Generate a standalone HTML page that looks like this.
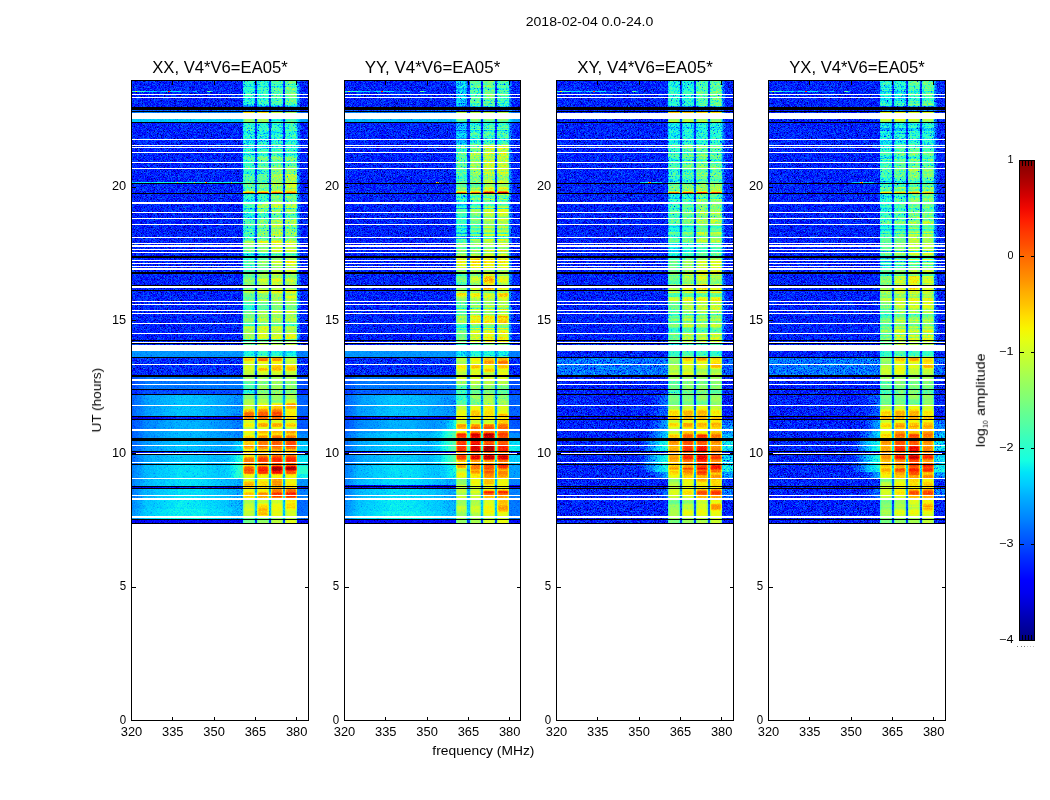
<!DOCTYPE html>
<html><head><meta charset="utf-8"><title>2018-02-04 0.0-24.0</title>
<style>html,body{margin:0;padding:0;background:#fff;}body{width:1050px;height:800px;overflow:hidden;font-family:"Liberation Sans",sans-serif;}svg{display:block;}text{font-family:"Liberation Sans",sans-serif;fill:#000;}.s{mix-blend-mode:screen}.m{mix-blend-mode:multiply}</style>
</head><body>
<svg width="1050" height="800" viewBox="0 0 1050 800">
<defs>
<filter id="jet0" x="0" y="0" width="100%" height="100%" filterUnits="objectBoundingBox" color-interpolation-filters="sRGB">
<feTurbulence type="fractalNoise" baseFrequency="1.7 1.63" numOctaves="1" seed="3" result="n"/>
<feColorMatrix in="n" type="matrix" values="1 0 0 0 0  1 0 0 0 0  1 0 0 0 0  0 0 0 0 1" result="n1"/>
<feComponentTransfer in="n1" result="ng"><feFuncR type="table" tableValues="0 0 0 0 0 0 0 0 0 0 0 0 0 .004 .064 .12 .165 .21 .249 .285 .313 .338 .359 .377 .393 .408 .423 .436 .449 .463 .477 .489 .499 .511 .521 .532 .541 .549 .557 .564 .57 .578 .585 .592 .6 .608 .616 .626 .634 .641 .649 .655 .663 .663 .663 .663 .663 .663 .663 .663 .663 .663 .663 .663 .663"/><feFuncG type="table" tableValues="0 0 0 0 0 0 0 0 0 0 0 0 0 .004 .064 .12 .165 .21 .249 .285 .313 .338 .359 .377 .393 .408 .423 .436 .449 .463 .477 .489 .499 .511 .521 .532 .541 .549 .557 .564 .57 .578 .585 .592 .6 .608 .616 .626 .634 .641 .649 .655 .663 .663 .663 .663 .663 .663 .663 .663 .663 .663 .663 .663 .663"/><feFuncB type="table" tableValues="0 0 0 0 0 0 0 0 0 0 0 0 0 .004 .064 .12 .165 .21 .249 .285 .313 .338 .359 .377 .393 .408 .423 .436 .449 .463 .477 .489 .499 .511 .521 .532 .541 .549 .557 .564 .57 .578 .585 .592 .6 .608 .616 .626 .634 .641 .649 .655 .663 .663 .663 .663 .663 .663 .663 .663 .663 .663 .663 .663 .663"/></feComponentTransfer>
<feColorMatrix in="SourceGraphic" type="matrix" values="1 0 0 0 0  1 0 0 0 0  1 0 0 0 0  0 0 0 0 1" result="val"/>
<feColorMatrix in="SourceGraphic" type="matrix" values="0 1 0 0 0  0 1 0 0 0  0 1 0 0 0  0 0 0 0 1" result="amp"/>
<feComposite in="amp" in2="ng" operator="arithmetic" k1="1" k2="0" k3="0" k4="0" result="prod"/>
<feComposite in="val" in2="prod" operator="arithmetic" k1="0" k2="1.25" k3="1" k4="-0.25" result="v"/>
<feComponentTransfer in="v">
<feFuncR type="table" tableValues="0 0 0 0 0 0 0 0 0 0 0 0 0 0 0 0 0 0 0 0 0 0 0 .035 .085 .136 .187 .237 .288 .338 .389 .44 .49 .541 .591 .642 .693 .743 .794 .844 .895 .946 .996 1 1 1 1 1 1 1 1 1 1 1 1 1 1 .981 .91 .839 .767 .696 .625 .553 .5"/>
<feFuncG type="table" tableValues="0 0 0 0 0 0 0 0 .002 .065 .127 .19 .253 .316 .378 .441 .504 .567 .629 .692 .755 .818 .88 .943 1 1 1 1 1 1 1 1 1 1 1 1 1 1 1 1 1 .988 .93 .872 .814 .756 .698 .64 .582 .524 .466 .407 .349 .291 .233 .175 .117 .059 .001 0 0 0 0 0 0"/>
<feFuncB type="table" tableValues=".5 .571 .643 .714 .785 .857 .928 .999 1 1 1 1 1 1 1 1 1 1 1 1 1 1 .984 .933 .882 .832 .781 .731 .68 .629 .579 .528 .478 .427 .376 .326 .275 .225 .174 .123 .073 .022 0 0 0 0 0 0 0 0 0 0 0 0 0 0 0 0 0 0 0 0 0 0 0"/>
<feFuncA type="linear" slope="0" intercept="1"/>
</feComponentTransfer>
</filter>
<filter id="jet1" x="0" y="0" width="100%" height="100%" filterUnits="objectBoundingBox" color-interpolation-filters="sRGB">
<feTurbulence type="fractalNoise" baseFrequency="1.7 1.63" numOctaves="1" seed="10" result="n"/>
<feColorMatrix in="n" type="matrix" values="1 0 0 0 0  1 0 0 0 0  1 0 0 0 0  0 0 0 0 1" result="n1"/>
<feComponentTransfer in="n1" result="ng"><feFuncR type="table" tableValues="0 0 0 0 0 0 0 0 0 0 0 0 0 .004 .064 .12 .165 .21 .249 .285 .313 .338 .359 .377 .393 .408 .423 .436 .449 .463 .477 .489 .499 .511 .521 .532 .541 .549 .557 .564 .57 .578 .585 .592 .6 .608 .616 .626 .634 .641 .649 .655 .663 .663 .663 .663 .663 .663 .663 .663 .663 .663 .663 .663 .663"/><feFuncG type="table" tableValues="0 0 0 0 0 0 0 0 0 0 0 0 0 .004 .064 .12 .165 .21 .249 .285 .313 .338 .359 .377 .393 .408 .423 .436 .449 .463 .477 .489 .499 .511 .521 .532 .541 .549 .557 .564 .57 .578 .585 .592 .6 .608 .616 .626 .634 .641 .649 .655 .663 .663 .663 .663 .663 .663 .663 .663 .663 .663 .663 .663 .663"/><feFuncB type="table" tableValues="0 0 0 0 0 0 0 0 0 0 0 0 0 .004 .064 .12 .165 .21 .249 .285 .313 .338 .359 .377 .393 .408 .423 .436 .449 .463 .477 .489 .499 .511 .521 .532 .541 .549 .557 .564 .57 .578 .585 .592 .6 .608 .616 .626 .634 .641 .649 .655 .663 .663 .663 .663 .663 .663 .663 .663 .663 .663 .663 .663 .663"/></feComponentTransfer>
<feColorMatrix in="SourceGraphic" type="matrix" values="1 0 0 0 0  1 0 0 0 0  1 0 0 0 0  0 0 0 0 1" result="val"/>
<feColorMatrix in="SourceGraphic" type="matrix" values="0 1 0 0 0  0 1 0 0 0  0 1 0 0 0  0 0 0 0 1" result="amp"/>
<feComposite in="amp" in2="ng" operator="arithmetic" k1="1" k2="0" k3="0" k4="0" result="prod"/>
<feComposite in="val" in2="prod" operator="arithmetic" k1="0" k2="1.25" k3="1" k4="-0.25" result="v"/>
<feComponentTransfer in="v">
<feFuncR type="table" tableValues="0 0 0 0 0 0 0 0 0 0 0 0 0 0 0 0 0 0 0 0 0 0 0 .035 .085 .136 .187 .237 .288 .338 .389 .44 .49 .541 .591 .642 .693 .743 .794 .844 .895 .946 .996 1 1 1 1 1 1 1 1 1 1 1 1 1 1 .981 .91 .839 .767 .696 .625 .553 .5"/>
<feFuncG type="table" tableValues="0 0 0 0 0 0 0 0 .002 .065 .127 .19 .253 .316 .378 .441 .504 .567 .629 .692 .755 .818 .88 .943 1 1 1 1 1 1 1 1 1 1 1 1 1 1 1 1 1 .988 .93 .872 .814 .756 .698 .64 .582 .524 .466 .407 .349 .291 .233 .175 .117 .059 .001 0 0 0 0 0 0"/>
<feFuncB type="table" tableValues=".5 .571 .643 .714 .785 .857 .928 .999 1 1 1 1 1 1 1 1 1 1 1 1 1 1 .984 .933 .882 .832 .781 .731 .68 .629 .579 .528 .478 .427 .376 .326 .275 .225 .174 .123 .073 .022 0 0 0 0 0 0 0 0 0 0 0 0 0 0 0 0 0 0 0 0 0 0 0"/>
<feFuncA type="linear" slope="0" intercept="1"/>
</feComponentTransfer>
</filter>
<filter id="jet2" x="0" y="0" width="100%" height="100%" filterUnits="objectBoundingBox" color-interpolation-filters="sRGB">
<feTurbulence type="fractalNoise" baseFrequency="1.7 1.63" numOctaves="1" seed="17" result="n"/>
<feColorMatrix in="n" type="matrix" values="1 0 0 0 0  1 0 0 0 0  1 0 0 0 0  0 0 0 0 1" result="n1"/>
<feComponentTransfer in="n1" result="ng"><feFuncR type="table" tableValues="0 0 0 0 0 0 0 0 0 0 0 0 0 .004 .064 .12 .165 .21 .249 .285 .313 .338 .359 .377 .393 .408 .423 .436 .449 .463 .477 .489 .499 .511 .521 .532 .541 .549 .557 .564 .57 .578 .585 .592 .6 .608 .616 .626 .634 .641 .649 .655 .663 .663 .663 .663 .663 .663 .663 .663 .663 .663 .663 .663 .663"/><feFuncG type="table" tableValues="0 0 0 0 0 0 0 0 0 0 0 0 0 .004 .064 .12 .165 .21 .249 .285 .313 .338 .359 .377 .393 .408 .423 .436 .449 .463 .477 .489 .499 .511 .521 .532 .541 .549 .557 .564 .57 .578 .585 .592 .6 .608 .616 .626 .634 .641 .649 .655 .663 .663 .663 .663 .663 .663 .663 .663 .663 .663 .663 .663 .663"/><feFuncB type="table" tableValues="0 0 0 0 0 0 0 0 0 0 0 0 0 .004 .064 .12 .165 .21 .249 .285 .313 .338 .359 .377 .393 .408 .423 .436 .449 .463 .477 .489 .499 .511 .521 .532 .541 .549 .557 .564 .57 .578 .585 .592 .6 .608 .616 .626 .634 .641 .649 .655 .663 .663 .663 .663 .663 .663 .663 .663 .663 .663 .663 .663 .663"/></feComponentTransfer>
<feColorMatrix in="SourceGraphic" type="matrix" values="1 0 0 0 0  1 0 0 0 0  1 0 0 0 0  0 0 0 0 1" result="val"/>
<feColorMatrix in="SourceGraphic" type="matrix" values="0 1 0 0 0  0 1 0 0 0  0 1 0 0 0  0 0 0 0 1" result="amp"/>
<feComposite in="amp" in2="ng" operator="arithmetic" k1="1" k2="0" k3="0" k4="0" result="prod"/>
<feComposite in="val" in2="prod" operator="arithmetic" k1="0" k2="1.25" k3="1" k4="-0.25" result="v"/>
<feComponentTransfer in="v">
<feFuncR type="table" tableValues="0 0 0 0 0 0 0 0 0 0 0 0 0 0 0 0 0 0 0 0 0 0 0 .035 .085 .136 .187 .237 .288 .338 .389 .44 .49 .541 .591 .642 .693 .743 .794 .844 .895 .946 .996 1 1 1 1 1 1 1 1 1 1 1 1 1 1 .981 .91 .839 .767 .696 .625 .553 .5"/>
<feFuncG type="table" tableValues="0 0 0 0 0 0 0 0 .002 .065 .127 .19 .253 .316 .378 .441 .504 .567 .629 .692 .755 .818 .88 .943 1 1 1 1 1 1 1 1 1 1 1 1 1 1 1 1 1 .988 .93 .872 .814 .756 .698 .64 .582 .524 .466 .407 .349 .291 .233 .175 .117 .059 .001 0 0 0 0 0 0"/>
<feFuncB type="table" tableValues=".5 .571 .643 .714 .785 .857 .928 .999 1 1 1 1 1 1 1 1 1 1 1 1 1 1 .984 .933 .882 .832 .781 .731 .68 .629 .579 .528 .478 .427 .376 .326 .275 .225 .174 .123 .073 .022 0 0 0 0 0 0 0 0 0 0 0 0 0 0 0 0 0 0 0 0 0 0 0"/>
<feFuncA type="linear" slope="0" intercept="1"/>
</feComponentTransfer>
</filter>
<filter id="jet3" x="0" y="0" width="100%" height="100%" filterUnits="objectBoundingBox" color-interpolation-filters="sRGB">
<feTurbulence type="fractalNoise" baseFrequency="1.7 1.63" numOctaves="1" seed="24" result="n"/>
<feColorMatrix in="n" type="matrix" values="1 0 0 0 0  1 0 0 0 0  1 0 0 0 0  0 0 0 0 1" result="n1"/>
<feComponentTransfer in="n1" result="ng"><feFuncR type="table" tableValues="0 0 0 0 0 0 0 0 0 0 0 0 0 .004 .064 .12 .165 .21 .249 .285 .313 .338 .359 .377 .393 .408 .423 .436 .449 .463 .477 .489 .499 .511 .521 .532 .541 .549 .557 .564 .57 .578 .585 .592 .6 .608 .616 .626 .634 .641 .649 .655 .663 .663 .663 .663 .663 .663 .663 .663 .663 .663 .663 .663 .663"/><feFuncG type="table" tableValues="0 0 0 0 0 0 0 0 0 0 0 0 0 .004 .064 .12 .165 .21 .249 .285 .313 .338 .359 .377 .393 .408 .423 .436 .449 .463 .477 .489 .499 .511 .521 .532 .541 .549 .557 .564 .57 .578 .585 .592 .6 .608 .616 .626 .634 .641 .649 .655 .663 .663 .663 .663 .663 .663 .663 .663 .663 .663 .663 .663 .663"/><feFuncB type="table" tableValues="0 0 0 0 0 0 0 0 0 0 0 0 0 .004 .064 .12 .165 .21 .249 .285 .313 .338 .359 .377 .393 .408 .423 .436 .449 .463 .477 .489 .499 .511 .521 .532 .541 .549 .557 .564 .57 .578 .585 .592 .6 .608 .616 .626 .634 .641 .649 .655 .663 .663 .663 .663 .663 .663 .663 .663 .663 .663 .663 .663 .663"/></feComponentTransfer>
<feColorMatrix in="SourceGraphic" type="matrix" values="1 0 0 0 0  1 0 0 0 0  1 0 0 0 0  0 0 0 0 1" result="val"/>
<feColorMatrix in="SourceGraphic" type="matrix" values="0 1 0 0 0  0 1 0 0 0  0 1 0 0 0  0 0 0 0 1" result="amp"/>
<feComposite in="amp" in2="ng" operator="arithmetic" k1="1" k2="0" k3="0" k4="0" result="prod"/>
<feComposite in="val" in2="prod" operator="arithmetic" k1="0" k2="1.25" k3="1" k4="-0.25" result="v"/>
<feComponentTransfer in="v">
<feFuncR type="table" tableValues="0 0 0 0 0 0 0 0 0 0 0 0 0 0 0 0 0 0 0 0 0 0 0 .035 .085 .136 .187 .237 .288 .338 .389 .44 .49 .541 .591 .642 .693 .743 .794 .844 .895 .946 .996 1 1 1 1 1 1 1 1 1 1 1 1 1 1 .981 .91 .839 .767 .696 .625 .553 .5"/>
<feFuncG type="table" tableValues="0 0 0 0 0 0 0 0 .002 .065 .127 .19 .253 .316 .378 .441 .504 .567 .629 .692 .755 .818 .88 .943 1 1 1 1 1 1 1 1 1 1 1 1 1 1 1 1 1 .988 .93 .872 .814 .756 .698 .64 .582 .524 .466 .407 .349 .291 .233 .175 .117 .059 .001 0 0 0 0 0 0"/>
<feFuncB type="table" tableValues=".5 .571 .643 .714 .785 .857 .928 .999 1 1 1 1 1 1 1 1 1 1 1 1 1 1 .984 .933 .882 .832 .781 .731 .68 .629 .579 .528 .478 .427 .376 .326 .275 .225 .174 .123 .073 .022 0 0 0 0 0 0 0 0 0 0 0 0 0 0 0 0 0 0 0 0 0 0 0"/>
<feFuncA type="linear" slope="0" intercept="1"/>
</feComponentTransfer>
</filter>
<linearGradient id="cb" x1="0" y1="1" x2="0" y2="0">
<stop offset="0.000" stop-color="#000080"/>
<stop offset="0.025" stop-color="#00009b"/>
<stop offset="0.050" stop-color="#0000b6"/>
<stop offset="0.075" stop-color="#0000d6"/>
<stop offset="0.100" stop-color="#0000f1"/>
<stop offset="0.125" stop-color="#0000ff"/>
<stop offset="0.150" stop-color="#0018ff"/>
<stop offset="0.175" stop-color="#0030ff"/>
<stop offset="0.200" stop-color="#004cff"/>
<stop offset="0.225" stop-color="#0064ff"/>
<stop offset="0.250" stop-color="#0080ff"/>
<stop offset="0.275" stop-color="#0098ff"/>
<stop offset="0.300" stop-color="#00b0ff"/>
<stop offset="0.325" stop-color="#00ccff"/>
<stop offset="0.350" stop-color="#00e4f8"/>
<stop offset="0.375" stop-color="#16ffe1"/>
<stop offset="0.400" stop-color="#29ffce"/>
<stop offset="0.425" stop-color="#3cffba"/>
<stop offset="0.450" stop-color="#53ffa4"/>
<stop offset="0.475" stop-color="#66ff90"/>
<stop offset="0.500" stop-color="#7dff7a"/>
<stop offset="0.525" stop-color="#90ff66"/>
<stop offset="0.550" stop-color="#a4ff53"/>
<stop offset="0.575" stop-color="#baff3c"/>
<stop offset="0.600" stop-color="#ceff29"/>
<stop offset="0.625" stop-color="#e4ff13"/>
<stop offset="0.650" stop-color="#f8f500"/>
<stop offset="0.675" stop-color="#ffde00"/>
<stop offset="0.700" stop-color="#ffc400"/>
<stop offset="0.725" stop-color="#ffae00"/>
<stop offset="0.750" stop-color="#ff9400"/>
<stop offset="0.775" stop-color="#ff7e00"/>
<stop offset="0.800" stop-color="#ff6800"/>
<stop offset="0.825" stop-color="#ff4e00"/>
<stop offset="0.850" stop-color="#ff3800"/>
<stop offset="0.875" stop-color="#ff1e00"/>
<stop offset="0.900" stop-color="#f10800"/>
<stop offset="0.925" stop-color="#d60000"/>
<stop offset="0.950" stop-color="#b60000"/>
<stop offset="0.975" stop-color="#9b0000"/>
<stop offset="1.000" stop-color="#800000"/>
</linearGradient>
<linearGradient id="b00" gradientUnits="userSpaceOnUse" x1="0" y1="80" x2="0" y2="524">
<stop offset="0.0027" stop-color="#4b9e00"/><stop offset="0.0581" stop-color="#4b9e00"/><stop offset="0.0626" stop-color="#252400"/><stop offset="0.0658" stop-color="#252400"/><stop offset="0.0698" stop-color="#3f9e00"/><stop offset="0.0732" stop-color="#be2400"/><stop offset="0.0770" stop-color="#a93800"/><stop offset="0.0919" stop-color="#a93800"/><stop offset="0.0973" stop-color="#4b9e00"/><stop offset="0.1302" stop-color="#4b9e00"/><stop offset="0.1356" stop-color="#4b9e00"/><stop offset="0.1595" stop-color="#4b9e00"/><stop offset="0.1649" stop-color="#509e00"/><stop offset="0.1955" stop-color="#509e00"/><stop offset="0.2009" stop-color="#509e00"/><stop offset="0.2293" stop-color="#509e00"/><stop offset="0.2347" stop-color="#589e00"/><stop offset="0.2495" stop-color="#589e00"/><stop offset="0.2534" stop-color="#c62400"/><stop offset="0.2572" stop-color="#499e00"/><stop offset="0.2743" stop-color="#499e00"/><stop offset="0.2797" stop-color="#509e00"/><stop offset="0.2946" stop-color="#509e00"/><stop offset="0.3000" stop-color="#549e00"/><stop offset="0.3216" stop-color="#549e00"/><stop offset="0.3270" stop-color="#549e00"/><stop offset="0.3509" stop-color="#549e00"/><stop offset="0.3563" stop-color="#589e00"/><stop offset="0.3622" stop-color="#589e00"/><stop offset="0.3660" stop-color="#995700"/><stop offset="0.3698" stop-color="#7a5700"/><stop offset="0.3959" stop-color="#7a5700"/><stop offset="0.4014" stop-color="#745700"/><stop offset="0.4320" stop-color="#745700"/><stop offset="0.4374" stop-color="#855700"/><stop offset="0.4703" stop-color="#855700"/><stop offset="0.4757" stop-color="#895700"/><stop offset="0.4838" stop-color="#895700"/><stop offset="0.4883" stop-color="#895700"/><stop offset="0.4914" stop-color="#895700"/><stop offset="0.4950" stop-color="#895700"/><stop offset="0.4982" stop-color="#895700"/><stop offset="0.5027" stop-color="#7a5700"/><stop offset="0.5221" stop-color="#7a5700"/><stop offset="0.5275" stop-color="#855700"/><stop offset="0.5446" stop-color="#855700"/><stop offset="0.5500" stop-color="#895700"/><stop offset="0.5671" stop-color="#895700"/><stop offset="0.5725" stop-color="#855700"/><stop offset="0.5941" stop-color="#855700"/><stop offset="0.5995" stop-color="#5e5700"/><stop offset="0.6212" stop-color="#5e5700"/><stop offset="0.6257" stop-color="#b62400"/><stop offset="0.6311" stop-color="#b62400"/><stop offset="0.6347" stop-color="#a92400"/><stop offset="0.6378" stop-color="#a92400"/><stop offset="0.6414" stop-color="#a32400"/><stop offset="0.6468" stop-color="#a32400"/><stop offset="0.6505" stop-color="#a32400"/><stop offset="0.6536" stop-color="#a32400"/><stop offset="0.6572" stop-color="#9d2400"/><stop offset="0.6626" stop-color="#9d2400"/><stop offset="0.6671" stop-color="#913800"/><stop offset="0.6752" stop-color="#913800"/><stop offset="0.6797" stop-color="#705700"/><stop offset="0.6851" stop-color="#705700"/><stop offset="0.6887" stop-color="#7c3800"/><stop offset="0.6941" stop-color="#7c3800"/><stop offset="0.6986" stop-color="#685700"/><stop offset="0.7045" stop-color="#685700"/><stop offset="0.7099" stop-color="#952400"/><stop offset="0.7180" stop-color="#952400"/><stop offset="0.7225" stop-color="#992400"/><stop offset="0.7257" stop-color="#992400"/><stop offset="0.7293" stop-color="#9d2400"/><stop offset="0.7324" stop-color="#9d2400"/><stop offset="0.7360" stop-color="#a12400"/><stop offset="0.7392" stop-color="#a12400"/><stop offset="0.7428" stop-color="#ba2400"/><stop offset="0.7459" stop-color="#ba2400"/><stop offset="0.7505" stop-color="#ca2400"/><stop offset="0.7563" stop-color="#ca2400"/><stop offset="0.7608" stop-color="#c62400"/><stop offset="0.7640" stop-color="#c62400"/><stop offset="0.7676" stop-color="#a52400"/><stop offset="0.7707" stop-color="#a52400"/><stop offset="0.7743" stop-color="#ad2400"/><stop offset="0.7797" stop-color="#ad2400"/><stop offset="0.7833" stop-color="#9f2400"/><stop offset="0.7887" stop-color="#9f2400"/><stop offset="0.7923" stop-color="#ad2400"/><stop offset="0.7955" stop-color="#ad2400"/><stop offset="0.8000" stop-color="#b62400"/><stop offset="0.8104" stop-color="#b62400"/><stop offset="0.8149" stop-color="#b62400"/><stop offset="0.8203" stop-color="#b62400"/><stop offset="0.8239" stop-color="#c22400"/><stop offset="0.8293" stop-color="#c22400"/><stop offset="0.8329" stop-color="#ad2400"/><stop offset="0.8360" stop-color="#ad2400"/><stop offset="0.8396" stop-color="#b62400"/><stop offset="0.8428" stop-color="#b62400"/><stop offset="0.8468" stop-color="#b12400"/><stop offset="0.8518" stop-color="#ca2400"/><stop offset="0.8577" stop-color="#ca2400"/><stop offset="0.8626" stop-color="#c62400"/><stop offset="0.8671" stop-color="#ad2400"/><stop offset="0.8712" stop-color="#ce2400"/><stop offset="0.8766" stop-color="#ce2400"/><stop offset="0.8802" stop-color="#ce2400"/><stop offset="0.8856" stop-color="#ce2400"/><stop offset="0.8892" stop-color="#a92400"/><stop offset="0.8946" stop-color="#a92400"/><stop offset="0.8982" stop-color="#a12400"/><stop offset="0.9014" stop-color="#a12400"/><stop offset="0.9059" stop-color="#be2400"/><stop offset="0.9117" stop-color="#be2400"/><stop offset="0.9162" stop-color="#b12400"/><stop offset="0.9194" stop-color="#b12400"/><stop offset="0.9230" stop-color="#ad2400"/><stop offset="0.9261" stop-color="#ad2400"/><stop offset="0.9306" stop-color="#b62400"/><stop offset="0.9387" stop-color="#b62400"/><stop offset="0.9441" stop-color="#992400"/><stop offset="0.9523" stop-color="#992400"/><stop offset="0.9577" stop-color="#9f2400"/><stop offset="0.9635" stop-color="#9f2400"/><stop offset="0.9689" stop-color="#a52400"/><stop offset="0.9793" stop-color="#a52400"/><stop offset="0.9838" stop-color="#8b2400"/><stop offset="0.9869" stop-color="#8b2400"/><stop offset="0.9914" stop-color="#8b2400"/><stop offset="0.9973" stop-color="#8b2400"/>
</linearGradient>
<linearGradient id="b01" gradientUnits="userSpaceOnUse" x1="0" y1="80" x2="0" y2="524">
<stop offset="0.0027" stop-color="#509e00"/><stop offset="0.0581" stop-color="#509e00"/><stop offset="0.0626" stop-color="#252400"/><stop offset="0.0658" stop-color="#252400"/><stop offset="0.0698" stop-color="#3f9e00"/><stop offset="0.0732" stop-color="#be2400"/><stop offset="0.0770" stop-color="#b13800"/><stop offset="0.0919" stop-color="#b13800"/><stop offset="0.0973" stop-color="#4b9e00"/><stop offset="0.1302" stop-color="#4b9e00"/><stop offset="0.1356" stop-color="#509e00"/><stop offset="0.1595" stop-color="#509e00"/><stop offset="0.1649" stop-color="#589e00"/><stop offset="0.1955" stop-color="#589e00"/><stop offset="0.2009" stop-color="#549e00"/><stop offset="0.2293" stop-color="#549e00"/><stop offset="0.2347" stop-color="#5e9e00"/><stop offset="0.2495" stop-color="#5e9e00"/><stop offset="0.2534" stop-color="#ce2400"/><stop offset="0.2572" stop-color="#509e00"/><stop offset="0.2743" stop-color="#509e00"/><stop offset="0.2797" stop-color="#689e00"/><stop offset="0.2946" stop-color="#689e00"/><stop offset="0.3000" stop-color="#5e9e00"/><stop offset="0.3216" stop-color="#5e9e00"/><stop offset="0.3270" stop-color="#649e00"/><stop offset="0.3509" stop-color="#649e00"/><stop offset="0.3563" stop-color="#689e00"/><stop offset="0.3622" stop-color="#689e00"/><stop offset="0.3660" stop-color="#a95700"/><stop offset="0.3698" stop-color="#815700"/><stop offset="0.3959" stop-color="#815700"/><stop offset="0.4014" stop-color="#815700"/><stop offset="0.4320" stop-color="#815700"/><stop offset="0.4374" stop-color="#935700"/><stop offset="0.4703" stop-color="#935700"/><stop offset="0.4757" stop-color="#955700"/><stop offset="0.4838" stop-color="#955700"/><stop offset="0.4883" stop-color="#955700"/><stop offset="0.4914" stop-color="#955700"/><stop offset="0.4950" stop-color="#955700"/><stop offset="0.4982" stop-color="#955700"/><stop offset="0.5027" stop-color="#895700"/><stop offset="0.5221" stop-color="#895700"/><stop offset="0.5275" stop-color="#8f5700"/><stop offset="0.5446" stop-color="#8f5700"/><stop offset="0.5500" stop-color="#955700"/><stop offset="0.5671" stop-color="#955700"/><stop offset="0.5725" stop-color="#955700"/><stop offset="0.5941" stop-color="#955700"/><stop offset="0.5995" stop-color="#665700"/><stop offset="0.6212" stop-color="#665700"/><stop offset="0.6257" stop-color="#ca2400"/><stop offset="0.6311" stop-color="#ca2400"/><stop offset="0.6347" stop-color="#ad2400"/><stop offset="0.6378" stop-color="#ad2400"/><stop offset="0.6414" stop-color="#a52400"/><stop offset="0.6468" stop-color="#a52400"/><stop offset="0.6505" stop-color="#ba2400"/><stop offset="0.6536" stop-color="#ba2400"/><stop offset="0.6572" stop-color="#a12400"/><stop offset="0.6626" stop-color="#a12400"/><stop offset="0.6671" stop-color="#913800"/><stop offset="0.6752" stop-color="#913800"/><stop offset="0.6797" stop-color="#785700"/><stop offset="0.6851" stop-color="#785700"/><stop offset="0.6887" stop-color="#913800"/><stop offset="0.6941" stop-color="#913800"/><stop offset="0.6986" stop-color="#815700"/><stop offset="0.7045" stop-color="#815700"/><stop offset="0.7099" stop-color="#992400"/><stop offset="0.7180" stop-color="#992400"/><stop offset="0.7225" stop-color="#992400"/><stop offset="0.7257" stop-color="#992400"/><stop offset="0.7293" stop-color="#a52400"/><stop offset="0.7324" stop-color="#a52400"/><stop offset="0.7360" stop-color="#b12400"/><stop offset="0.7392" stop-color="#b12400"/><stop offset="0.7428" stop-color="#c62400"/><stop offset="0.7459" stop-color="#c62400"/><stop offset="0.7505" stop-color="#ce2400"/><stop offset="0.7563" stop-color="#ce2400"/><stop offset="0.7608" stop-color="#ca2400"/><stop offset="0.7640" stop-color="#ca2400"/><stop offset="0.7676" stop-color="#a92400"/><stop offset="0.7707" stop-color="#a92400"/><stop offset="0.7743" stop-color="#be2400"/><stop offset="0.7797" stop-color="#be2400"/><stop offset="0.7833" stop-color="#a52400"/><stop offset="0.7887" stop-color="#a52400"/><stop offset="0.7923" stop-color="#ba2400"/><stop offset="0.7955" stop-color="#ba2400"/><stop offset="0.8000" stop-color="#c22400"/><stop offset="0.8104" stop-color="#c22400"/><stop offset="0.8149" stop-color="#c62400"/><stop offset="0.8203" stop-color="#c62400"/><stop offset="0.8239" stop-color="#ca2400"/><stop offset="0.8293" stop-color="#ca2400"/><stop offset="0.8329" stop-color="#b62400"/><stop offset="0.8360" stop-color="#b62400"/><stop offset="0.8396" stop-color="#ba2400"/><stop offset="0.8428" stop-color="#ba2400"/><stop offset="0.8468" stop-color="#ca2400"/><stop offset="0.8518" stop-color="#d82400"/><stop offset="0.8577" stop-color="#d82400"/><stop offset="0.8626" stop-color="#ca2400"/><stop offset="0.8671" stop-color="#b62400"/><stop offset="0.8712" stop-color="#da2400"/><stop offset="0.8766" stop-color="#da2400"/><stop offset="0.8802" stop-color="#d82400"/><stop offset="0.8856" stop-color="#d82400"/><stop offset="0.8892" stop-color="#ad2400"/><stop offset="0.8946" stop-color="#ad2400"/><stop offset="0.8982" stop-color="#a92400"/><stop offset="0.9014" stop-color="#a92400"/><stop offset="0.9059" stop-color="#b62400"/><stop offset="0.9117" stop-color="#b62400"/><stop offset="0.9162" stop-color="#b12400"/><stop offset="0.9194" stop-color="#b12400"/><stop offset="0.9230" stop-color="#b12400"/><stop offset="0.9261" stop-color="#b12400"/><stop offset="0.9306" stop-color="#c22400"/><stop offset="0.9387" stop-color="#c22400"/><stop offset="0.9441" stop-color="#9f2400"/><stop offset="0.9523" stop-color="#9f2400"/><stop offset="0.9577" stop-color="#b12400"/><stop offset="0.9635" stop-color="#b12400"/><stop offset="0.9689" stop-color="#be2400"/><stop offset="0.9793" stop-color="#be2400"/><stop offset="0.9838" stop-color="#952400"/><stop offset="0.9869" stop-color="#952400"/><stop offset="0.9914" stop-color="#952400"/><stop offset="0.9973" stop-color="#952400"/>
</linearGradient>
<linearGradient id="b02" gradientUnits="userSpaceOnUse" x1="0" y1="80" x2="0" y2="524">
<stop offset="0.0027" stop-color="#589e00"/><stop offset="0.0581" stop-color="#589e00"/><stop offset="0.0626" stop-color="#252400"/><stop offset="0.0658" stop-color="#252400"/><stop offset="0.0698" stop-color="#3f9e00"/><stop offset="0.0732" stop-color="#a92400"/><stop offset="0.0770" stop-color="#853800"/><stop offset="0.0919" stop-color="#853800"/><stop offset="0.0973" stop-color="#4b9e00"/><stop offset="0.1302" stop-color="#4b9e00"/><stop offset="0.1356" stop-color="#549e00"/><stop offset="0.1595" stop-color="#549e00"/><stop offset="0.1649" stop-color="#5e9e00"/><stop offset="0.1955" stop-color="#5e9e00"/><stop offset="0.2009" stop-color="#689e00"/><stop offset="0.2293" stop-color="#689e00"/><stop offset="0.2347" stop-color="#689e00"/><stop offset="0.2495" stop-color="#689e00"/><stop offset="0.2534" stop-color="#ce2400"/><stop offset="0.2572" stop-color="#629e00"/><stop offset="0.2743" stop-color="#629e00"/><stop offset="0.2797" stop-color="#729e00"/><stop offset="0.2946" stop-color="#729e00"/><stop offset="0.3000" stop-color="#6c9e00"/><stop offset="0.3216" stop-color="#6c9e00"/><stop offset="0.3270" stop-color="#729e00"/><stop offset="0.3509" stop-color="#729e00"/><stop offset="0.3563" stop-color="#729e00"/><stop offset="0.3622" stop-color="#729e00"/><stop offset="0.3660" stop-color="#ad5700"/><stop offset="0.3698" stop-color="#915700"/><stop offset="0.3959" stop-color="#915700"/><stop offset="0.4014" stop-color="#8f5700"/><stop offset="0.4320" stop-color="#8f5700"/><stop offset="0.4374" stop-color="#995700"/><stop offset="0.4703" stop-color="#995700"/><stop offset="0.4757" stop-color="#995700"/><stop offset="0.4838" stop-color="#995700"/><stop offset="0.4883" stop-color="#9d5700"/><stop offset="0.4914" stop-color="#9d5700"/><stop offset="0.4950" stop-color="#995700"/><stop offset="0.4982" stop-color="#995700"/><stop offset="0.5027" stop-color="#955700"/><stop offset="0.5221" stop-color="#955700"/><stop offset="0.5275" stop-color="#8f5700"/><stop offset="0.5446" stop-color="#8f5700"/><stop offset="0.5500" stop-color="#8f5700"/><stop offset="0.5671" stop-color="#8f5700"/><stop offset="0.5725" stop-color="#955700"/><stop offset="0.5941" stop-color="#955700"/><stop offset="0.5995" stop-color="#625700"/><stop offset="0.6212" stop-color="#625700"/><stop offset="0.6257" stop-color="#c22400"/><stop offset="0.6311" stop-color="#c22400"/><stop offset="0.6347" stop-color="#ad2400"/><stop offset="0.6378" stop-color="#ad2400"/><stop offset="0.6414" stop-color="#b62400"/><stop offset="0.6468" stop-color="#b62400"/><stop offset="0.6505" stop-color="#ba2400"/><stop offset="0.6536" stop-color="#ba2400"/><stop offset="0.6572" stop-color="#a12400"/><stop offset="0.6626" stop-color="#a12400"/><stop offset="0.6671" stop-color="#913800"/><stop offset="0.6752" stop-color="#913800"/><stop offset="0.6797" stop-color="#815700"/><stop offset="0.6851" stop-color="#815700"/><stop offset="0.6887" stop-color="#913800"/><stop offset="0.6941" stop-color="#913800"/><stop offset="0.6986" stop-color="#855700"/><stop offset="0.7045" stop-color="#855700"/><stop offset="0.7099" stop-color="#992400"/><stop offset="0.7180" stop-color="#992400"/><stop offset="0.7225" stop-color="#8d2400"/><stop offset="0.7257" stop-color="#8d2400"/><stop offset="0.7293" stop-color="#ad2400"/><stop offset="0.7324" stop-color="#ad2400"/><stop offset="0.7360" stop-color="#ba2400"/><stop offset="0.7392" stop-color="#ba2400"/><stop offset="0.7428" stop-color="#ca2400"/><stop offset="0.7459" stop-color="#ca2400"/><stop offset="0.7505" stop-color="#d22400"/><stop offset="0.7563" stop-color="#d22400"/><stop offset="0.7608" stop-color="#ca2400"/><stop offset="0.7640" stop-color="#ca2400"/><stop offset="0.7676" stop-color="#a52400"/><stop offset="0.7707" stop-color="#a52400"/><stop offset="0.7743" stop-color="#be2400"/><stop offset="0.7797" stop-color="#be2400"/><stop offset="0.7833" stop-color="#a52400"/><stop offset="0.7887" stop-color="#a52400"/><stop offset="0.7923" stop-color="#ba2400"/><stop offset="0.7955" stop-color="#ba2400"/><stop offset="0.8000" stop-color="#ca2400"/><stop offset="0.8104" stop-color="#ca2400"/><stop offset="0.8149" stop-color="#ce2400"/><stop offset="0.8203" stop-color="#ce2400"/><stop offset="0.8239" stop-color="#ce2400"/><stop offset="0.8293" stop-color="#ce2400"/><stop offset="0.8329" stop-color="#be2400"/><stop offset="0.8360" stop-color="#be2400"/><stop offset="0.8396" stop-color="#be2400"/><stop offset="0.8428" stop-color="#be2400"/><stop offset="0.8468" stop-color="#d22400"/><stop offset="0.8518" stop-color="#dc2400"/><stop offset="0.8577" stop-color="#dc2400"/><stop offset="0.8626" stop-color="#ce2400"/><stop offset="0.8671" stop-color="#be2400"/><stop offset="0.8712" stop-color="#ef2400"/><stop offset="0.8766" stop-color="#ef2400"/><stop offset="0.8802" stop-color="#e22400"/><stop offset="0.8856" stop-color="#e22400"/><stop offset="0.8892" stop-color="#ad2400"/><stop offset="0.8946" stop-color="#ad2400"/><stop offset="0.8982" stop-color="#be2400"/><stop offset="0.9014" stop-color="#be2400"/><stop offset="0.9059" stop-color="#c62400"/><stop offset="0.9117" stop-color="#c62400"/><stop offset="0.9162" stop-color="#b62400"/><stop offset="0.9194" stop-color="#b62400"/><stop offset="0.9230" stop-color="#ce2400"/><stop offset="0.9261" stop-color="#ce2400"/><stop offset="0.9306" stop-color="#d62400"/><stop offset="0.9387" stop-color="#d62400"/><stop offset="0.9441" stop-color="#a12400"/><stop offset="0.9523" stop-color="#a12400"/><stop offset="0.9577" stop-color="#a92400"/><stop offset="0.9635" stop-color="#a92400"/><stop offset="0.9689" stop-color="#ad2400"/><stop offset="0.9793" stop-color="#ad2400"/><stop offset="0.9838" stop-color="#992400"/><stop offset="0.9869" stop-color="#992400"/><stop offset="0.9914" stop-color="#9f2400"/><stop offset="0.9973" stop-color="#9f2400"/>
</linearGradient>
<linearGradient id="b03" gradientUnits="userSpaceOnUse" x1="0" y1="80" x2="0" y2="524">
<stop offset="0.0027" stop-color="#5e9e00"/><stop offset="0.0581" stop-color="#5e9e00"/><stop offset="0.0626" stop-color="#252400"/><stop offset="0.0658" stop-color="#252400"/><stop offset="0.0698" stop-color="#3f9e00"/><stop offset="0.0732" stop-color="#a12400"/><stop offset="0.0770" stop-color="#953800"/><stop offset="0.0919" stop-color="#953800"/><stop offset="0.0973" stop-color="#509e00"/><stop offset="0.1302" stop-color="#509e00"/><stop offset="0.1356" stop-color="#549e00"/><stop offset="0.1595" stop-color="#549e00"/><stop offset="0.1649" stop-color="#5a9e00"/><stop offset="0.1955" stop-color="#5a9e00"/><stop offset="0.2009" stop-color="#6c9e00"/><stop offset="0.2293" stop-color="#6c9e00"/><stop offset="0.2347" stop-color="#729e00"/><stop offset="0.2495" stop-color="#729e00"/><stop offset="0.2534" stop-color="#ca2400"/><stop offset="0.2572" stop-color="#629e00"/><stop offset="0.2743" stop-color="#629e00"/><stop offset="0.2797" stop-color="#6c9e00"/><stop offset="0.2946" stop-color="#6c9e00"/><stop offset="0.3000" stop-color="#689e00"/><stop offset="0.3216" stop-color="#689e00"/><stop offset="0.3270" stop-color="#689e00"/><stop offset="0.3509" stop-color="#689e00"/><stop offset="0.3563" stop-color="#6c9e00"/><stop offset="0.3622" stop-color="#6c9e00"/><stop offset="0.3660" stop-color="#a55700"/><stop offset="0.3698" stop-color="#8f5700"/><stop offset="0.3959" stop-color="#8f5700"/><stop offset="0.4014" stop-color="#995700"/><stop offset="0.4320" stop-color="#995700"/><stop offset="0.4374" stop-color="#915700"/><stop offset="0.4703" stop-color="#915700"/><stop offset="0.4757" stop-color="#995700"/><stop offset="0.4838" stop-color="#995700"/><stop offset="0.4883" stop-color="#b15700"/><stop offset="0.4914" stop-color="#b15700"/><stop offset="0.4950" stop-color="#995700"/><stop offset="0.4982" stop-color="#995700"/><stop offset="0.5027" stop-color="#955700"/><stop offset="0.5221" stop-color="#955700"/><stop offset="0.5275" stop-color="#8f5700"/><stop offset="0.5446" stop-color="#8f5700"/><stop offset="0.5500" stop-color="#895700"/><stop offset="0.5671" stop-color="#895700"/><stop offset="0.5725" stop-color="#995700"/><stop offset="0.5941" stop-color="#995700"/><stop offset="0.5995" stop-color="#5e5700"/><stop offset="0.6212" stop-color="#5e5700"/><stop offset="0.6257" stop-color="#a12400"/><stop offset="0.6311" stop-color="#a12400"/><stop offset="0.6347" stop-color="#a12400"/><stop offset="0.6378" stop-color="#a12400"/><stop offset="0.6414" stop-color="#b12400"/><stop offset="0.6468" stop-color="#b12400"/><stop offset="0.6505" stop-color="#b62400"/><stop offset="0.6536" stop-color="#b62400"/><stop offset="0.6572" stop-color="#9d2400"/><stop offset="0.6626" stop-color="#9d2400"/><stop offset="0.6671" stop-color="#913800"/><stop offset="0.6752" stop-color="#913800"/><stop offset="0.6797" stop-color="#7c5700"/><stop offset="0.6851" stop-color="#7c5700"/><stop offset="0.6887" stop-color="#8d3800"/><stop offset="0.6941" stop-color="#8d3800"/><stop offset="0.6986" stop-color="#815700"/><stop offset="0.7045" stop-color="#815700"/><stop offset="0.7099" stop-color="#9d2400"/><stop offset="0.7180" stop-color="#9d2400"/><stop offset="0.7225" stop-color="#a12400"/><stop offset="0.7257" stop-color="#a12400"/><stop offset="0.7293" stop-color="#be2400"/><stop offset="0.7324" stop-color="#be2400"/><stop offset="0.7360" stop-color="#be2400"/><stop offset="0.7392" stop-color="#be2400"/><stop offset="0.7428" stop-color="#ad2400"/><stop offset="0.7459" stop-color="#ad2400"/><stop offset="0.7505" stop-color="#ad2400"/><stop offset="0.7563" stop-color="#ad2400"/><stop offset="0.7608" stop-color="#b62400"/><stop offset="0.7640" stop-color="#b62400"/><stop offset="0.7676" stop-color="#a52400"/><stop offset="0.7707" stop-color="#a52400"/><stop offset="0.7743" stop-color="#b62400"/><stop offset="0.7797" stop-color="#b62400"/><stop offset="0.7833" stop-color="#a12400"/><stop offset="0.7887" stop-color="#a12400"/><stop offset="0.7923" stop-color="#c22400"/><stop offset="0.7955" stop-color="#c22400"/><stop offset="0.8000" stop-color="#ca2400"/><stop offset="0.8104" stop-color="#ca2400"/><stop offset="0.8149" stop-color="#d22400"/><stop offset="0.8203" stop-color="#d22400"/><stop offset="0.8239" stop-color="#d22400"/><stop offset="0.8293" stop-color="#d22400"/><stop offset="0.8329" stop-color="#ba2400"/><stop offset="0.8360" stop-color="#ba2400"/><stop offset="0.8396" stop-color="#be2400"/><stop offset="0.8428" stop-color="#be2400"/><stop offset="0.8468" stop-color="#d22400"/><stop offset="0.8518" stop-color="#dc2400"/><stop offset="0.8577" stop-color="#dc2400"/><stop offset="0.8626" stop-color="#ca2400"/><stop offset="0.8671" stop-color="#c62400"/><stop offset="0.8712" stop-color="#ef2400"/><stop offset="0.8766" stop-color="#ef2400"/><stop offset="0.8802" stop-color="#d22400"/><stop offset="0.8856" stop-color="#d22400"/><stop offset="0.8892" stop-color="#ad2400"/><stop offset="0.8946" stop-color="#ad2400"/><stop offset="0.8982" stop-color="#a92400"/><stop offset="0.9014" stop-color="#a92400"/><stop offset="0.9059" stop-color="#b12400"/><stop offset="0.9117" stop-color="#b12400"/><stop offset="0.9162" stop-color="#b12400"/><stop offset="0.9194" stop-color="#b12400"/><stop offset="0.9230" stop-color="#d22400"/><stop offset="0.9261" stop-color="#d22400"/><stop offset="0.9306" stop-color="#da2400"/><stop offset="0.9387" stop-color="#da2400"/><stop offset="0.9441" stop-color="#ad2400"/><stop offset="0.9523" stop-color="#ad2400"/><stop offset="0.9577" stop-color="#b12400"/><stop offset="0.9635" stop-color="#b12400"/><stop offset="0.9689" stop-color="#a92400"/><stop offset="0.9793" stop-color="#a92400"/><stop offset="0.9838" stop-color="#9f2400"/><stop offset="0.9869" stop-color="#9f2400"/><stop offset="0.9914" stop-color="#a92400"/><stop offset="0.9973" stop-color="#a92400"/>
</linearGradient>
<linearGradient id="b10" gradientUnits="userSpaceOnUse" x1="0" y1="80" x2="0" y2="524">
<stop offset="0.0027" stop-color="#3d9e00"/><stop offset="0.0581" stop-color="#3d9e00"/><stop offset="0.0626" stop-color="#252400"/><stop offset="0.0658" stop-color="#252400"/><stop offset="0.0698" stop-color="#3d9e00"/><stop offset="0.0732" stop-color="#c42400"/><stop offset="0.0770" stop-color="#b42400"/><stop offset="0.0919" stop-color="#b42400"/><stop offset="0.0973" stop-color="#3d9e00"/><stop offset="0.1437" stop-color="#3d9e00"/><stop offset="0.1491" stop-color="#569e00"/><stop offset="0.1595" stop-color="#569e00"/><stop offset="0.1649" stop-color="#5a9e00"/><stop offset="0.1955" stop-color="#5a9e00"/><stop offset="0.2009" stop-color="#5a9e00"/><stop offset="0.2293" stop-color="#5a9e00"/><stop offset="0.2347" stop-color="#875700"/><stop offset="0.2495" stop-color="#875700"/><stop offset="0.2534" stop-color="#c82400"/><stop offset="0.2572" stop-color="#529e00"/><stop offset="0.2743" stop-color="#529e00"/><stop offset="0.2797" stop-color="#725700"/><stop offset="0.2946" stop-color="#725700"/><stop offset="0.3000" stop-color="#725700"/><stop offset="0.3216" stop-color="#725700"/><stop offset="0.3270" stop-color="#6e5700"/><stop offset="0.3509" stop-color="#6e5700"/><stop offset="0.3563" stop-color="#765700"/><stop offset="0.3644" stop-color="#765700"/><stop offset="0.3698" stop-color="#875700"/><stop offset="0.3959" stop-color="#875700"/><stop offset="0.4014" stop-color="#975700"/><stop offset="0.4320" stop-color="#975700"/><stop offset="0.4374" stop-color="#7c5700"/><stop offset="0.4703" stop-color="#7c5700"/><stop offset="0.4757" stop-color="#9f5700"/><stop offset="0.4838" stop-color="#9f5700"/><stop offset="0.4892" stop-color="#875700"/><stop offset="0.4973" stop-color="#875700"/><stop offset="0.5027" stop-color="#875700"/><stop offset="0.5221" stop-color="#875700"/><stop offset="0.5275" stop-color="#875700"/><stop offset="0.5446" stop-color="#875700"/><stop offset="0.5500" stop-color="#835700"/><stop offset="0.5671" stop-color="#835700"/><stop offset="0.5725" stop-color="#835700"/><stop offset="0.5941" stop-color="#835700"/><stop offset="0.5995" stop-color="#5a5700"/><stop offset="0.6212" stop-color="#5a5700"/><stop offset="0.6257" stop-color="#9f2400"/><stop offset="0.6311" stop-color="#9f2400"/><stop offset="0.6347" stop-color="#952400"/><stop offset="0.6378" stop-color="#952400"/><stop offset="0.6423" stop-color="#ad2400"/><stop offset="0.6482" stop-color="#ad2400"/><stop offset="0.6527" stop-color="#a52400"/><stop offset="0.6559" stop-color="#a52400"/><stop offset="0.6595" stop-color="#9f2400"/><stop offset="0.6626" stop-color="#9f2400"/><stop offset="0.6671" stop-color="#9d3800"/><stop offset="0.6752" stop-color="#9d3800"/><stop offset="0.6797" stop-color="#8d3800"/><stop offset="0.6851" stop-color="#8d3800"/><stop offset="0.6887" stop-color="#705700"/><stop offset="0.6941" stop-color="#705700"/><stop offset="0.6986" stop-color="#685700"/><stop offset="0.7045" stop-color="#685700"/><stop offset="0.7099" stop-color="#685700"/><stop offset="0.7158" stop-color="#685700"/><stop offset="0.7212" stop-color="#6c5700"/><stop offset="0.7293" stop-color="#6c5700"/><stop offset="0.7347" stop-color="#9f2400"/><stop offset="0.7405" stop-color="#9f2400"/><stop offset="0.7450" stop-color="#a92400"/><stop offset="0.7505" stop-color="#a92400"/><stop offset="0.7541" stop-color="#a92400"/><stop offset="0.7572" stop-color="#a92400"/><stop offset="0.7608" stop-color="#ad2400"/><stop offset="0.7640" stop-color="#ad2400"/><stop offset="0.7676" stop-color="#9d2400"/><stop offset="0.7730" stop-color="#9d2400"/><stop offset="0.7766" stop-color="#c22400"/><stop offset="0.7797" stop-color="#c22400"/><stop offset="0.7833" stop-color="#be2400"/><stop offset="0.7887" stop-color="#be2400"/><stop offset="0.7928" stop-color="#a92400"/><stop offset="0.7977" stop-color="#da2400"/><stop offset="0.8104" stop-color="#da2400"/><stop offset="0.8149" stop-color="#d62400"/><stop offset="0.8203" stop-color="#d62400"/><stop offset="0.8248" stop-color="#da2400"/><stop offset="0.8351" stop-color="#da2400"/><stop offset="0.8396" stop-color="#be2400"/><stop offset="0.8428" stop-color="#be2400"/><stop offset="0.8473" stop-color="#da2400"/><stop offset="0.8532" stop-color="#da2400"/><stop offset="0.8577" stop-color="#b62400"/><stop offset="0.8631" stop-color="#b62400"/><stop offset="0.8667" stop-color="#c22400"/><stop offset="0.8721" stop-color="#c22400"/><stop offset="0.8766" stop-color="#a52400"/><stop offset="0.8824" stop-color="#a52400"/><stop offset="0.8878" stop-color="#ad2400"/><stop offset="0.8937" stop-color="#ad2400"/><stop offset="0.8991" stop-color="#952400"/><stop offset="0.9095" stop-color="#952400"/><stop offset="0.9140" stop-color="#a12400"/><stop offset="0.9194" stop-color="#a12400"/><stop offset="0.9234" stop-color="#a92400"/><stop offset="0.9275" stop-color="#9f2400"/><stop offset="0.9329" stop-color="#9f2400"/><stop offset="0.9365" stop-color="#a92400"/><stop offset="0.9396" stop-color="#a92400"/><stop offset="0.9441" stop-color="#952400"/><stop offset="0.9568" stop-color="#952400"/><stop offset="0.9622" stop-color="#9f2400"/><stop offset="0.9680" stop-color="#9f2400"/><stop offset="0.9734" stop-color="#992400"/><stop offset="0.9793" stop-color="#992400"/><stop offset="0.9838" stop-color="#952400"/><stop offset="0.9869" stop-color="#952400"/><stop offset="0.9914" stop-color="#952400"/><stop offset="0.9973" stop-color="#952400"/>
</linearGradient>
<linearGradient id="b11" gradientUnits="userSpaceOnUse" x1="0" y1="80" x2="0" y2="524">
<stop offset="0.0027" stop-color="#5a9e00"/><stop offset="0.0581" stop-color="#5a9e00"/><stop offset="0.0626" stop-color="#252400"/><stop offset="0.0658" stop-color="#252400"/><stop offset="0.0698" stop-color="#3d9e00"/><stop offset="0.0732" stop-color="#c42400"/><stop offset="0.0770" stop-color="#bc2400"/><stop offset="0.0919" stop-color="#bc2400"/><stop offset="0.0973" stop-color="#569e00"/><stop offset="0.1437" stop-color="#569e00"/><stop offset="0.1491" stop-color="#669e00"/><stop offset="0.1595" stop-color="#669e00"/><stop offset="0.1649" stop-color="#6a9e00"/><stop offset="0.1955" stop-color="#6a9e00"/><stop offset="0.2009" stop-color="#6a9e00"/><stop offset="0.2293" stop-color="#6a9e00"/><stop offset="0.2347" stop-color="#8b5700"/><stop offset="0.2495" stop-color="#8b5700"/><stop offset="0.2534" stop-color="#cc2400"/><stop offset="0.2572" stop-color="#629e00"/><stop offset="0.2743" stop-color="#629e00"/><stop offset="0.2797" stop-color="#875700"/><stop offset="0.2946" stop-color="#875700"/><stop offset="0.3000" stop-color="#835700"/><stop offset="0.3216" stop-color="#835700"/><stop offset="0.3270" stop-color="#7e5700"/><stop offset="0.3509" stop-color="#7e5700"/><stop offset="0.3563" stop-color="#875700"/><stop offset="0.3644" stop-color="#875700"/><stop offset="0.3698" stop-color="#8b5700"/><stop offset="0.3959" stop-color="#8b5700"/><stop offset="0.4014" stop-color="#9f5700"/><stop offset="0.4320" stop-color="#9f5700"/><stop offset="0.4374" stop-color="#915700"/><stop offset="0.4703" stop-color="#915700"/><stop offset="0.4757" stop-color="#9b5700"/><stop offset="0.4838" stop-color="#9b5700"/><stop offset="0.4892" stop-color="#915700"/><stop offset="0.4973" stop-color="#915700"/><stop offset="0.5027" stop-color="#975700"/><stop offset="0.5221" stop-color="#975700"/><stop offset="0.5275" stop-color="#9b5700"/><stop offset="0.5446" stop-color="#9b5700"/><stop offset="0.5500" stop-color="#9b5700"/><stop offset="0.5671" stop-color="#9b5700"/><stop offset="0.5725" stop-color="#9b5700"/><stop offset="0.5941" stop-color="#9b5700"/><stop offset="0.5995" stop-color="#625700"/><stop offset="0.6212" stop-color="#625700"/><stop offset="0.6257" stop-color="#ad2400"/><stop offset="0.6311" stop-color="#ad2400"/><stop offset="0.6347" stop-color="#a52400"/><stop offset="0.6378" stop-color="#a52400"/><stop offset="0.6423" stop-color="#b62400"/><stop offset="0.6482" stop-color="#b62400"/><stop offset="0.6527" stop-color="#a52400"/><stop offset="0.6559" stop-color="#a52400"/><stop offset="0.6595" stop-color="#a92400"/><stop offset="0.6626" stop-color="#a92400"/><stop offset="0.6671" stop-color="#9d3800"/><stop offset="0.6752" stop-color="#9d3800"/><stop offset="0.6797" stop-color="#913800"/><stop offset="0.6851" stop-color="#913800"/><stop offset="0.6887" stop-color="#815700"/><stop offset="0.6941" stop-color="#815700"/><stop offset="0.6986" stop-color="#705700"/><stop offset="0.7045" stop-color="#705700"/><stop offset="0.7099" stop-color="#815700"/><stop offset="0.7158" stop-color="#815700"/><stop offset="0.7212" stop-color="#765700"/><stop offset="0.7293" stop-color="#765700"/><stop offset="0.7347" stop-color="#a92400"/><stop offset="0.7405" stop-color="#a92400"/><stop offset="0.7450" stop-color="#b62400"/><stop offset="0.7505" stop-color="#b62400"/><stop offset="0.7541" stop-color="#b62400"/><stop offset="0.7572" stop-color="#b62400"/><stop offset="0.7608" stop-color="#ad2400"/><stop offset="0.7640" stop-color="#ad2400"/><stop offset="0.7676" stop-color="#9f2400"/><stop offset="0.7730" stop-color="#9f2400"/><stop offset="0.7766" stop-color="#c22400"/><stop offset="0.7797" stop-color="#c22400"/><stop offset="0.7833" stop-color="#d22400"/><stop offset="0.7887" stop-color="#d22400"/><stop offset="0.7928" stop-color="#c22400"/><stop offset="0.7977" stop-color="#e72400"/><stop offset="0.8104" stop-color="#e72400"/><stop offset="0.8149" stop-color="#de2400"/><stop offset="0.8203" stop-color="#de2400"/><stop offset="0.8248" stop-color="#e72400"/><stop offset="0.8351" stop-color="#e72400"/><stop offset="0.8396" stop-color="#c22400"/><stop offset="0.8428" stop-color="#c22400"/><stop offset="0.8473" stop-color="#e72400"/><stop offset="0.8532" stop-color="#e72400"/><stop offset="0.8577" stop-color="#be2400"/><stop offset="0.8631" stop-color="#be2400"/><stop offset="0.8667" stop-color="#ca2400"/><stop offset="0.8721" stop-color="#ca2400"/><stop offset="0.8766" stop-color="#c62400"/><stop offset="0.8824" stop-color="#c62400"/><stop offset="0.8878" stop-color="#b12400"/><stop offset="0.8937" stop-color="#b12400"/><stop offset="0.8991" stop-color="#ad2400"/><stop offset="0.9095" stop-color="#ad2400"/><stop offset="0.9140" stop-color="#a52400"/><stop offset="0.9194" stop-color="#a52400"/><stop offset="0.9234" stop-color="#a52400"/><stop offset="0.9275" stop-color="#a52400"/><stop offset="0.9329" stop-color="#a52400"/><stop offset="0.9365" stop-color="#a92400"/><stop offset="0.9396" stop-color="#a92400"/><stop offset="0.9441" stop-color="#992400"/><stop offset="0.9568" stop-color="#992400"/><stop offset="0.9622" stop-color="#a12400"/><stop offset="0.9680" stop-color="#a12400"/><stop offset="0.9734" stop-color="#9f2400"/><stop offset="0.9793" stop-color="#9f2400"/><stop offset="0.9838" stop-color="#952400"/><stop offset="0.9869" stop-color="#952400"/><stop offset="0.9914" stop-color="#992400"/><stop offset="0.9973" stop-color="#992400"/>
</linearGradient>
<linearGradient id="b12" gradientUnits="userSpaceOnUse" x1="0" y1="80" x2="0" y2="524">
<stop offset="0.0027" stop-color="#609e00"/><stop offset="0.0581" stop-color="#609e00"/><stop offset="0.0626" stop-color="#252400"/><stop offset="0.0658" stop-color="#252400"/><stop offset="0.0698" stop-color="#3d9e00"/><stop offset="0.0732" stop-color="#c42400"/><stop offset="0.0770" stop-color="#b82400"/><stop offset="0.0919" stop-color="#b82400"/><stop offset="0.0973" stop-color="#5a9e00"/><stop offset="0.1437" stop-color="#5a9e00"/><stop offset="0.1491" stop-color="#7a9e00"/><stop offset="0.1595" stop-color="#7a9e00"/><stop offset="0.1649" stop-color="#749e00"/><stop offset="0.1955" stop-color="#749e00"/><stop offset="0.2009" stop-color="#769e00"/><stop offset="0.2293" stop-color="#769e00"/><stop offset="0.2347" stop-color="#9b5700"/><stop offset="0.2495" stop-color="#9b5700"/><stop offset="0.2534" stop-color="#e92400"/><stop offset="0.2572" stop-color="#6a9e00"/><stop offset="0.2743" stop-color="#6a9e00"/><stop offset="0.2797" stop-color="#935700"/><stop offset="0.2946" stop-color="#935700"/><stop offset="0.3000" stop-color="#915700"/><stop offset="0.3216" stop-color="#915700"/><stop offset="0.3270" stop-color="#935700"/><stop offset="0.3509" stop-color="#935700"/><stop offset="0.3563" stop-color="#935700"/><stop offset="0.3644" stop-color="#935700"/><stop offset="0.3698" stop-color="#935700"/><stop offset="0.3959" stop-color="#935700"/><stop offset="0.4014" stop-color="#9b5700"/><stop offset="0.4320" stop-color="#9b5700"/><stop offset="0.4374" stop-color="#ab5700"/><stop offset="0.4703" stop-color="#ab5700"/><stop offset="0.4757" stop-color="#915700"/><stop offset="0.4838" stop-color="#915700"/><stop offset="0.4892" stop-color="#915700"/><stop offset="0.4973" stop-color="#915700"/><stop offset="0.5027" stop-color="#9b5700"/><stop offset="0.5221" stop-color="#9b5700"/><stop offset="0.5275" stop-color="#9b5700"/><stop offset="0.5446" stop-color="#9b5700"/><stop offset="0.5500" stop-color="#9f5700"/><stop offset="0.5671" stop-color="#9f5700"/><stop offset="0.5725" stop-color="#a35700"/><stop offset="0.5941" stop-color="#a35700"/><stop offset="0.5995" stop-color="#625700"/><stop offset="0.6212" stop-color="#625700"/><stop offset="0.6257" stop-color="#b62400"/><stop offset="0.6311" stop-color="#b62400"/><stop offset="0.6347" stop-color="#c22400"/><stop offset="0.6378" stop-color="#c22400"/><stop offset="0.6423" stop-color="#a92400"/><stop offset="0.6482" stop-color="#a92400"/><stop offset="0.6527" stop-color="#b62400"/><stop offset="0.6559" stop-color="#b62400"/><stop offset="0.6595" stop-color="#9f2400"/><stop offset="0.6626" stop-color="#9f2400"/><stop offset="0.6671" stop-color="#9d3800"/><stop offset="0.6752" stop-color="#9d3800"/><stop offset="0.6797" stop-color="#913800"/><stop offset="0.6851" stop-color="#913800"/><stop offset="0.6887" stop-color="#815700"/><stop offset="0.6941" stop-color="#815700"/><stop offset="0.6986" stop-color="#765700"/><stop offset="0.7045" stop-color="#765700"/><stop offset="0.7099" stop-color="#855700"/><stop offset="0.7158" stop-color="#855700"/><stop offset="0.7212" stop-color="#855700"/><stop offset="0.7293" stop-color="#855700"/><stop offset="0.7347" stop-color="#ad2400"/><stop offset="0.7405" stop-color="#ad2400"/><stop offset="0.7450" stop-color="#b12400"/><stop offset="0.7505" stop-color="#b12400"/><stop offset="0.7541" stop-color="#b12400"/><stop offset="0.7572" stop-color="#b12400"/><stop offset="0.7608" stop-color="#ad2400"/><stop offset="0.7640" stop-color="#ad2400"/><stop offset="0.7676" stop-color="#9f2400"/><stop offset="0.7730" stop-color="#9f2400"/><stop offset="0.7766" stop-color="#ca2400"/><stop offset="0.7797" stop-color="#ca2400"/><stop offset="0.7833" stop-color="#d62400"/><stop offset="0.7887" stop-color="#d62400"/><stop offset="0.7928" stop-color="#c22400"/><stop offset="0.7977" stop-color="#ed2400"/><stop offset="0.8104" stop-color="#ed2400"/><stop offset="0.8149" stop-color="#d02400"/><stop offset="0.8203" stop-color="#d02400"/><stop offset="0.8248" stop-color="#ef2400"/><stop offset="0.8351" stop-color="#ef2400"/><stop offset="0.8396" stop-color="#c62400"/><stop offset="0.8428" stop-color="#c62400"/><stop offset="0.8473" stop-color="#ef2400"/><stop offset="0.8532" stop-color="#ef2400"/><stop offset="0.8577" stop-color="#be2400"/><stop offset="0.8631" stop-color="#be2400"/><stop offset="0.8667" stop-color="#d22400"/><stop offset="0.8721" stop-color="#d22400"/><stop offset="0.8766" stop-color="#d22400"/><stop offset="0.8824" stop-color="#d22400"/><stop offset="0.8878" stop-color="#c42400"/><stop offset="0.8937" stop-color="#c42400"/><stop offset="0.8991" stop-color="#ba2400"/><stop offset="0.9095" stop-color="#ba2400"/><stop offset="0.9140" stop-color="#a92400"/><stop offset="0.9194" stop-color="#a92400"/><stop offset="0.9234" stop-color="#b62400"/><stop offset="0.9275" stop-color="#da2400"/><stop offset="0.9329" stop-color="#da2400"/><stop offset="0.9365" stop-color="#c22400"/><stop offset="0.9396" stop-color="#c22400"/><stop offset="0.9441" stop-color="#a52400"/><stop offset="0.9568" stop-color="#a52400"/><stop offset="0.9622" stop-color="#a92400"/><stop offset="0.9680" stop-color="#a92400"/><stop offset="0.9734" stop-color="#ad2400"/><stop offset="0.9793" stop-color="#ad2400"/><stop offset="0.9838" stop-color="#992400"/><stop offset="0.9869" stop-color="#992400"/><stop offset="0.9914" stop-color="#a52400"/><stop offset="0.9973" stop-color="#a52400"/>
</linearGradient>
<linearGradient id="b13" gradientUnits="userSpaceOnUse" x1="0" y1="80" x2="0" y2="524">
<stop offset="0.0027" stop-color="#569e00"/><stop offset="0.0581" stop-color="#569e00"/><stop offset="0.0626" stop-color="#252400"/><stop offset="0.0658" stop-color="#252400"/><stop offset="0.0698" stop-color="#3d9e00"/><stop offset="0.0732" stop-color="#c42400"/><stop offset="0.0770" stop-color="#bc2400"/><stop offset="0.0919" stop-color="#bc2400"/><stop offset="0.0973" stop-color="#5a9e00"/><stop offset="0.1437" stop-color="#5a9e00"/><stop offset="0.1491" stop-color="#7a9e00"/><stop offset="0.1595" stop-color="#7a9e00"/><stop offset="0.1649" stop-color="#749e00"/><stop offset="0.1955" stop-color="#749e00"/><stop offset="0.2009" stop-color="#769e00"/><stop offset="0.2293" stop-color="#769e00"/><stop offset="0.2347" stop-color="#9b5700"/><stop offset="0.2495" stop-color="#9b5700"/><stop offset="0.2534" stop-color="#e92400"/><stop offset="0.2572" stop-color="#6a9e00"/><stop offset="0.2743" stop-color="#6a9e00"/><stop offset="0.2797" stop-color="#975700"/><stop offset="0.2946" stop-color="#975700"/><stop offset="0.3000" stop-color="#955700"/><stop offset="0.3216" stop-color="#955700"/><stop offset="0.3270" stop-color="#935700"/><stop offset="0.3509" stop-color="#935700"/><stop offset="0.3563" stop-color="#975700"/><stop offset="0.3644" stop-color="#975700"/><stop offset="0.3698" stop-color="#975700"/><stop offset="0.3959" stop-color="#975700"/><stop offset="0.4014" stop-color="#9b5700"/><stop offset="0.4320" stop-color="#9b5700"/><stop offset="0.4374" stop-color="#975700"/><stop offset="0.4703" stop-color="#975700"/><stop offset="0.4757" stop-color="#a35700"/><stop offset="0.4838" stop-color="#a35700"/><stop offset="0.4892" stop-color="#975700"/><stop offset="0.4973" stop-color="#975700"/><stop offset="0.5027" stop-color="#9f5700"/><stop offset="0.5221" stop-color="#9f5700"/><stop offset="0.5275" stop-color="#a35700"/><stop offset="0.5446" stop-color="#a35700"/><stop offset="0.5500" stop-color="#a35700"/><stop offset="0.5671" stop-color="#a35700"/><stop offset="0.5725" stop-color="#a35700"/><stop offset="0.5941" stop-color="#a35700"/><stop offset="0.5995" stop-color="#5e5700"/><stop offset="0.6212" stop-color="#5e5700"/><stop offset="0.6257" stop-color="#ba2400"/><stop offset="0.6311" stop-color="#ba2400"/><stop offset="0.6347" stop-color="#ca2400"/><stop offset="0.6378" stop-color="#ca2400"/><stop offset="0.6423" stop-color="#b62400"/><stop offset="0.6482" stop-color="#b62400"/><stop offset="0.6527" stop-color="#a52400"/><stop offset="0.6559" stop-color="#a52400"/><stop offset="0.6595" stop-color="#ad2400"/><stop offset="0.6626" stop-color="#ad2400"/><stop offset="0.6671" stop-color="#9d3800"/><stop offset="0.6752" stop-color="#9d3800"/><stop offset="0.6797" stop-color="#913800"/><stop offset="0.6851" stop-color="#913800"/><stop offset="0.6887" stop-color="#7c5700"/><stop offset="0.6941" stop-color="#7c5700"/><stop offset="0.6986" stop-color="#705700"/><stop offset="0.7045" stop-color="#705700"/><stop offset="0.7099" stop-color="#7c5700"/><stop offset="0.7158" stop-color="#7c5700"/><stop offset="0.7212" stop-color="#815700"/><stop offset="0.7293" stop-color="#815700"/><stop offset="0.7347" stop-color="#a52400"/><stop offset="0.7405" stop-color="#a52400"/><stop offset="0.7450" stop-color="#a92400"/><stop offset="0.7505" stop-color="#a92400"/><stop offset="0.7541" stop-color="#ba2400"/><stop offset="0.7572" stop-color="#ba2400"/><stop offset="0.7608" stop-color="#ad2400"/><stop offset="0.7640" stop-color="#ad2400"/><stop offset="0.7676" stop-color="#b62400"/><stop offset="0.7730" stop-color="#b62400"/><stop offset="0.7766" stop-color="#ca2400"/><stop offset="0.7797" stop-color="#ca2400"/><stop offset="0.7833" stop-color="#d22400"/><stop offset="0.7887" stop-color="#d22400"/><stop offset="0.7928" stop-color="#ca2400"/><stop offset="0.7977" stop-color="#d62400"/><stop offset="0.8104" stop-color="#d62400"/><stop offset="0.8149" stop-color="#ce2400"/><stop offset="0.8203" stop-color="#ce2400"/><stop offset="0.8248" stop-color="#de2400"/><stop offset="0.8351" stop-color="#de2400"/><stop offset="0.8396" stop-color="#c22400"/><stop offset="0.8428" stop-color="#c22400"/><stop offset="0.8473" stop-color="#eb2400"/><stop offset="0.8532" stop-color="#eb2400"/><stop offset="0.8577" stop-color="#c62400"/><stop offset="0.8631" stop-color="#c62400"/><stop offset="0.8667" stop-color="#da2400"/><stop offset="0.8721" stop-color="#da2400"/><stop offset="0.8766" stop-color="#c62400"/><stop offset="0.8824" stop-color="#c62400"/><stop offset="0.8878" stop-color="#c22400"/><stop offset="0.8937" stop-color="#c22400"/><stop offset="0.8991" stop-color="#ad2400"/><stop offset="0.9095" stop-color="#ad2400"/><stop offset="0.9140" stop-color="#a92400"/><stop offset="0.9194" stop-color="#a92400"/><stop offset="0.9234" stop-color="#be2400"/><stop offset="0.9275" stop-color="#da2400"/><stop offset="0.9329" stop-color="#da2400"/><stop offset="0.9365" stop-color="#c62400"/><stop offset="0.9396" stop-color="#c62400"/><stop offset="0.9441" stop-color="#b62400"/><stop offset="0.9568" stop-color="#b62400"/><stop offset="0.9622" stop-color="#be2400"/><stop offset="0.9680" stop-color="#be2400"/><stop offset="0.9734" stop-color="#ad2400"/><stop offset="0.9793" stop-color="#ad2400"/><stop offset="0.9838" stop-color="#9f2400"/><stop offset="0.9869" stop-color="#9f2400"/><stop offset="0.9914" stop-color="#a92400"/><stop offset="0.9973" stop-color="#a92400"/>
</linearGradient>
<linearGradient id="b20" gradientUnits="userSpaceOnUse" x1="0" y1="80" x2="0" y2="524">
<stop offset="0.0027" stop-color="#4b9e00"/><stop offset="0.0581" stop-color="#4b9e00"/><stop offset="0.0626" stop-color="#252400"/><stop offset="0.0658" stop-color="#252400"/><stop offset="0.0698" stop-color="#3b9e00"/><stop offset="0.0732" stop-color="#ba2400"/><stop offset="0.0770" stop-color="#ad2400"/><stop offset="0.0919" stop-color="#ad2400"/><stop offset="0.0973" stop-color="#439e00"/><stop offset="0.1437" stop-color="#439e00"/><stop offset="0.1491" stop-color="#549e00"/><stop offset="0.1955" stop-color="#549e00"/><stop offset="0.2009" stop-color="#549e00"/><stop offset="0.2293" stop-color="#549e00"/><stop offset="0.2347" stop-color="#5e9e00"/><stop offset="0.2495" stop-color="#5e9e00"/><stop offset="0.2534" stop-color="#c62400"/><stop offset="0.2572" stop-color="#499e00"/><stop offset="0.2743" stop-color="#499e00"/><stop offset="0.2797" stop-color="#549e00"/><stop offset="0.2946" stop-color="#549e00"/><stop offset="0.3000" stop-color="#589e00"/><stop offset="0.3216" stop-color="#589e00"/><stop offset="0.3270" stop-color="#745700"/><stop offset="0.3509" stop-color="#745700"/><stop offset="0.3563" stop-color="#7a5700"/><stop offset="0.3644" stop-color="#7a5700"/><stop offset="0.3698" stop-color="#7a5700"/><stop offset="0.3959" stop-color="#7a5700"/><stop offset="0.4014" stop-color="#785700"/><stop offset="0.4320" stop-color="#785700"/><stop offset="0.4374" stop-color="#815700"/><stop offset="0.4703" stop-color="#815700"/><stop offset="0.4757" stop-color="#8f5700"/><stop offset="0.4973" stop-color="#8f5700"/><stop offset="0.5027" stop-color="#7c5700"/><stop offset="0.5221" stop-color="#7c5700"/><stop offset="0.5275" stop-color="#855700"/><stop offset="0.5446" stop-color="#855700"/><stop offset="0.5500" stop-color="#855700"/><stop offset="0.5671" stop-color="#855700"/><stop offset="0.5725" stop-color="#815700"/><stop offset="0.5941" stop-color="#815700"/><stop offset="0.5995" stop-color="#645700"/><stop offset="0.6212" stop-color="#645700"/><stop offset="0.6257" stop-color="#952400"/><stop offset="0.6311" stop-color="#952400"/><stop offset="0.6347" stop-color="#952400"/><stop offset="0.6378" stop-color="#952400"/><stop offset="0.6414" stop-color="#9f2400"/><stop offset="0.6468" stop-color="#9f2400"/><stop offset="0.6514" stop-color="#a12400"/><stop offset="0.6617" stop-color="#a12400"/><stop offset="0.6671" stop-color="#8d3800"/><stop offset="0.6752" stop-color="#8d3800"/><stop offset="0.6797" stop-color="#705700"/><stop offset="0.6851" stop-color="#705700"/><stop offset="0.6887" stop-color="#833800"/><stop offset="0.6941" stop-color="#833800"/><stop offset="0.6986" stop-color="#6c5700"/><stop offset="0.7045" stop-color="#6c5700"/><stop offset="0.7099" stop-color="#8d2400"/><stop offset="0.7180" stop-color="#8d2400"/><stop offset="0.7234" stop-color="#8d2400"/><stop offset="0.7293" stop-color="#8d2400"/><stop offset="0.7347" stop-color="#9f2400"/><stop offset="0.7405" stop-color="#9f2400"/><stop offset="0.7459" stop-color="#b62400"/><stop offset="0.7563" stop-color="#b62400"/><stop offset="0.7608" stop-color="#be2400"/><stop offset="0.7640" stop-color="#be2400"/><stop offset="0.7676" stop-color="#9f2400"/><stop offset="0.7707" stop-color="#9f2400"/><stop offset="0.7743" stop-color="#b62400"/><stop offset="0.7797" stop-color="#b62400"/><stop offset="0.7833" stop-color="#a92400"/><stop offset="0.7887" stop-color="#a92400"/><stop offset="0.7923" stop-color="#a92400"/><stop offset="0.7955" stop-color="#a92400"/><stop offset="0.8000" stop-color="#b62400"/><stop offset="0.8104" stop-color="#b62400"/><stop offset="0.8149" stop-color="#c22400"/><stop offset="0.8203" stop-color="#c22400"/><stop offset="0.8248" stop-color="#be2400"/><stop offset="0.8351" stop-color="#be2400"/><stop offset="0.8396" stop-color="#be2400"/><stop offset="0.8428" stop-color="#be2400"/><stop offset="0.8464" stop-color="#c22400"/><stop offset="0.8518" stop-color="#c22400"/><stop offset="0.8563" stop-color="#ba2400"/><stop offset="0.8622" stop-color="#ba2400"/><stop offset="0.8667" stop-color="#b62400"/><stop offset="0.8721" stop-color="#b62400"/><stop offset="0.8757" stop-color="#be2400"/><stop offset="0.8811" stop-color="#be2400"/><stop offset="0.8847" stop-color="#b12400"/><stop offset="0.8878" stop-color="#b12400"/><stop offset="0.8914" stop-color="#ad2400"/><stop offset="0.8946" stop-color="#ad2400"/><stop offset="0.8982" stop-color="#952400"/><stop offset="0.9036" stop-color="#952400"/><stop offset="0.9072" stop-color="#9f2400"/><stop offset="0.9126" stop-color="#9f2400"/><stop offset="0.9162" stop-color="#a12400"/><stop offset="0.9194" stop-color="#a12400"/><stop offset="0.9234" stop-color="#a12400"/><stop offset="0.9275" stop-color="#a52400"/><stop offset="0.9329" stop-color="#a52400"/><stop offset="0.9365" stop-color="#a52400"/><stop offset="0.9396" stop-color="#a52400"/><stop offset="0.9441" stop-color="#8b2400"/><stop offset="0.9523" stop-color="#8b2400"/><stop offset="0.9577" stop-color="#952400"/><stop offset="0.9658" stop-color="#952400"/><stop offset="0.9712" stop-color="#992400"/><stop offset="0.9793" stop-color="#992400"/><stop offset="0.9838" stop-color="#952400"/><stop offset="0.9869" stop-color="#952400"/><stop offset="0.9914" stop-color="#912400"/><stop offset="0.9973" stop-color="#912400"/>
</linearGradient>
<linearGradient id="b21" gradientUnits="userSpaceOnUse" x1="0" y1="80" x2="0" y2="524">
<stop offset="0.0027" stop-color="#4b9e00"/><stop offset="0.0581" stop-color="#4b9e00"/><stop offset="0.0626" stop-color="#252400"/><stop offset="0.0658" stop-color="#252400"/><stop offset="0.0698" stop-color="#3b9e00"/><stop offset="0.0732" stop-color="#ba2400"/><stop offset="0.0770" stop-color="#b12400"/><stop offset="0.0919" stop-color="#b12400"/><stop offset="0.0973" stop-color="#479e00"/><stop offset="0.1437" stop-color="#479e00"/><stop offset="0.1491" stop-color="#5e9e00"/><stop offset="0.1955" stop-color="#5e9e00"/><stop offset="0.2009" stop-color="#5c9e00"/><stop offset="0.2293" stop-color="#5c9e00"/><stop offset="0.2347" stop-color="#649e00"/><stop offset="0.2495" stop-color="#649e00"/><stop offset="0.2534" stop-color="#ce2400"/><stop offset="0.2572" stop-color="#549e00"/><stop offset="0.2743" stop-color="#549e00"/><stop offset="0.2797" stop-color="#609e00"/><stop offset="0.2946" stop-color="#609e00"/><stop offset="0.3000" stop-color="#609e00"/><stop offset="0.3216" stop-color="#609e00"/><stop offset="0.3270" stop-color="#7c5700"/><stop offset="0.3509" stop-color="#7c5700"/><stop offset="0.3563" stop-color="#815700"/><stop offset="0.3644" stop-color="#815700"/><stop offset="0.3698" stop-color="#855700"/><stop offset="0.3959" stop-color="#855700"/><stop offset="0.4014" stop-color="#855700"/><stop offset="0.4320" stop-color="#855700"/><stop offset="0.4374" stop-color="#915700"/><stop offset="0.4703" stop-color="#915700"/><stop offset="0.4757" stop-color="#955700"/><stop offset="0.4973" stop-color="#955700"/><stop offset="0.5027" stop-color="#8d5700"/><stop offset="0.5221" stop-color="#8d5700"/><stop offset="0.5275" stop-color="#935700"/><stop offset="0.5446" stop-color="#935700"/><stop offset="0.5500" stop-color="#955700"/><stop offset="0.5671" stop-color="#955700"/><stop offset="0.5725" stop-color="#955700"/><stop offset="0.5941" stop-color="#955700"/><stop offset="0.5995" stop-color="#6c5700"/><stop offset="0.6212" stop-color="#6c5700"/><stop offset="0.6257" stop-color="#b62400"/><stop offset="0.6311" stop-color="#b62400"/><stop offset="0.6347" stop-color="#ad2400"/><stop offset="0.6378" stop-color="#ad2400"/><stop offset="0.6414" stop-color="#a92400"/><stop offset="0.6468" stop-color="#a92400"/><stop offset="0.6514" stop-color="#a92400"/><stop offset="0.6617" stop-color="#a92400"/><stop offset="0.6671" stop-color="#8d3800"/><stop offset="0.6752" stop-color="#8d3800"/><stop offset="0.6797" stop-color="#7c5700"/><stop offset="0.6851" stop-color="#7c5700"/><stop offset="0.6887" stop-color="#893800"/><stop offset="0.6941" stop-color="#893800"/><stop offset="0.6986" stop-color="#785700"/><stop offset="0.7045" stop-color="#785700"/><stop offset="0.7099" stop-color="#8f2400"/><stop offset="0.7180" stop-color="#8f2400"/><stop offset="0.7234" stop-color="#8f2400"/><stop offset="0.7293" stop-color="#8f2400"/><stop offset="0.7347" stop-color="#a52400"/><stop offset="0.7405" stop-color="#a52400"/><stop offset="0.7459" stop-color="#be2400"/><stop offset="0.7563" stop-color="#be2400"/><stop offset="0.7608" stop-color="#be2400"/><stop offset="0.7640" stop-color="#be2400"/><stop offset="0.7676" stop-color="#a52400"/><stop offset="0.7707" stop-color="#a52400"/><stop offset="0.7743" stop-color="#c22400"/><stop offset="0.7797" stop-color="#c22400"/><stop offset="0.7833" stop-color="#b62400"/><stop offset="0.7887" stop-color="#b62400"/><stop offset="0.7923" stop-color="#c22400"/><stop offset="0.7955" stop-color="#c22400"/><stop offset="0.8000" stop-color="#ce2400"/><stop offset="0.8104" stop-color="#ce2400"/><stop offset="0.8149" stop-color="#d02400"/><stop offset="0.8203" stop-color="#d02400"/><stop offset="0.8248" stop-color="#da2400"/><stop offset="0.8351" stop-color="#da2400"/><stop offset="0.8396" stop-color="#c62400"/><stop offset="0.8428" stop-color="#c62400"/><stop offset="0.8464" stop-color="#de2400"/><stop offset="0.8518" stop-color="#de2400"/><stop offset="0.8563" stop-color="#c62400"/><stop offset="0.8622" stop-color="#c62400"/><stop offset="0.8667" stop-color="#be2400"/><stop offset="0.8721" stop-color="#be2400"/><stop offset="0.8757" stop-color="#d22400"/><stop offset="0.8811" stop-color="#d22400"/><stop offset="0.8847" stop-color="#be2400"/><stop offset="0.8878" stop-color="#be2400"/><stop offset="0.8914" stop-color="#b62400"/><stop offset="0.8946" stop-color="#b62400"/><stop offset="0.8982" stop-color="#ad2400"/><stop offset="0.9036" stop-color="#ad2400"/><stop offset="0.9072" stop-color="#ad2400"/><stop offset="0.9126" stop-color="#ad2400"/><stop offset="0.9162" stop-color="#a92400"/><stop offset="0.9194" stop-color="#a92400"/><stop offset="0.9234" stop-color="#a92400"/><stop offset="0.9275" stop-color="#b12400"/><stop offset="0.9329" stop-color="#b12400"/><stop offset="0.9365" stop-color="#a92400"/><stop offset="0.9396" stop-color="#a92400"/><stop offset="0.9441" stop-color="#952400"/><stop offset="0.9523" stop-color="#952400"/><stop offset="0.9577" stop-color="#9f2400"/><stop offset="0.9658" stop-color="#9f2400"/><stop offset="0.9712" stop-color="#a92400"/><stop offset="0.9793" stop-color="#a92400"/><stop offset="0.9838" stop-color="#952400"/><stop offset="0.9869" stop-color="#952400"/><stop offset="0.9914" stop-color="#992400"/><stop offset="0.9973" stop-color="#992400"/>
</linearGradient>
<linearGradient id="b22" gradientUnits="userSpaceOnUse" x1="0" y1="80" x2="0" y2="524">
<stop offset="0.0027" stop-color="#589e00"/><stop offset="0.0581" stop-color="#589e00"/><stop offset="0.0626" stop-color="#252400"/><stop offset="0.0658" stop-color="#252400"/><stop offset="0.0698" stop-color="#3b9e00"/><stop offset="0.0732" stop-color="#b62400"/><stop offset="0.0770" stop-color="#ad2400"/><stop offset="0.0919" stop-color="#ad2400"/><stop offset="0.0973" stop-color="#4b9e00"/><stop offset="0.1437" stop-color="#4b9e00"/><stop offset="0.1491" stop-color="#629e00"/><stop offset="0.1955" stop-color="#629e00"/><stop offset="0.2009" stop-color="#689e00"/><stop offset="0.2293" stop-color="#689e00"/><stop offset="0.2347" stop-color="#689e00"/><stop offset="0.2495" stop-color="#689e00"/><stop offset="0.2534" stop-color="#d22400"/><stop offset="0.2572" stop-color="#649e00"/><stop offset="0.2743" stop-color="#649e00"/><stop offset="0.2797" stop-color="#6c9e00"/><stop offset="0.2946" stop-color="#6c9e00"/><stop offset="0.3000" stop-color="#6c9e00"/><stop offset="0.3216" stop-color="#6c9e00"/><stop offset="0.3270" stop-color="#8d5700"/><stop offset="0.3509" stop-color="#8d5700"/><stop offset="0.3563" stop-color="#915700"/><stop offset="0.3644" stop-color="#915700"/><stop offset="0.3698" stop-color="#915700"/><stop offset="0.3959" stop-color="#915700"/><stop offset="0.4014" stop-color="#915700"/><stop offset="0.4320" stop-color="#915700"/><stop offset="0.4374" stop-color="#9d5700"/><stop offset="0.4703" stop-color="#9d5700"/><stop offset="0.4757" stop-color="#995700"/><stop offset="0.4973" stop-color="#995700"/><stop offset="0.5027" stop-color="#915700"/><stop offset="0.5221" stop-color="#915700"/><stop offset="0.5275" stop-color="#915700"/><stop offset="0.5446" stop-color="#915700"/><stop offset="0.5500" stop-color="#915700"/><stop offset="0.5671" stop-color="#915700"/><stop offset="0.5725" stop-color="#955700"/><stop offset="0.5941" stop-color="#955700"/><stop offset="0.5995" stop-color="#685700"/><stop offset="0.6212" stop-color="#685700"/><stop offset="0.6257" stop-color="#be2400"/><stop offset="0.6311" stop-color="#be2400"/><stop offset="0.6347" stop-color="#ad2400"/><stop offset="0.6378" stop-color="#ad2400"/><stop offset="0.6414" stop-color="#a92400"/><stop offset="0.6468" stop-color="#a92400"/><stop offset="0.6514" stop-color="#9f2400"/><stop offset="0.6617" stop-color="#9f2400"/><stop offset="0.6671" stop-color="#8d3800"/><stop offset="0.6752" stop-color="#8d3800"/><stop offset="0.6797" stop-color="#765700"/><stop offset="0.6851" stop-color="#765700"/><stop offset="0.6887" stop-color="#893800"/><stop offset="0.6941" stop-color="#893800"/><stop offset="0.6986" stop-color="#7c5700"/><stop offset="0.7045" stop-color="#7c5700"/><stop offset="0.7099" stop-color="#952400"/><stop offset="0.7180" stop-color="#952400"/><stop offset="0.7234" stop-color="#8b2400"/><stop offset="0.7293" stop-color="#8b2400"/><stop offset="0.7347" stop-color="#ad2400"/><stop offset="0.7405" stop-color="#ad2400"/><stop offset="0.7459" stop-color="#be2400"/><stop offset="0.7563" stop-color="#be2400"/><stop offset="0.7608" stop-color="#be2400"/><stop offset="0.7640" stop-color="#be2400"/><stop offset="0.7676" stop-color="#a92400"/><stop offset="0.7707" stop-color="#a92400"/><stop offset="0.7743" stop-color="#be2400"/><stop offset="0.7797" stop-color="#be2400"/><stop offset="0.7833" stop-color="#b62400"/><stop offset="0.7887" stop-color="#b62400"/><stop offset="0.7923" stop-color="#b62400"/><stop offset="0.7955" stop-color="#b62400"/><stop offset="0.8000" stop-color="#d62400"/><stop offset="0.8104" stop-color="#d62400"/><stop offset="0.8149" stop-color="#ce2400"/><stop offset="0.8203" stop-color="#ce2400"/><stop offset="0.8248" stop-color="#e22400"/><stop offset="0.8351" stop-color="#e22400"/><stop offset="0.8396" stop-color="#ca2400"/><stop offset="0.8428" stop-color="#ca2400"/><stop offset="0.8464" stop-color="#e72400"/><stop offset="0.8518" stop-color="#e72400"/><stop offset="0.8563" stop-color="#d62400"/><stop offset="0.8622" stop-color="#d62400"/><stop offset="0.8667" stop-color="#d22400"/><stop offset="0.8721" stop-color="#d22400"/><stop offset="0.8757" stop-color="#de2400"/><stop offset="0.8811" stop-color="#de2400"/><stop offset="0.8847" stop-color="#d22400"/><stop offset="0.8878" stop-color="#d22400"/><stop offset="0.8914" stop-color="#be2400"/><stop offset="0.8946" stop-color="#be2400"/><stop offset="0.8982" stop-color="#be2400"/><stop offset="0.9036" stop-color="#be2400"/><stop offset="0.9072" stop-color="#b12400"/><stop offset="0.9126" stop-color="#b12400"/><stop offset="0.9162" stop-color="#ad2400"/><stop offset="0.9194" stop-color="#ad2400"/><stop offset="0.9234" stop-color="#ba2400"/><stop offset="0.9275" stop-color="#d22400"/><stop offset="0.9329" stop-color="#d22400"/><stop offset="0.9365" stop-color="#be2400"/><stop offset="0.9396" stop-color="#be2400"/><stop offset="0.9441" stop-color="#a52400"/><stop offset="0.9523" stop-color="#a52400"/><stop offset="0.9577" stop-color="#a52400"/><stop offset="0.9658" stop-color="#a52400"/><stop offset="0.9712" stop-color="#ab2400"/><stop offset="0.9793" stop-color="#ab2400"/><stop offset="0.9838" stop-color="#992400"/><stop offset="0.9869" stop-color="#992400"/><stop offset="0.9914" stop-color="#9f2400"/><stop offset="0.9973" stop-color="#9f2400"/>
</linearGradient>
<linearGradient id="b23" gradientUnits="userSpaceOnUse" x1="0" y1="80" x2="0" y2="524">
<stop offset="0.0027" stop-color="#5e9e00"/><stop offset="0.0581" stop-color="#5e9e00"/><stop offset="0.0626" stop-color="#252400"/><stop offset="0.0658" stop-color="#252400"/><stop offset="0.0698" stop-color="#3b9e00"/><stop offset="0.0732" stop-color="#b62400"/><stop offset="0.0770" stop-color="#a72400"/><stop offset="0.0919" stop-color="#a72400"/><stop offset="0.0973" stop-color="#4b9e00"/><stop offset="0.1437" stop-color="#4b9e00"/><stop offset="0.1491" stop-color="#5e9e00"/><stop offset="0.1955" stop-color="#5e9e00"/><stop offset="0.2009" stop-color="#649e00"/><stop offset="0.2293" stop-color="#649e00"/><stop offset="0.2347" stop-color="#6c9e00"/><stop offset="0.2495" stop-color="#6c9e00"/><stop offset="0.2534" stop-color="#ce2400"/><stop offset="0.2572" stop-color="#649e00"/><stop offset="0.2743" stop-color="#649e00"/><stop offset="0.2797" stop-color="#6c9e00"/><stop offset="0.2946" stop-color="#6c9e00"/><stop offset="0.3000" stop-color="#6c9e00"/><stop offset="0.3216" stop-color="#6c9e00"/><stop offset="0.3270" stop-color="#895700"/><stop offset="0.3509" stop-color="#895700"/><stop offset="0.3563" stop-color="#8d5700"/><stop offset="0.3644" stop-color="#8d5700"/><stop offset="0.3698" stop-color="#915700"/><stop offset="0.3959" stop-color="#915700"/><stop offset="0.4014" stop-color="#955700"/><stop offset="0.4320" stop-color="#955700"/><stop offset="0.4374" stop-color="#915700"/><stop offset="0.4703" stop-color="#915700"/><stop offset="0.4757" stop-color="#995700"/><stop offset="0.4973" stop-color="#995700"/><stop offset="0.5027" stop-color="#955700"/><stop offset="0.5221" stop-color="#955700"/><stop offset="0.5275" stop-color="#935700"/><stop offset="0.5446" stop-color="#935700"/><stop offset="0.5500" stop-color="#955700"/><stop offset="0.5671" stop-color="#955700"/><stop offset="0.5725" stop-color="#995700"/><stop offset="0.5941" stop-color="#995700"/><stop offset="0.5995" stop-color="#645700"/><stop offset="0.6212" stop-color="#645700"/><stop offset="0.6257" stop-color="#b12400"/><stop offset="0.6311" stop-color="#b12400"/><stop offset="0.6347" stop-color="#b62400"/><stop offset="0.6378" stop-color="#b62400"/><stop offset="0.6414" stop-color="#be2400"/><stop offset="0.6468" stop-color="#be2400"/><stop offset="0.6514" stop-color="#9f2400"/><stop offset="0.6617" stop-color="#9f2400"/><stop offset="0.6671" stop-color="#8d3800"/><stop offset="0.6752" stop-color="#8d3800"/><stop offset="0.6797" stop-color="#7c5700"/><stop offset="0.6851" stop-color="#7c5700"/><stop offset="0.6887" stop-color="#893800"/><stop offset="0.6941" stop-color="#893800"/><stop offset="0.6986" stop-color="#705700"/><stop offset="0.7045" stop-color="#705700"/><stop offset="0.7099" stop-color="#952400"/><stop offset="0.7180" stop-color="#952400"/><stop offset="0.7234" stop-color="#952400"/><stop offset="0.7293" stop-color="#952400"/><stop offset="0.7347" stop-color="#a52400"/><stop offset="0.7405" stop-color="#a52400"/><stop offset="0.7459" stop-color="#b12400"/><stop offset="0.7563" stop-color="#b12400"/><stop offset="0.7608" stop-color="#ba2400"/><stop offset="0.7640" stop-color="#ba2400"/><stop offset="0.7676" stop-color="#ad2400"/><stop offset="0.7707" stop-color="#ad2400"/><stop offset="0.7743" stop-color="#be2400"/><stop offset="0.7797" stop-color="#be2400"/><stop offset="0.7833" stop-color="#ba2400"/><stop offset="0.7887" stop-color="#ba2400"/><stop offset="0.7923" stop-color="#c22400"/><stop offset="0.7955" stop-color="#c22400"/><stop offset="0.8000" stop-color="#ca2400"/><stop offset="0.8104" stop-color="#ca2400"/><stop offset="0.8149" stop-color="#c22400"/><stop offset="0.8203" stop-color="#c22400"/><stop offset="0.8248" stop-color="#c62400"/><stop offset="0.8351" stop-color="#c62400"/><stop offset="0.8396" stop-color="#c22400"/><stop offset="0.8428" stop-color="#c22400"/><stop offset="0.8464" stop-color="#da2400"/><stop offset="0.8518" stop-color="#da2400"/><stop offset="0.8563" stop-color="#c22400"/><stop offset="0.8622" stop-color="#c22400"/><stop offset="0.8667" stop-color="#da2400"/><stop offset="0.8721" stop-color="#da2400"/><stop offset="0.8757" stop-color="#da2400"/><stop offset="0.8811" stop-color="#da2400"/><stop offset="0.8847" stop-color="#b62400"/><stop offset="0.8878" stop-color="#b62400"/><stop offset="0.8914" stop-color="#c62400"/><stop offset="0.8946" stop-color="#c62400"/><stop offset="0.8982" stop-color="#b62400"/><stop offset="0.9036" stop-color="#b62400"/><stop offset="0.9072" stop-color="#b62400"/><stop offset="0.9126" stop-color="#b62400"/><stop offset="0.9162" stop-color="#ad2400"/><stop offset="0.9194" stop-color="#ad2400"/><stop offset="0.9234" stop-color="#c22400"/><stop offset="0.9275" stop-color="#d62400"/><stop offset="0.9329" stop-color="#d62400"/><stop offset="0.9365" stop-color="#c22400"/><stop offset="0.9396" stop-color="#c22400"/><stop offset="0.9441" stop-color="#ad2400"/><stop offset="0.9523" stop-color="#ad2400"/><stop offset="0.9577" stop-color="#c22400"/><stop offset="0.9658" stop-color="#c22400"/><stop offset="0.9712" stop-color="#a92400"/><stop offset="0.9793" stop-color="#a92400"/><stop offset="0.9838" stop-color="#9f2400"/><stop offset="0.9869" stop-color="#9f2400"/><stop offset="0.9914" stop-color="#a52400"/><stop offset="0.9973" stop-color="#a52400"/>
</linearGradient>
<linearGradient id="b30" gradientUnits="userSpaceOnUse" x1="0" y1="80" x2="0" y2="524">
<stop offset="0.0027" stop-color="#4b9e00"/><stop offset="0.0581" stop-color="#4b9e00"/><stop offset="0.0626" stop-color="#252400"/><stop offset="0.0658" stop-color="#252400"/><stop offset="0.0698" stop-color="#3b9e00"/><stop offset="0.0732" stop-color="#ba2400"/><stop offset="0.0770" stop-color="#ad2400"/><stop offset="0.0919" stop-color="#ad2400"/><stop offset="0.0973" stop-color="#439e00"/><stop offset="0.1437" stop-color="#439e00"/><stop offset="0.1491" stop-color="#549e00"/><stop offset="0.1955" stop-color="#549e00"/><stop offset="0.2009" stop-color="#549e00"/><stop offset="0.2293" stop-color="#549e00"/><stop offset="0.2347" stop-color="#5e9e00"/><stop offset="0.2495" stop-color="#5e9e00"/><stop offset="0.2534" stop-color="#c62400"/><stop offset="0.2572" stop-color="#499e00"/><stop offset="0.2743" stop-color="#499e00"/><stop offset="0.2797" stop-color="#549e00"/><stop offset="0.2946" stop-color="#549e00"/><stop offset="0.3000" stop-color="#589e00"/><stop offset="0.3216" stop-color="#589e00"/><stop offset="0.3270" stop-color="#745700"/><stop offset="0.3509" stop-color="#745700"/><stop offset="0.3563" stop-color="#7a5700"/><stop offset="0.3644" stop-color="#7a5700"/><stop offset="0.3698" stop-color="#7a5700"/><stop offset="0.3959" stop-color="#7a5700"/><stop offset="0.4014" stop-color="#785700"/><stop offset="0.4320" stop-color="#785700"/><stop offset="0.4374" stop-color="#815700"/><stop offset="0.4703" stop-color="#815700"/><stop offset="0.4757" stop-color="#8f5700"/><stop offset="0.4973" stop-color="#8f5700"/><stop offset="0.5027" stop-color="#7c5700"/><stop offset="0.5221" stop-color="#7c5700"/><stop offset="0.5275" stop-color="#855700"/><stop offset="0.5446" stop-color="#855700"/><stop offset="0.5500" stop-color="#855700"/><stop offset="0.5671" stop-color="#855700"/><stop offset="0.5725" stop-color="#815700"/><stop offset="0.5941" stop-color="#815700"/><stop offset="0.5995" stop-color="#645700"/><stop offset="0.6212" stop-color="#645700"/><stop offset="0.6257" stop-color="#952400"/><stop offset="0.6311" stop-color="#952400"/><stop offset="0.6347" stop-color="#952400"/><stop offset="0.6378" stop-color="#952400"/><stop offset="0.6414" stop-color="#9f2400"/><stop offset="0.6468" stop-color="#9f2400"/><stop offset="0.6514" stop-color="#a12400"/><stop offset="0.6617" stop-color="#a12400"/><stop offset="0.6671" stop-color="#8d3800"/><stop offset="0.6752" stop-color="#8d3800"/><stop offset="0.6797" stop-color="#705700"/><stop offset="0.6851" stop-color="#705700"/><stop offset="0.6887" stop-color="#833800"/><stop offset="0.6941" stop-color="#833800"/><stop offset="0.6986" stop-color="#6c5700"/><stop offset="0.7045" stop-color="#6c5700"/><stop offset="0.7099" stop-color="#8d2400"/><stop offset="0.7180" stop-color="#8d2400"/><stop offset="0.7234" stop-color="#8d2400"/><stop offset="0.7293" stop-color="#8d2400"/><stop offset="0.7347" stop-color="#9f2400"/><stop offset="0.7405" stop-color="#9f2400"/><stop offset="0.7459" stop-color="#b62400"/><stop offset="0.7563" stop-color="#b62400"/><stop offset="0.7608" stop-color="#be2400"/><stop offset="0.7640" stop-color="#be2400"/><stop offset="0.7676" stop-color="#9f2400"/><stop offset="0.7707" stop-color="#9f2400"/><stop offset="0.7743" stop-color="#b62400"/><stop offset="0.7797" stop-color="#b62400"/><stop offset="0.7833" stop-color="#a92400"/><stop offset="0.7887" stop-color="#a92400"/><stop offset="0.7923" stop-color="#a92400"/><stop offset="0.7955" stop-color="#a92400"/><stop offset="0.8000" stop-color="#b62400"/><stop offset="0.8104" stop-color="#b62400"/><stop offset="0.8149" stop-color="#c22400"/><stop offset="0.8203" stop-color="#c22400"/><stop offset="0.8248" stop-color="#be2400"/><stop offset="0.8351" stop-color="#be2400"/><stop offset="0.8396" stop-color="#be2400"/><stop offset="0.8428" stop-color="#be2400"/><stop offset="0.8464" stop-color="#c22400"/><stop offset="0.8518" stop-color="#c22400"/><stop offset="0.8563" stop-color="#ba2400"/><stop offset="0.8622" stop-color="#ba2400"/><stop offset="0.8667" stop-color="#b62400"/><stop offset="0.8721" stop-color="#b62400"/><stop offset="0.8757" stop-color="#be2400"/><stop offset="0.8811" stop-color="#be2400"/><stop offset="0.8847" stop-color="#b12400"/><stop offset="0.8878" stop-color="#b12400"/><stop offset="0.8914" stop-color="#ad2400"/><stop offset="0.8946" stop-color="#ad2400"/><stop offset="0.8982" stop-color="#952400"/><stop offset="0.9036" stop-color="#952400"/><stop offset="0.9072" stop-color="#9f2400"/><stop offset="0.9126" stop-color="#9f2400"/><stop offset="0.9162" stop-color="#a12400"/><stop offset="0.9194" stop-color="#a12400"/><stop offset="0.9234" stop-color="#a12400"/><stop offset="0.9275" stop-color="#a52400"/><stop offset="0.9329" stop-color="#a52400"/><stop offset="0.9365" stop-color="#a52400"/><stop offset="0.9396" stop-color="#a52400"/><stop offset="0.9441" stop-color="#8b2400"/><stop offset="0.9523" stop-color="#8b2400"/><stop offset="0.9577" stop-color="#952400"/><stop offset="0.9658" stop-color="#952400"/><stop offset="0.9712" stop-color="#992400"/><stop offset="0.9793" stop-color="#992400"/><stop offset="0.9838" stop-color="#952400"/><stop offset="0.9869" stop-color="#952400"/><stop offset="0.9914" stop-color="#912400"/><stop offset="0.9973" stop-color="#912400"/>
</linearGradient>
<linearGradient id="b31" gradientUnits="userSpaceOnUse" x1="0" y1="80" x2="0" y2="524">
<stop offset="0.0027" stop-color="#4b9e00"/><stop offset="0.0581" stop-color="#4b9e00"/><stop offset="0.0626" stop-color="#252400"/><stop offset="0.0658" stop-color="#252400"/><stop offset="0.0698" stop-color="#3b9e00"/><stop offset="0.0732" stop-color="#ba2400"/><stop offset="0.0770" stop-color="#b12400"/><stop offset="0.0919" stop-color="#b12400"/><stop offset="0.0973" stop-color="#479e00"/><stop offset="0.1437" stop-color="#479e00"/><stop offset="0.1491" stop-color="#5e9e00"/><stop offset="0.1955" stop-color="#5e9e00"/><stop offset="0.2009" stop-color="#5c9e00"/><stop offset="0.2293" stop-color="#5c9e00"/><stop offset="0.2347" stop-color="#649e00"/><stop offset="0.2495" stop-color="#649e00"/><stop offset="0.2534" stop-color="#ce2400"/><stop offset="0.2572" stop-color="#549e00"/><stop offset="0.2743" stop-color="#549e00"/><stop offset="0.2797" stop-color="#609e00"/><stop offset="0.2946" stop-color="#609e00"/><stop offset="0.3000" stop-color="#609e00"/><stop offset="0.3216" stop-color="#609e00"/><stop offset="0.3270" stop-color="#7c5700"/><stop offset="0.3509" stop-color="#7c5700"/><stop offset="0.3563" stop-color="#815700"/><stop offset="0.3644" stop-color="#815700"/><stop offset="0.3698" stop-color="#855700"/><stop offset="0.3959" stop-color="#855700"/><stop offset="0.4014" stop-color="#855700"/><stop offset="0.4320" stop-color="#855700"/><stop offset="0.4374" stop-color="#915700"/><stop offset="0.4703" stop-color="#915700"/><stop offset="0.4757" stop-color="#955700"/><stop offset="0.4973" stop-color="#955700"/><stop offset="0.5027" stop-color="#8d5700"/><stop offset="0.5221" stop-color="#8d5700"/><stop offset="0.5275" stop-color="#935700"/><stop offset="0.5446" stop-color="#935700"/><stop offset="0.5500" stop-color="#955700"/><stop offset="0.5671" stop-color="#955700"/><stop offset="0.5725" stop-color="#955700"/><stop offset="0.5941" stop-color="#955700"/><stop offset="0.5995" stop-color="#6c5700"/><stop offset="0.6212" stop-color="#6c5700"/><stop offset="0.6257" stop-color="#b62400"/><stop offset="0.6311" stop-color="#b62400"/><stop offset="0.6347" stop-color="#ad2400"/><stop offset="0.6378" stop-color="#ad2400"/><stop offset="0.6414" stop-color="#a92400"/><stop offset="0.6468" stop-color="#a92400"/><stop offset="0.6514" stop-color="#a92400"/><stop offset="0.6617" stop-color="#a92400"/><stop offset="0.6671" stop-color="#8d3800"/><stop offset="0.6752" stop-color="#8d3800"/><stop offset="0.6797" stop-color="#7c5700"/><stop offset="0.6851" stop-color="#7c5700"/><stop offset="0.6887" stop-color="#893800"/><stop offset="0.6941" stop-color="#893800"/><stop offset="0.6986" stop-color="#785700"/><stop offset="0.7045" stop-color="#785700"/><stop offset="0.7099" stop-color="#8f2400"/><stop offset="0.7180" stop-color="#8f2400"/><stop offset="0.7234" stop-color="#8f2400"/><stop offset="0.7293" stop-color="#8f2400"/><stop offset="0.7347" stop-color="#a52400"/><stop offset="0.7405" stop-color="#a52400"/><stop offset="0.7459" stop-color="#be2400"/><stop offset="0.7563" stop-color="#be2400"/><stop offset="0.7608" stop-color="#be2400"/><stop offset="0.7640" stop-color="#be2400"/><stop offset="0.7676" stop-color="#a52400"/><stop offset="0.7707" stop-color="#a52400"/><stop offset="0.7743" stop-color="#c22400"/><stop offset="0.7797" stop-color="#c22400"/><stop offset="0.7833" stop-color="#b62400"/><stop offset="0.7887" stop-color="#b62400"/><stop offset="0.7923" stop-color="#c22400"/><stop offset="0.7955" stop-color="#c22400"/><stop offset="0.8000" stop-color="#ce2400"/><stop offset="0.8104" stop-color="#ce2400"/><stop offset="0.8149" stop-color="#d02400"/><stop offset="0.8203" stop-color="#d02400"/><stop offset="0.8248" stop-color="#da2400"/><stop offset="0.8351" stop-color="#da2400"/><stop offset="0.8396" stop-color="#c62400"/><stop offset="0.8428" stop-color="#c62400"/><stop offset="0.8464" stop-color="#de2400"/><stop offset="0.8518" stop-color="#de2400"/><stop offset="0.8563" stop-color="#c62400"/><stop offset="0.8622" stop-color="#c62400"/><stop offset="0.8667" stop-color="#be2400"/><stop offset="0.8721" stop-color="#be2400"/><stop offset="0.8757" stop-color="#d22400"/><stop offset="0.8811" stop-color="#d22400"/><stop offset="0.8847" stop-color="#be2400"/><stop offset="0.8878" stop-color="#be2400"/><stop offset="0.8914" stop-color="#b62400"/><stop offset="0.8946" stop-color="#b62400"/><stop offset="0.8982" stop-color="#ad2400"/><stop offset="0.9036" stop-color="#ad2400"/><stop offset="0.9072" stop-color="#ad2400"/><stop offset="0.9126" stop-color="#ad2400"/><stop offset="0.9162" stop-color="#a92400"/><stop offset="0.9194" stop-color="#a92400"/><stop offset="0.9234" stop-color="#a92400"/><stop offset="0.9275" stop-color="#b12400"/><stop offset="0.9329" stop-color="#b12400"/><stop offset="0.9365" stop-color="#a92400"/><stop offset="0.9396" stop-color="#a92400"/><stop offset="0.9441" stop-color="#952400"/><stop offset="0.9523" stop-color="#952400"/><stop offset="0.9577" stop-color="#9f2400"/><stop offset="0.9658" stop-color="#9f2400"/><stop offset="0.9712" stop-color="#a92400"/><stop offset="0.9793" stop-color="#a92400"/><stop offset="0.9838" stop-color="#952400"/><stop offset="0.9869" stop-color="#952400"/><stop offset="0.9914" stop-color="#992400"/><stop offset="0.9973" stop-color="#992400"/>
</linearGradient>
<linearGradient id="b32" gradientUnits="userSpaceOnUse" x1="0" y1="80" x2="0" y2="524">
<stop offset="0.0027" stop-color="#589e00"/><stop offset="0.0581" stop-color="#589e00"/><stop offset="0.0626" stop-color="#252400"/><stop offset="0.0658" stop-color="#252400"/><stop offset="0.0698" stop-color="#3b9e00"/><stop offset="0.0732" stop-color="#b62400"/><stop offset="0.0770" stop-color="#ad2400"/><stop offset="0.0919" stop-color="#ad2400"/><stop offset="0.0973" stop-color="#4b9e00"/><stop offset="0.1437" stop-color="#4b9e00"/><stop offset="0.1491" stop-color="#629e00"/><stop offset="0.1955" stop-color="#629e00"/><stop offset="0.2009" stop-color="#689e00"/><stop offset="0.2293" stop-color="#689e00"/><stop offset="0.2347" stop-color="#689e00"/><stop offset="0.2495" stop-color="#689e00"/><stop offset="0.2534" stop-color="#d22400"/><stop offset="0.2572" stop-color="#649e00"/><stop offset="0.2743" stop-color="#649e00"/><stop offset="0.2797" stop-color="#6c9e00"/><stop offset="0.2946" stop-color="#6c9e00"/><stop offset="0.3000" stop-color="#6c9e00"/><stop offset="0.3216" stop-color="#6c9e00"/><stop offset="0.3270" stop-color="#8d5700"/><stop offset="0.3509" stop-color="#8d5700"/><stop offset="0.3563" stop-color="#915700"/><stop offset="0.3644" stop-color="#915700"/><stop offset="0.3698" stop-color="#915700"/><stop offset="0.3959" stop-color="#915700"/><stop offset="0.4014" stop-color="#915700"/><stop offset="0.4320" stop-color="#915700"/><stop offset="0.4374" stop-color="#9d5700"/><stop offset="0.4703" stop-color="#9d5700"/><stop offset="0.4757" stop-color="#995700"/><stop offset="0.4973" stop-color="#995700"/><stop offset="0.5027" stop-color="#915700"/><stop offset="0.5221" stop-color="#915700"/><stop offset="0.5275" stop-color="#915700"/><stop offset="0.5446" stop-color="#915700"/><stop offset="0.5500" stop-color="#915700"/><stop offset="0.5671" stop-color="#915700"/><stop offset="0.5725" stop-color="#955700"/><stop offset="0.5941" stop-color="#955700"/><stop offset="0.5995" stop-color="#685700"/><stop offset="0.6212" stop-color="#685700"/><stop offset="0.6257" stop-color="#be2400"/><stop offset="0.6311" stop-color="#be2400"/><stop offset="0.6347" stop-color="#ad2400"/><stop offset="0.6378" stop-color="#ad2400"/><stop offset="0.6414" stop-color="#a92400"/><stop offset="0.6468" stop-color="#a92400"/><stop offset="0.6514" stop-color="#9f2400"/><stop offset="0.6617" stop-color="#9f2400"/><stop offset="0.6671" stop-color="#8d3800"/><stop offset="0.6752" stop-color="#8d3800"/><stop offset="0.6797" stop-color="#765700"/><stop offset="0.6851" stop-color="#765700"/><stop offset="0.6887" stop-color="#893800"/><stop offset="0.6941" stop-color="#893800"/><stop offset="0.6986" stop-color="#7c5700"/><stop offset="0.7045" stop-color="#7c5700"/><stop offset="0.7099" stop-color="#952400"/><stop offset="0.7180" stop-color="#952400"/><stop offset="0.7234" stop-color="#8b2400"/><stop offset="0.7293" stop-color="#8b2400"/><stop offset="0.7347" stop-color="#ad2400"/><stop offset="0.7405" stop-color="#ad2400"/><stop offset="0.7459" stop-color="#be2400"/><stop offset="0.7563" stop-color="#be2400"/><stop offset="0.7608" stop-color="#be2400"/><stop offset="0.7640" stop-color="#be2400"/><stop offset="0.7676" stop-color="#a92400"/><stop offset="0.7707" stop-color="#a92400"/><stop offset="0.7743" stop-color="#be2400"/><stop offset="0.7797" stop-color="#be2400"/><stop offset="0.7833" stop-color="#b62400"/><stop offset="0.7887" stop-color="#b62400"/><stop offset="0.7923" stop-color="#b62400"/><stop offset="0.7955" stop-color="#b62400"/><stop offset="0.8000" stop-color="#d62400"/><stop offset="0.8104" stop-color="#d62400"/><stop offset="0.8149" stop-color="#ce2400"/><stop offset="0.8203" stop-color="#ce2400"/><stop offset="0.8248" stop-color="#e22400"/><stop offset="0.8351" stop-color="#e22400"/><stop offset="0.8396" stop-color="#ca2400"/><stop offset="0.8428" stop-color="#ca2400"/><stop offset="0.8464" stop-color="#e72400"/><stop offset="0.8518" stop-color="#e72400"/><stop offset="0.8563" stop-color="#d62400"/><stop offset="0.8622" stop-color="#d62400"/><stop offset="0.8667" stop-color="#d22400"/><stop offset="0.8721" stop-color="#d22400"/><stop offset="0.8757" stop-color="#de2400"/><stop offset="0.8811" stop-color="#de2400"/><stop offset="0.8847" stop-color="#d22400"/><stop offset="0.8878" stop-color="#d22400"/><stop offset="0.8914" stop-color="#be2400"/><stop offset="0.8946" stop-color="#be2400"/><stop offset="0.8982" stop-color="#be2400"/><stop offset="0.9036" stop-color="#be2400"/><stop offset="0.9072" stop-color="#b12400"/><stop offset="0.9126" stop-color="#b12400"/><stop offset="0.9162" stop-color="#ad2400"/><stop offset="0.9194" stop-color="#ad2400"/><stop offset="0.9234" stop-color="#ba2400"/><stop offset="0.9275" stop-color="#d22400"/><stop offset="0.9329" stop-color="#d22400"/><stop offset="0.9365" stop-color="#be2400"/><stop offset="0.9396" stop-color="#be2400"/><stop offset="0.9441" stop-color="#a52400"/><stop offset="0.9523" stop-color="#a52400"/><stop offset="0.9577" stop-color="#a52400"/><stop offset="0.9658" stop-color="#a52400"/><stop offset="0.9712" stop-color="#ab2400"/><stop offset="0.9793" stop-color="#ab2400"/><stop offset="0.9838" stop-color="#992400"/><stop offset="0.9869" stop-color="#992400"/><stop offset="0.9914" stop-color="#9f2400"/><stop offset="0.9973" stop-color="#9f2400"/>
</linearGradient>
<linearGradient id="b33" gradientUnits="userSpaceOnUse" x1="0" y1="80" x2="0" y2="524">
<stop offset="0.0027" stop-color="#5e9e00"/><stop offset="0.0581" stop-color="#5e9e00"/><stop offset="0.0626" stop-color="#252400"/><stop offset="0.0658" stop-color="#252400"/><stop offset="0.0698" stop-color="#3b9e00"/><stop offset="0.0732" stop-color="#b62400"/><stop offset="0.0770" stop-color="#a72400"/><stop offset="0.0919" stop-color="#a72400"/><stop offset="0.0973" stop-color="#4b9e00"/><stop offset="0.1437" stop-color="#4b9e00"/><stop offset="0.1491" stop-color="#5e9e00"/><stop offset="0.1955" stop-color="#5e9e00"/><stop offset="0.2009" stop-color="#649e00"/><stop offset="0.2293" stop-color="#649e00"/><stop offset="0.2347" stop-color="#6c9e00"/><stop offset="0.2495" stop-color="#6c9e00"/><stop offset="0.2534" stop-color="#ce2400"/><stop offset="0.2572" stop-color="#649e00"/><stop offset="0.2743" stop-color="#649e00"/><stop offset="0.2797" stop-color="#6c9e00"/><stop offset="0.2946" stop-color="#6c9e00"/><stop offset="0.3000" stop-color="#6c9e00"/><stop offset="0.3216" stop-color="#6c9e00"/><stop offset="0.3270" stop-color="#895700"/><stop offset="0.3509" stop-color="#895700"/><stop offset="0.3563" stop-color="#8d5700"/><stop offset="0.3644" stop-color="#8d5700"/><stop offset="0.3698" stop-color="#915700"/><stop offset="0.3959" stop-color="#915700"/><stop offset="0.4014" stop-color="#955700"/><stop offset="0.4320" stop-color="#955700"/><stop offset="0.4374" stop-color="#915700"/><stop offset="0.4703" stop-color="#915700"/><stop offset="0.4757" stop-color="#995700"/><stop offset="0.4973" stop-color="#995700"/><stop offset="0.5027" stop-color="#955700"/><stop offset="0.5221" stop-color="#955700"/><stop offset="0.5275" stop-color="#935700"/><stop offset="0.5446" stop-color="#935700"/><stop offset="0.5500" stop-color="#955700"/><stop offset="0.5671" stop-color="#955700"/><stop offset="0.5725" stop-color="#995700"/><stop offset="0.5941" stop-color="#995700"/><stop offset="0.5995" stop-color="#645700"/><stop offset="0.6212" stop-color="#645700"/><stop offset="0.6257" stop-color="#b12400"/><stop offset="0.6311" stop-color="#b12400"/><stop offset="0.6347" stop-color="#b62400"/><stop offset="0.6378" stop-color="#b62400"/><stop offset="0.6414" stop-color="#be2400"/><stop offset="0.6468" stop-color="#be2400"/><stop offset="0.6514" stop-color="#9f2400"/><stop offset="0.6617" stop-color="#9f2400"/><stop offset="0.6671" stop-color="#8d3800"/><stop offset="0.6752" stop-color="#8d3800"/><stop offset="0.6797" stop-color="#7c5700"/><stop offset="0.6851" stop-color="#7c5700"/><stop offset="0.6887" stop-color="#893800"/><stop offset="0.6941" stop-color="#893800"/><stop offset="0.6986" stop-color="#705700"/><stop offset="0.7045" stop-color="#705700"/><stop offset="0.7099" stop-color="#952400"/><stop offset="0.7180" stop-color="#952400"/><stop offset="0.7234" stop-color="#952400"/><stop offset="0.7293" stop-color="#952400"/><stop offset="0.7347" stop-color="#a52400"/><stop offset="0.7405" stop-color="#a52400"/><stop offset="0.7459" stop-color="#b12400"/><stop offset="0.7563" stop-color="#b12400"/><stop offset="0.7608" stop-color="#ba2400"/><stop offset="0.7640" stop-color="#ba2400"/><stop offset="0.7676" stop-color="#ad2400"/><stop offset="0.7707" stop-color="#ad2400"/><stop offset="0.7743" stop-color="#be2400"/><stop offset="0.7797" stop-color="#be2400"/><stop offset="0.7833" stop-color="#ba2400"/><stop offset="0.7887" stop-color="#ba2400"/><stop offset="0.7923" stop-color="#c22400"/><stop offset="0.7955" stop-color="#c22400"/><stop offset="0.8000" stop-color="#ca2400"/><stop offset="0.8104" stop-color="#ca2400"/><stop offset="0.8149" stop-color="#c22400"/><stop offset="0.8203" stop-color="#c22400"/><stop offset="0.8248" stop-color="#c62400"/><stop offset="0.8351" stop-color="#c62400"/><stop offset="0.8396" stop-color="#c22400"/><stop offset="0.8428" stop-color="#c22400"/><stop offset="0.8464" stop-color="#da2400"/><stop offset="0.8518" stop-color="#da2400"/><stop offset="0.8563" stop-color="#c22400"/><stop offset="0.8622" stop-color="#c22400"/><stop offset="0.8667" stop-color="#da2400"/><stop offset="0.8721" stop-color="#da2400"/><stop offset="0.8757" stop-color="#da2400"/><stop offset="0.8811" stop-color="#da2400"/><stop offset="0.8847" stop-color="#b62400"/><stop offset="0.8878" stop-color="#b62400"/><stop offset="0.8914" stop-color="#c62400"/><stop offset="0.8946" stop-color="#c62400"/><stop offset="0.8982" stop-color="#b62400"/><stop offset="0.9036" stop-color="#b62400"/><stop offset="0.9072" stop-color="#b62400"/><stop offset="0.9126" stop-color="#b62400"/><stop offset="0.9162" stop-color="#ad2400"/><stop offset="0.9194" stop-color="#ad2400"/><stop offset="0.9234" stop-color="#c22400"/><stop offset="0.9275" stop-color="#d62400"/><stop offset="0.9329" stop-color="#d62400"/><stop offset="0.9365" stop-color="#c22400"/><stop offset="0.9396" stop-color="#c22400"/><stop offset="0.9441" stop-color="#ad2400"/><stop offset="0.9523" stop-color="#ad2400"/><stop offset="0.9577" stop-color="#c22400"/><stop offset="0.9658" stop-color="#c22400"/><stop offset="0.9712" stop-color="#a92400"/><stop offset="0.9793" stop-color="#a92400"/><stop offset="0.9838" stop-color="#9f2400"/><stop offset="0.9869" stop-color="#9f2400"/><stop offset="0.9914" stop-color="#a52400"/><stop offset="0.9973" stop-color="#a52400"/>
</linearGradient>
<linearGradient id="ls0" x1="0" y1="0" x2="1" y2="0"><stop offset="0.1" stop-color="#000000"/><stop offset="0.42" stop-color="#0e0000"/><stop offset="0.62" stop-color="#0d0000"/><stop offset="0.92" stop-color="#000000"/></linearGradient>
<linearGradient id="lm0" x1="0" y1="0" x2="1" y2="0"><stop offset="0" stop-color="#e0ffff"/><stop offset="0.13" stop-color="#ffffff"/></linearGradient>
<linearGradient id="ka0m" x1="0" y1="0" x2="1" y2="0"><stop offset="0" stop-color="#ffffff"/><stop offset="1" stop-color="#cdffff"/></linearGradient>
<linearGradient id="ka0s" x1="0" y1="0" x2="1" y2="0"><stop offset="0" stop-color="#000000"/><stop offset="1" stop-color="#002f00"/></linearGradient>
<linearGradient id="wb0" x1="0" y1="0" x2="1" y2="0"><stop offset="0" stop-color="#000000"/><stop offset="0.5" stop-color="#001200"/><stop offset="1" stop-color="#002f00"/></linearGradient>
<linearGradient id="wc0" x1="0" y1="0" x2="1" y2="0"><stop offset="0" stop-color="#000000"/><stop offset="0.45" stop-color="#030c00"/><stop offset="1" stop-color="#172400"/></linearGradient>
<linearGradient id="se0" x1="0" y1="0" x2="1" y2="0"><stop offset="0" stop-color="#ccffff"/><stop offset="0.09" stop-color="#f5ffff"/><stop offset="0.18" stop-color="#ffffff"/><stop offset="0.82" stop-color="#ffffff"/><stop offset="0.91" stop-color="#f5ffff"/><stop offset="1" stop-color="#ccffff"/></linearGradient>
<linearGradient id="st0" x1="0" y1="0" x2="0" y2="1"><stop offset="0.0011" stop-color="#e9ffff"/><stop offset="0.0079" stop-color="#e2ffff"/><stop offset="0.0101" stop-color="#c9ffff"/><stop offset="0.0124" stop-color="#e7ffff"/><stop offset="0.0146" stop-color="#b5ffff"/><stop offset="0.0169" stop-color="#e8ffff"/><stop offset="0.0191" stop-color="#edffff"/><stop offset="0.0214" stop-color="#fbffff"/><stop offset="0.0236" stop-color="#e1ffff"/><stop offset="0.0282" stop-color="#eaffff"/><stop offset="0.0349" stop-color="#f2ffff"/><stop offset="0.0372" stop-color="#efffff"/><stop offset="0.0417" stop-color="#ceffff"/><stop offset="0.0484" stop-color="#eeffff"/><stop offset="0.0529" stop-color="#e8ffff"/><stop offset="0.0574" stop-color="#b8ffff"/><stop offset="0.0597" stop-color="#d6ffff"/><stop offset="0.0642" stop-color="#deffff"/><stop offset="0.0709" stop-color="#ddffff"/><stop offset="0.0732" stop-color="#e9ffff"/><stop offset="0.0777" stop-color="#fbffff"/><stop offset="0.0845" stop-color="#c2ffff"/><stop offset="0.0867" stop-color="#d5ffff"/><stop offset="0.0912" stop-color="#c4ffff"/><stop offset="0.0957" stop-color="#ffffff"/><stop offset="0.0980" stop-color="#f4ffff"/><stop offset="0.1002" stop-color="#d4ffff"/><stop offset="0.1047" stop-color="#efffff"/><stop offset="0.1070" stop-color="#e8ffff"/><stop offset="0.1137" stop-color="#fbffff"/><stop offset="0.1160" stop-color="#ceffff"/><stop offset="0.1205" stop-color="#cbffff"/><stop offset="0.1250" stop-color="#f7ffff"/><stop offset="0.1295" stop-color="#dfffff"/><stop offset="0.1318" stop-color="#dbffff"/><stop offset="0.1363" stop-color="#b8ffff"/><stop offset="0.1408" stop-color="#e0ffff"/><stop offset="0.1430" stop-color="#cdffff"/><stop offset="0.1453" stop-color="#faffff"/><stop offset="0.1475" stop-color="#f7ffff"/><stop offset="0.1498" stop-color="#c4ffff"/><stop offset="0.1543" stop-color="#cdffff"/><stop offset="0.1565" stop-color="#f1ffff"/><stop offset="0.1588" stop-color="#d9ffff"/><stop offset="0.1610" stop-color="#f9ffff"/><stop offset="0.1633" stop-color="#f3ffff"/><stop offset="0.1678" stop-color="#b4ffff"/><stop offset="0.1700" stop-color="#cbffff"/><stop offset="0.1745" stop-color="#fdffff"/><stop offset="0.1768" stop-color="#feffff"/><stop offset="0.1813" stop-color="#f6ffff"/><stop offset="0.1836" stop-color="#dfffff"/><stop offset="0.1903" stop-color="#d8ffff"/><stop offset="0.1948" stop-color="#f8ffff"/><stop offset="0.2016" stop-color="#f8ffff"/><stop offset="0.2038" stop-color="#d3ffff"/><stop offset="0.2083" stop-color="#d9ffff"/><stop offset="0.2106" stop-color="#ccffff"/><stop offset="0.2128" stop-color="#fdffff"/><stop offset="0.2173" stop-color="#faffff"/><stop offset="0.2218" stop-color="#fcffff"/><stop offset="0.2264" stop-color="#e9ffff"/><stop offset="0.2309" stop-color="#f4ffff"/><stop offset="0.2376" stop-color="#f9ffff"/><stop offset="0.2421" stop-color="#e7ffff"/><stop offset="0.2444" stop-color="#e0ffff"/><stop offset="0.2489" stop-color="#f7ffff"/><stop offset="0.2534" stop-color="#f8ffff"/><stop offset="0.2556" stop-color="#bdffff"/><stop offset="0.2601" stop-color="#e0ffff"/><stop offset="0.2624" stop-color="#f5ffff"/><stop offset="0.2669" stop-color="#e5ffff"/><stop offset="0.2691" stop-color="#dbffff"/><stop offset="0.2714" stop-color="#d4ffff"/><stop offset="0.2736" stop-color="#fcffff"/><stop offset="0.2759" stop-color="#dfffff"/><stop offset="0.2804" stop-color="#f6ffff"/><stop offset="0.2849" stop-color="#f1ffff"/><stop offset="0.2872" stop-color="#f7ffff"/><stop offset="0.2894" stop-color="#a1ffff"/><stop offset="0.2917" stop-color="#d6ffff"/><stop offset="0.2962" stop-color="#efffff"/><stop offset="0.2984" stop-color="#fdffff"/><stop offset="0.3029" stop-color="#baffff"/><stop offset="0.3097" stop-color="#beffff"/><stop offset="0.3142" stop-color="#dcffff"/><stop offset="0.3164" stop-color="#fbffff"/><stop offset="0.3187" stop-color="#f6ffff"/><stop offset="0.3255" stop-color="#e8ffff"/><stop offset="0.3277" stop-color="#fdffff"/><stop offset="0.3300" stop-color="#e7ffff"/><stop offset="0.3345" stop-color="#bfffff"/><stop offset="0.3367" stop-color="#e6ffff"/><stop offset="0.3390" stop-color="#daffff"/><stop offset="0.3457" stop-color="#f2ffff"/><stop offset="0.3480" stop-color="#f8ffff"/><stop offset="0.3547" stop-color="#c4ffff"/><stop offset="0.3570" stop-color="#ceffff"/><stop offset="0.3592" stop-color="#d3ffff"/><stop offset="0.3637" stop-color="#f7ffff"/><stop offset="0.3660" stop-color="#d8ffff"/><stop offset="0.3705" stop-color="#fdffff"/><stop offset="0.3750" stop-color="#f4ffff"/><stop offset="0.3773" stop-color="#e7ffff"/><stop offset="0.3818" stop-color="#ffffff"/><stop offset="0.3863" stop-color="#f7ffff"/><stop offset="0.3930" stop-color="#abffff"/><stop offset="0.3975" stop-color="#e4ffff"/><stop offset="0.3998" stop-color="#f9ffff"/><stop offset="0.4020" stop-color="#d7ffff"/><stop offset="0.4043" stop-color="#d9ffff"/><stop offset="0.4065" stop-color="#f6ffff"/><stop offset="0.4133" stop-color="#fdffff"/><stop offset="0.4200" stop-color="#d3ffff"/><stop offset="0.4245" stop-color="#e7ffff"/><stop offset="0.4313" stop-color="#edffff"/><stop offset="0.4358" stop-color="#f8ffff"/><stop offset="0.4403" stop-color="#d2ffff"/><stop offset="0.4448" stop-color="#d6ffff"/><stop offset="0.4493" stop-color="#f2ffff"/><stop offset="0.4516" stop-color="#f3ffff"/><stop offset="0.4538" stop-color="#ebffff"/><stop offset="0.4561" stop-color="#e0ffff"/><stop offset="0.4628" stop-color="#eaffff"/><stop offset="0.4673" stop-color="#f4ffff"/><stop offset="0.4696" stop-color="#d3ffff"/><stop offset="0.4741" stop-color="#fcffff"/><stop offset="0.4764" stop-color="#feffff"/><stop offset="0.4831" stop-color="#d3ffff"/><stop offset="0.4876" stop-color="#d3ffff"/><stop offset="0.4921" stop-color="#caffff"/><stop offset="0.4989" stop-color="#f4ffff"/><stop offset="0.5011" stop-color="#d0ffff"/><stop offset="0.5034" stop-color="#d8ffff"/><stop offset="0.5079" stop-color="#caffff"/><stop offset="0.5101" stop-color="#d1ffff"/><stop offset="0.5169" stop-color="#c6ffff"/><stop offset="0.5191" stop-color="#e3ffff"/><stop offset="0.5214" stop-color="#f3ffff"/><stop offset="0.5282" stop-color="#deffff"/><stop offset="0.5349" stop-color="#e3ffff"/><stop offset="0.5372" stop-color="#f0ffff"/><stop offset="0.5417" stop-color="#ecffff"/><stop offset="0.5462" stop-color="#d6ffff"/><stop offset="0.5529" stop-color="#bdffff"/><stop offset="0.5552" stop-color="#f3ffff"/><stop offset="0.5574" stop-color="#f9ffff"/><stop offset="0.5597" stop-color="#faffff"/><stop offset="0.5664" stop-color="#e9ffff"/><stop offset="0.5687" stop-color="#f3ffff"/><stop offset="0.5709" stop-color="#e8ffff"/><stop offset="0.5755" stop-color="#f0ffff"/><stop offset="0.5822" stop-color="#f8ffff"/><stop offset="0.5845" stop-color="#b4ffff"/><stop offset="0.5912" stop-color="#daffff"/><stop offset="0.5935" stop-color="#cbffff"/><stop offset="0.5957" stop-color="#faffff"/><stop offset="0.6025" stop-color="#f6ffff"/><stop offset="0.6070" stop-color="#f7ffff"/><stop offset="0.6115" stop-color="#f9ffff"/><stop offset="0.6160" stop-color="#fbffff"/><stop offset="0.6227" stop-color="#f9ffff"/><stop offset="0.6273" stop-color="#f6ffff"/><stop offset="0.6318" stop-color="#feffff"/><stop offset="0.6340" stop-color="#f5ffff"/><stop offset="0.6408" stop-color="#f4ffff"/><stop offset="0.6475" stop-color="#ffffff"/><stop offset="0.6543" stop-color="#faffff"/><stop offset="0.6588" stop-color="#feffff"/><stop offset="0.6610" stop-color="#fcffff"/><stop offset="0.6678" stop-color="#f5ffff"/><stop offset="0.6723" stop-color="#f6ffff"/><stop offset="0.6745" stop-color="#fbffff"/><stop offset="0.6813" stop-color="#feffff"/><stop offset="0.6858" stop-color="#efffff"/><stop offset="0.6903" stop-color="#f4ffff"/><stop offset="0.6948" stop-color="#f8ffff"/><stop offset="0.6993" stop-color="#efffff"/><stop offset="0.7038" stop-color="#eaffff"/><stop offset="0.7083" stop-color="#fdffff"/><stop offset="0.7128" stop-color="#f2ffff"/><stop offset="0.7173" stop-color="#efffff"/><stop offset="0.7196" stop-color="#fbffff"/><stop offset="0.7264" stop-color="#f9ffff"/><stop offset="0.7309" stop-color="#feffff"/><stop offset="0.7376" stop-color="#f7ffff"/><stop offset="0.7444" stop-color="#f6ffff"/><stop offset="0.7489" stop-color="#fdffff"/><stop offset="0.7534" stop-color="#faffff"/><stop offset="0.7579" stop-color="#fbffff"/><stop offset="0.7624" stop-color="#faffff"/><stop offset="0.7669" stop-color="#f6ffff"/><stop offset="0.7714" stop-color="#f6ffff"/><stop offset="0.7782" stop-color="#fdffff"/><stop offset="0.7849" stop-color="#f8ffff"/><stop offset="0.7917" stop-color="#feffff"/><stop offset="0.7939" stop-color="#f8ffff"/><stop offset="0.7984" stop-color="#e3ffff"/><stop offset="0.8029" stop-color="#f8ffff"/><stop offset="0.8074" stop-color="#faffff"/><stop offset="0.8142" stop-color="#fbffff"/><stop offset="0.8187" stop-color="#fbffff"/><stop offset="0.8209" stop-color="#faffff"/><stop offset="0.8255" stop-color="#fcffff"/><stop offset="0.8277" stop-color="#f1ffff"/><stop offset="0.8345" stop-color="#faffff"/><stop offset="0.8412" stop-color="#fcffff"/><stop offset="0.8435" stop-color="#f3ffff"/><stop offset="0.8502" stop-color="#f7ffff"/><stop offset="0.8570" stop-color="#f9ffff"/><stop offset="0.8637" stop-color="#ffffff"/><stop offset="0.8660" stop-color="#f8ffff"/><stop offset="0.8705" stop-color="#f2ffff"/><stop offset="0.8727" stop-color="#f9ffff"/><stop offset="0.8773" stop-color="#fdffff"/><stop offset="0.8795" stop-color="#ffffff"/><stop offset="0.8818" stop-color="#f8ffff"/><stop offset="0.8885" stop-color="#fbffff"/><stop offset="0.8908" stop-color="#fcffff"/><stop offset="0.8930" stop-color="#f3ffff"/><stop offset="0.8998" stop-color="#ffffff"/><stop offset="0.9020" stop-color="#f9ffff"/><stop offset="0.9088" stop-color="#f3ffff"/><stop offset="0.9133" stop-color="#faffff"/><stop offset="0.9178" stop-color="#ffffff"/><stop offset="0.9200" stop-color="#f5ffff"/><stop offset="0.9268" stop-color="#f2ffff"/><stop offset="0.9313" stop-color="#fdffff"/><stop offset="0.9358" stop-color="#f6ffff"/><stop offset="0.9381" stop-color="#f8ffff"/><stop offset="0.9403" stop-color="#fcffff"/><stop offset="0.9426" stop-color="#f2ffff"/><stop offset="0.9471" stop-color="#fdffff"/><stop offset="0.9516" stop-color="#faffff"/><stop offset="0.9561" stop-color="#feffff"/><stop offset="0.9583" stop-color="#faffff"/><stop offset="0.9628" stop-color="#feffff"/><stop offset="0.9673" stop-color="#fbffff"/><stop offset="0.9718" stop-color="#f0ffff"/><stop offset="0.9786" stop-color="#f4ffff"/><stop offset="0.9831" stop-color="#fdffff"/><stop offset="0.9899" stop-color="#ecffff"/><stop offset="0.9921" stop-color="#f7ffff"/><stop offset="0.9966" stop-color="#f8ffff"/></linearGradient>
<linearGradient id="re0" x1="0" y1="0" x2="1" y2="0"><stop offset="0" stop-color="#1c0000"/><stop offset="1" stop-color="#000000"/></linearGradient>
<linearGradient id="ls1" x1="0" y1="0" x2="1" y2="0"><stop offset="0.1" stop-color="#000000"/><stop offset="0.42" stop-color="#0e0000"/><stop offset="0.62" stop-color="#0d0000"/><stop offset="0.92" stop-color="#000000"/></linearGradient>
<linearGradient id="lm1" x1="0" y1="0" x2="1" y2="0"><stop offset="0" stop-color="#e0ffff"/><stop offset="0.13" stop-color="#ffffff"/></linearGradient>
<linearGradient id="ka1m" x1="0" y1="0" x2="1" y2="0"><stop offset="0" stop-color="#ffffff"/><stop offset="1" stop-color="#d3ffff"/></linearGradient>
<linearGradient id="ka1s" x1="0" y1="0" x2="1" y2="0"><stop offset="0" stop-color="#000000"/><stop offset="1" stop-color="#002a00"/></linearGradient>
<linearGradient id="wb1" x1="0" y1="0" x2="1" y2="0"><stop offset="0" stop-color="#000000"/><stop offset="0.5" stop-color="#001200"/><stop offset="1" stop-color="#102a00"/></linearGradient>
<linearGradient id="wc1" x1="0" y1="0" x2="1" y2="0"><stop offset="0" stop-color="#000000"/><stop offset="0.4" stop-color="#0a0600"/><stop offset="1" stop-color="#301800"/></linearGradient>
<linearGradient id="wd1" x1="0" y1="0" x2="1" y2="0"><stop offset="0" stop-color="#000000"/><stop offset="0.5" stop-color="#000c00"/><stop offset="1" stop-color="#032a00"/></linearGradient>
<linearGradient id="se1" x1="0" y1="0" x2="1" y2="0"><stop offset="0" stop-color="#ccffff"/><stop offset="0.09" stop-color="#f5ffff"/><stop offset="0.18" stop-color="#ffffff"/><stop offset="0.82" stop-color="#ffffff"/><stop offset="0.91" stop-color="#f5ffff"/><stop offset="1" stop-color="#ccffff"/></linearGradient>
<linearGradient id="st1" x1="0" y1="0" x2="0" y2="1"><stop offset="0.0011" stop-color="#ecffff"/><stop offset="0.0034" stop-color="#f4ffff"/><stop offset="0.0101" stop-color="#d2ffff"/><stop offset="0.0146" stop-color="#feffff"/><stop offset="0.0169" stop-color="#eeffff"/><stop offset="0.0191" stop-color="#b9ffff"/><stop offset="0.0236" stop-color="#e6ffff"/><stop offset="0.0304" stop-color="#e3ffff"/><stop offset="0.0349" stop-color="#f6ffff"/><stop offset="0.0372" stop-color="#ddffff"/><stop offset="0.0417" stop-color="#eaffff"/><stop offset="0.0462" stop-color="#d3ffff"/><stop offset="0.0484" stop-color="#e1ffff"/><stop offset="0.0507" stop-color="#efffff"/><stop offset="0.0529" stop-color="#bbffff"/><stop offset="0.0597" stop-color="#f8ffff"/><stop offset="0.0619" stop-color="#c7ffff"/><stop offset="0.0642" stop-color="#f7ffff"/><stop offset="0.0664" stop-color="#abffff"/><stop offset="0.0732" stop-color="#c6ffff"/><stop offset="0.0755" stop-color="#bbffff"/><stop offset="0.0777" stop-color="#feffff"/><stop offset="0.0845" stop-color="#9fffff"/><stop offset="0.0890" stop-color="#c4ffff"/><stop offset="0.0957" stop-color="#acffff"/><stop offset="0.1025" stop-color="#d2ffff"/><stop offset="0.1070" stop-color="#eaffff"/><stop offset="0.1092" stop-color="#c8ffff"/><stop offset="0.1115" stop-color="#faffff"/><stop offset="0.1137" stop-color="#9effff"/><stop offset="0.1160" stop-color="#c2ffff"/><stop offset="0.1205" stop-color="#ebffff"/><stop offset="0.1227" stop-color="#eaffff"/><stop offset="0.1250" stop-color="#d4ffff"/><stop offset="0.1273" stop-color="#d9ffff"/><stop offset="0.1295" stop-color="#e9ffff"/><stop offset="0.1318" stop-color="#b1ffff"/><stop offset="0.1385" stop-color="#c6ffff"/><stop offset="0.1430" stop-color="#d5ffff"/><stop offset="0.1453" stop-color="#f4ffff"/><stop offset="0.1498" stop-color="#e9ffff"/><stop offset="0.1520" stop-color="#b5ffff"/><stop offset="0.1543" stop-color="#f3ffff"/><stop offset="0.1588" stop-color="#ceffff"/><stop offset="0.1655" stop-color="#fdffff"/><stop offset="0.1678" stop-color="#f3ffff"/><stop offset="0.1700" stop-color="#e6ffff"/><stop offset="0.1768" stop-color="#e5ffff"/><stop offset="0.1791" stop-color="#d1ffff"/><stop offset="0.1836" stop-color="#fbffff"/><stop offset="0.1858" stop-color="#f6ffff"/><stop offset="0.1903" stop-color="#e4ffff"/><stop offset="0.1926" stop-color="#ffffff"/><stop offset="0.1948" stop-color="#e6ffff"/><stop offset="0.1993" stop-color="#f5ffff"/><stop offset="0.2016" stop-color="#fbffff"/><stop offset="0.2061" stop-color="#d2ffff"/><stop offset="0.2083" stop-color="#f8ffff"/><stop offset="0.2128" stop-color="#e3ffff"/><stop offset="0.2173" stop-color="#ceffff"/><stop offset="0.2241" stop-color="#d0ffff"/><stop offset="0.2309" stop-color="#ecffff"/><stop offset="0.2331" stop-color="#c4ffff"/><stop offset="0.2399" stop-color="#d0ffff"/><stop offset="0.2444" stop-color="#f7ffff"/><stop offset="0.2466" stop-color="#ddffff"/><stop offset="0.2534" stop-color="#fbffff"/><stop offset="0.2556" stop-color="#f1ffff"/><stop offset="0.2579" stop-color="#f9ffff"/><stop offset="0.2601" stop-color="#d3ffff"/><stop offset="0.2624" stop-color="#b9ffff"/><stop offset="0.2691" stop-color="#f9ffff"/><stop offset="0.2714" stop-color="#b9ffff"/><stop offset="0.2759" stop-color="#e6ffff"/><stop offset="0.2804" stop-color="#b2ffff"/><stop offset="0.2827" stop-color="#c2ffff"/><stop offset="0.2872" stop-color="#e7ffff"/><stop offset="0.2894" stop-color="#9effff"/><stop offset="0.2917" stop-color="#faffff"/><stop offset="0.2939" stop-color="#efffff"/><stop offset="0.2962" stop-color="#faffff"/><stop offset="0.3029" stop-color="#ecffff"/><stop offset="0.3052" stop-color="#ebffff"/><stop offset="0.3119" stop-color="#beffff"/><stop offset="0.3142" stop-color="#f7ffff"/><stop offset="0.3164" stop-color="#e8ffff"/><stop offset="0.3187" stop-color="#daffff"/><stop offset="0.3232" stop-color="#e7ffff"/><stop offset="0.3255" stop-color="#fcffff"/><stop offset="0.3277" stop-color="#c7ffff"/><stop offset="0.3322" stop-color="#faffff"/><stop offset="0.3345" stop-color="#c8ffff"/><stop offset="0.3412" stop-color="#f1ffff"/><stop offset="0.3457" stop-color="#afffff"/><stop offset="0.3480" stop-color="#f8ffff"/><stop offset="0.3502" stop-color="#f6ffff"/><stop offset="0.3525" stop-color="#acffff"/><stop offset="0.3570" stop-color="#aaffff"/><stop offset="0.3592" stop-color="#fbffff"/><stop offset="0.3637" stop-color="#dfffff"/><stop offset="0.3705" stop-color="#ebffff"/><stop offset="0.3773" stop-color="#d0ffff"/><stop offset="0.3795" stop-color="#caffff"/><stop offset="0.3818" stop-color="#f5ffff"/><stop offset="0.3840" stop-color="#fdffff"/><stop offset="0.3863" stop-color="#d7ffff"/><stop offset="0.3908" stop-color="#d8ffff"/><stop offset="0.3930" stop-color="#f3ffff"/><stop offset="0.3975" stop-color="#f5ffff"/><stop offset="0.3998" stop-color="#d2ffff"/><stop offset="0.4043" stop-color="#feffff"/><stop offset="0.4065" stop-color="#edffff"/><stop offset="0.4110" stop-color="#feffff"/><stop offset="0.4178" stop-color="#f0ffff"/><stop offset="0.4200" stop-color="#cfffff"/><stop offset="0.4223" stop-color="#eeffff"/><stop offset="0.4291" stop-color="#c8ffff"/><stop offset="0.4336" stop-color="#f1ffff"/><stop offset="0.4403" stop-color="#ccffff"/><stop offset="0.4426" stop-color="#edffff"/><stop offset="0.4493" stop-color="#f6ffff"/><stop offset="0.4538" stop-color="#f1ffff"/><stop offset="0.4606" stop-color="#d5ffff"/><stop offset="0.4628" stop-color="#faffff"/><stop offset="0.4651" stop-color="#9fffff"/><stop offset="0.4673" stop-color="#e8ffff"/><stop offset="0.4696" stop-color="#f6ffff"/><stop offset="0.4741" stop-color="#ecffff"/><stop offset="0.4764" stop-color="#d3ffff"/><stop offset="0.4786" stop-color="#c9ffff"/><stop offset="0.4809" stop-color="#f6ffff"/><stop offset="0.4876" stop-color="#feffff"/><stop offset="0.4944" stop-color="#e9ffff"/><stop offset="0.4966" stop-color="#e5ffff"/><stop offset="0.5011" stop-color="#d7ffff"/><stop offset="0.5056" stop-color="#bbffff"/><stop offset="0.5101" stop-color="#e4ffff"/><stop offset="0.5146" stop-color="#b0ffff"/><stop offset="0.5169" stop-color="#f5ffff"/><stop offset="0.5214" stop-color="#c9ffff"/><stop offset="0.5259" stop-color="#e5ffff"/><stop offset="0.5282" stop-color="#cbffff"/><stop offset="0.5327" stop-color="#fbffff"/><stop offset="0.5394" stop-color="#f0ffff"/><stop offset="0.5439" stop-color="#fbffff"/><stop offset="0.5462" stop-color="#fbffff"/><stop offset="0.5529" stop-color="#c1ffff"/><stop offset="0.5574" stop-color="#afffff"/><stop offset="0.5597" stop-color="#ebffff"/><stop offset="0.5619" stop-color="#bbffff"/><stop offset="0.5642" stop-color="#e3ffff"/><stop offset="0.5687" stop-color="#eeffff"/><stop offset="0.5755" stop-color="#dfffff"/><stop offset="0.5777" stop-color="#d7ffff"/><stop offset="0.5800" stop-color="#edffff"/><stop offset="0.5867" stop-color="#ddffff"/><stop offset="0.5890" stop-color="#eaffff"/><stop offset="0.5935" stop-color="#ebffff"/><stop offset="0.5957" stop-color="#cfffff"/><stop offset="0.5980" stop-color="#f7ffff"/><stop offset="0.6025" stop-color="#faffff"/><stop offset="0.6047" stop-color="#f9ffff"/><stop offset="0.6070" stop-color="#f1ffff"/><stop offset="0.6137" stop-color="#f7ffff"/><stop offset="0.6182" stop-color="#fcffff"/><stop offset="0.6227" stop-color="#efffff"/><stop offset="0.6273" stop-color="#fbffff"/><stop offset="0.6318" stop-color="#fcffff"/><stop offset="0.6363" stop-color="#fdffff"/><stop offset="0.6408" stop-color="#f3ffff"/><stop offset="0.6453" stop-color="#feffff"/><stop offset="0.6498" stop-color="#fdffff"/><stop offset="0.6565" stop-color="#f9ffff"/><stop offset="0.6610" stop-color="#f4ffff"/><stop offset="0.6655" stop-color="#ffffff"/><stop offset="0.6700" stop-color="#f6ffff"/><stop offset="0.6768" stop-color="#fdffff"/><stop offset="0.6813" stop-color="#ffffff"/><stop offset="0.6858" stop-color="#feffff"/><stop offset="0.6903" stop-color="#f7ffff"/><stop offset="0.6926" stop-color="#edffff"/><stop offset="0.6948" stop-color="#fcffff"/><stop offset="0.6993" stop-color="#faffff"/><stop offset="0.7016" stop-color="#feffff"/><stop offset="0.7061" stop-color="#ffffff"/><stop offset="0.7083" stop-color="#fdffff"/><stop offset="0.7128" stop-color="#f9ffff"/><stop offset="0.7196" stop-color="#f8ffff"/><stop offset="0.7241" stop-color="#ffffff"/><stop offset="0.7309" stop-color="#f6ffff"/><stop offset="0.7376" stop-color="#fdffff"/><stop offset="0.7444" stop-color="#f7ffff"/><stop offset="0.7466" stop-color="#f9ffff"/><stop offset="0.7534" stop-color="#fcffff"/><stop offset="0.7556" stop-color="#faffff"/><stop offset="0.7601" stop-color="#fcffff"/><stop offset="0.7669" stop-color="#fdffff"/><stop offset="0.7714" stop-color="#fcffff"/><stop offset="0.7759" stop-color="#fcffff"/><stop offset="0.7827" stop-color="#f7ffff"/><stop offset="0.7849" stop-color="#f1ffff"/><stop offset="0.7894" stop-color="#f4ffff"/><stop offset="0.7939" stop-color="#faffff"/><stop offset="0.7984" stop-color="#fcffff"/><stop offset="0.8007" stop-color="#f8ffff"/><stop offset="0.8052" stop-color="#f3ffff"/><stop offset="0.8097" stop-color="#f1ffff"/><stop offset="0.8119" stop-color="#fcffff"/><stop offset="0.8187" stop-color="#faffff"/><stop offset="0.8209" stop-color="#feffff"/><stop offset="0.8255" stop-color="#f8ffff"/><stop offset="0.8322" stop-color="#f8ffff"/><stop offset="0.8367" stop-color="#f7ffff"/><stop offset="0.8412" stop-color="#fbffff"/><stop offset="0.8435" stop-color="#feffff"/><stop offset="0.8502" stop-color="#f4ffff"/><stop offset="0.8547" stop-color="#f5ffff"/><stop offset="0.8592" stop-color="#fdffff"/><stop offset="0.8637" stop-color="#f4ffff"/><stop offset="0.8660" stop-color="#fdffff"/><stop offset="0.8705" stop-color="#f7ffff"/><stop offset="0.8750" stop-color="#f9ffff"/><stop offset="0.8795" stop-color="#ecffff"/><stop offset="0.8818" stop-color="#f8ffff"/><stop offset="0.8863" stop-color="#fcffff"/><stop offset="0.8930" stop-color="#f8ffff"/><stop offset="0.8953" stop-color="#f6ffff"/><stop offset="0.8998" stop-color="#f6ffff"/><stop offset="0.9065" stop-color="#f9ffff"/><stop offset="0.9110" stop-color="#f7ffff"/><stop offset="0.9133" stop-color="#ffffff"/><stop offset="0.9155" stop-color="#f8ffff"/><stop offset="0.9223" stop-color="#f2ffff"/><stop offset="0.9245" stop-color="#efffff"/><stop offset="0.9268" stop-color="#fcffff"/><stop offset="0.9291" stop-color="#fbffff"/><stop offset="0.9313" stop-color="#eeffff"/><stop offset="0.9381" stop-color="#eeffff"/><stop offset="0.9426" stop-color="#f7ffff"/><stop offset="0.9448" stop-color="#f6ffff"/><stop offset="0.9493" stop-color="#fcffff"/><stop offset="0.9561" stop-color="#fcffff"/><stop offset="0.9606" stop-color="#ffffff"/><stop offset="0.9673" stop-color="#fbffff"/><stop offset="0.9718" stop-color="#feffff"/><stop offset="0.9786" stop-color="#f1ffff"/><stop offset="0.9831" stop-color="#fdffff"/><stop offset="0.9899" stop-color="#faffff"/><stop offset="0.9966" stop-color="#f9ffff"/><stop offset="0.9989" stop-color="#fdffff"/></linearGradient>
<linearGradient id="re1" x1="0" y1="0" x2="1" y2="0"><stop offset="0" stop-color="#1c0000"/><stop offset="1" stop-color="#000000"/></linearGradient>
<linearGradient id="wa2" x1="0" y1="0" x2="1" y2="0"><stop offset="0" stop-color="#149e00"/><stop offset="1" stop-color="#2f8000"/></linearGradient>
<linearGradient id="wb2" x1="0" y1="0" x2="1" y2="0"><stop offset="0" stop-color="#149e00"/><stop offset="0.5" stop-color="#268c00"/><stop offset="1" stop-color="#476600"/></linearGradient>
<linearGradient id="wc2" x1="0" y1="0" x2="1" y2="0"><stop offset="0" stop-color="#149e00"/><stop offset="0.5" stop-color="#2f8000"/><stop offset="1" stop-color="#565700"/></linearGradient>
<linearGradient id="wd2" x1="0" y1="0" x2="1" y2="0"><stop offset="0" stop-color="#149e00"/><stop offset="0.3" stop-color="#2f8000"/><stop offset="0.65" stop-color="#545700"/><stop offset="1" stop-color="#684200"/></linearGradient>
<linearGradient id="se2" x1="0" y1="0" x2="1" y2="0"><stop offset="0" stop-color="#ccffff"/><stop offset="0.09" stop-color="#f5ffff"/><stop offset="0.18" stop-color="#ffffff"/><stop offset="0.82" stop-color="#ffffff"/><stop offset="0.91" stop-color="#f5ffff"/><stop offset="1" stop-color="#ccffff"/></linearGradient>
<linearGradient id="st2" x1="0" y1="0" x2="0" y2="1"><stop offset="0.0011" stop-color="#e4ffff"/><stop offset="0.0079" stop-color="#daffff"/><stop offset="0.0101" stop-color="#ddffff"/><stop offset="0.0124" stop-color="#e0ffff"/><stop offset="0.0169" stop-color="#e2ffff"/><stop offset="0.0236" stop-color="#e4ffff"/><stop offset="0.0282" stop-color="#fcffff"/><stop offset="0.0349" stop-color="#eeffff"/><stop offset="0.0394" stop-color="#dbffff"/><stop offset="0.0439" stop-color="#f1ffff"/><stop offset="0.0484" stop-color="#ddffff"/><stop offset="0.0507" stop-color="#dfffff"/><stop offset="0.0529" stop-color="#efffff"/><stop offset="0.0574" stop-color="#f0ffff"/><stop offset="0.0619" stop-color="#d7ffff"/><stop offset="0.0642" stop-color="#d2ffff"/><stop offset="0.0709" stop-color="#faffff"/><stop offset="0.0777" stop-color="#eeffff"/><stop offset="0.0800" stop-color="#e9ffff"/><stop offset="0.0845" stop-color="#d5ffff"/><stop offset="0.0912" stop-color="#d7ffff"/><stop offset="0.0935" stop-color="#fdffff"/><stop offset="0.0980" stop-color="#dcffff"/><stop offset="0.1002" stop-color="#e9ffff"/><stop offset="0.1047" stop-color="#e3ffff"/><stop offset="0.1070" stop-color="#bfffff"/><stop offset="0.1115" stop-color="#e7ffff"/><stop offset="0.1182" stop-color="#e9ffff"/><stop offset="0.1205" stop-color="#f7ffff"/><stop offset="0.1227" stop-color="#dcffff"/><stop offset="0.1250" stop-color="#e7ffff"/><stop offset="0.1273" stop-color="#e1ffff"/><stop offset="0.1295" stop-color="#f5ffff"/><stop offset="0.1340" stop-color="#f1ffff"/><stop offset="0.1363" stop-color="#faffff"/><stop offset="0.1385" stop-color="#ddffff"/><stop offset="0.1453" stop-color="#fcffff"/><stop offset="0.1498" stop-color="#f9ffff"/><stop offset="0.1520" stop-color="#caffff"/><stop offset="0.1543" stop-color="#ecffff"/><stop offset="0.1610" stop-color="#ceffff"/><stop offset="0.1678" stop-color="#d7ffff"/><stop offset="0.1700" stop-color="#feffff"/><stop offset="0.1745" stop-color="#ddffff"/><stop offset="0.1768" stop-color="#e8ffff"/><stop offset="0.1813" stop-color="#9effff"/><stop offset="0.1836" stop-color="#f6ffff"/><stop offset="0.1858" stop-color="#c6ffff"/><stop offset="0.1926" stop-color="#eeffff"/><stop offset="0.1971" stop-color="#f9ffff"/><stop offset="0.2038" stop-color="#c3ffff"/><stop offset="0.2061" stop-color="#c6ffff"/><stop offset="0.2106" stop-color="#e6ffff"/><stop offset="0.2128" stop-color="#c9ffff"/><stop offset="0.2151" stop-color="#f0ffff"/><stop offset="0.2173" stop-color="#ceffff"/><stop offset="0.2218" stop-color="#d6ffff"/><stop offset="0.2264" stop-color="#abffff"/><stop offset="0.2309" stop-color="#e0ffff"/><stop offset="0.2376" stop-color="#e9ffff"/><stop offset="0.2444" stop-color="#f5ffff"/><stop offset="0.2511" stop-color="#e7ffff"/><stop offset="0.2534" stop-color="#ffffff"/><stop offset="0.2556" stop-color="#cfffff"/><stop offset="0.2624" stop-color="#d6ffff"/><stop offset="0.2669" stop-color="#adffff"/><stop offset="0.2691" stop-color="#ffffff"/><stop offset="0.2736" stop-color="#e4ffff"/><stop offset="0.2782" stop-color="#c9ffff"/><stop offset="0.2849" stop-color="#e2ffff"/><stop offset="0.2894" stop-color="#cbffff"/><stop offset="0.2962" stop-color="#f3ffff"/><stop offset="0.2984" stop-color="#dbffff"/><stop offset="0.3007" stop-color="#fbffff"/><stop offset="0.3029" stop-color="#dcffff"/><stop offset="0.3074" stop-color="#ccffff"/><stop offset="0.3097" stop-color="#e0ffff"/><stop offset="0.3164" stop-color="#f5ffff"/><stop offset="0.3187" stop-color="#f4ffff"/><stop offset="0.3255" stop-color="#e7ffff"/><stop offset="0.3277" stop-color="#e5ffff"/><stop offset="0.3300" stop-color="#b2ffff"/><stop offset="0.3345" stop-color="#d3ffff"/><stop offset="0.3412" stop-color="#c9ffff"/><stop offset="0.3435" stop-color="#fdffff"/><stop offset="0.3457" stop-color="#f8ffff"/><stop offset="0.3502" stop-color="#e4ffff"/><stop offset="0.3525" stop-color="#c8ffff"/><stop offset="0.3570" stop-color="#e3ffff"/><stop offset="0.3615" stop-color="#ecffff"/><stop offset="0.3637" stop-color="#f9ffff"/><stop offset="0.3682" stop-color="#b3ffff"/><stop offset="0.3705" stop-color="#afffff"/><stop offset="0.3750" stop-color="#d7ffff"/><stop offset="0.3795" stop-color="#b5ffff"/><stop offset="0.3863" stop-color="#b1ffff"/><stop offset="0.3908" stop-color="#d0ffff"/><stop offset="0.3975" stop-color="#adffff"/><stop offset="0.3998" stop-color="#beffff"/><stop offset="0.4065" stop-color="#faffff"/><stop offset="0.4133" stop-color="#f6ffff"/><stop offset="0.4178" stop-color="#eaffff"/><stop offset="0.4200" stop-color="#f1ffff"/><stop offset="0.4245" stop-color="#ffffff"/><stop offset="0.4268" stop-color="#e2ffff"/><stop offset="0.4291" stop-color="#f1ffff"/><stop offset="0.4313" stop-color="#fdffff"/><stop offset="0.4358" stop-color="#e0ffff"/><stop offset="0.4381" stop-color="#f3ffff"/><stop offset="0.4403" stop-color="#d1ffff"/><stop offset="0.4426" stop-color="#eeffff"/><stop offset="0.4448" stop-color="#e5ffff"/><stop offset="0.4516" stop-color="#deffff"/><stop offset="0.4583" stop-color="#cdffff"/><stop offset="0.4606" stop-color="#f5ffff"/><stop offset="0.4651" stop-color="#d7ffff"/><stop offset="0.4673" stop-color="#fbffff"/><stop offset="0.4718" stop-color="#ffffff"/><stop offset="0.4741" stop-color="#b8ffff"/><stop offset="0.4786" stop-color="#fcffff"/><stop offset="0.4809" stop-color="#c0ffff"/><stop offset="0.4876" stop-color="#b8ffff"/><stop offset="0.4899" stop-color="#ecffff"/><stop offset="0.4944" stop-color="#fcffff"/><stop offset="0.4989" stop-color="#f8ffff"/><stop offset="0.5034" stop-color="#daffff"/><stop offset="0.5056" stop-color="#f6ffff"/><stop offset="0.5124" stop-color="#edffff"/><stop offset="0.5146" stop-color="#f8ffff"/><stop offset="0.5169" stop-color="#ebffff"/><stop offset="0.5191" stop-color="#c4ffff"/><stop offset="0.5259" stop-color="#fcffff"/><stop offset="0.5282" stop-color="#b2ffff"/><stop offset="0.5327" stop-color="#e3ffff"/><stop offset="0.5349" stop-color="#cdffff"/><stop offset="0.5372" stop-color="#daffff"/><stop offset="0.5394" stop-color="#edffff"/><stop offset="0.5417" stop-color="#eaffff"/><stop offset="0.5439" stop-color="#c0ffff"/><stop offset="0.5484" stop-color="#d8ffff"/><stop offset="0.5529" stop-color="#eeffff"/><stop offset="0.5552" stop-color="#eaffff"/><stop offset="0.5597" stop-color="#bcffff"/><stop offset="0.5664" stop-color="#b8ffff"/><stop offset="0.5687" stop-color="#ceffff"/><stop offset="0.5732" stop-color="#f7ffff"/><stop offset="0.5755" stop-color="#d3ffff"/><stop offset="0.5777" stop-color="#d9ffff"/><stop offset="0.5822" stop-color="#eeffff"/><stop offset="0.5845" stop-color="#dfffff"/><stop offset="0.5867" stop-color="#f5ffff"/><stop offset="0.5912" stop-color="#daffff"/><stop offset="0.5935" stop-color="#b6ffff"/><stop offset="0.5957" stop-color="#c4ffff"/><stop offset="0.6002" stop-color="#f7ffff"/><stop offset="0.6047" stop-color="#fcffff"/><stop offset="0.6115" stop-color="#fdffff"/><stop offset="0.6160" stop-color="#fcffff"/><stop offset="0.6205" stop-color="#faffff"/><stop offset="0.6273" stop-color="#feffff"/><stop offset="0.6295" stop-color="#faffff"/><stop offset="0.6363" stop-color="#efffff"/><stop offset="0.6408" stop-color="#fcffff"/><stop offset="0.6430" stop-color="#f5ffff"/><stop offset="0.6498" stop-color="#f6ffff"/><stop offset="0.6543" stop-color="#ecffff"/><stop offset="0.6588" stop-color="#f1ffff"/><stop offset="0.6610" stop-color="#fcffff"/><stop offset="0.6655" stop-color="#fdffff"/><stop offset="0.6700" stop-color="#f9ffff"/><stop offset="0.6745" stop-color="#fbffff"/><stop offset="0.6791" stop-color="#f7ffff"/><stop offset="0.6858" stop-color="#feffff"/><stop offset="0.6881" stop-color="#f8ffff"/><stop offset="0.6926" stop-color="#feffff"/><stop offset="0.6993" stop-color="#f9ffff"/><stop offset="0.7038" stop-color="#edffff"/><stop offset="0.7061" stop-color="#fdffff"/><stop offset="0.7083" stop-color="#f3ffff"/><stop offset="0.7128" stop-color="#faffff"/><stop offset="0.7151" stop-color="#faffff"/><stop offset="0.7218" stop-color="#fdffff"/><stop offset="0.7264" stop-color="#f3ffff"/><stop offset="0.7309" stop-color="#f2ffff"/><stop offset="0.7331" stop-color="#fbffff"/><stop offset="0.7354" stop-color="#f3ffff"/><stop offset="0.7399" stop-color="#f4ffff"/><stop offset="0.7444" stop-color="#f7ffff"/><stop offset="0.7511" stop-color="#f6ffff"/><stop offset="0.7534" stop-color="#f3ffff"/><stop offset="0.7579" stop-color="#f2ffff"/><stop offset="0.7624" stop-color="#f9ffff"/><stop offset="0.7669" stop-color="#fbffff"/><stop offset="0.7736" stop-color="#fbffff"/><stop offset="0.7782" stop-color="#f5ffff"/><stop offset="0.7827" stop-color="#f3ffff"/><stop offset="0.7872" stop-color="#eaffff"/><stop offset="0.7939" stop-color="#edffff"/><stop offset="0.7984" stop-color="#f6ffff"/><stop offset="0.8007" stop-color="#fcffff"/><stop offset="0.8074" stop-color="#f6ffff"/><stop offset="0.8119" stop-color="#fcffff"/><stop offset="0.8142" stop-color="#ffffff"/><stop offset="0.8209" stop-color="#f6ffff"/><stop offset="0.8277" stop-color="#f5ffff"/><stop offset="0.8322" stop-color="#f8ffff"/><stop offset="0.8367" stop-color="#ffffff"/><stop offset="0.8435" stop-color="#f5ffff"/><stop offset="0.8480" stop-color="#f4ffff"/><stop offset="0.8525" stop-color="#faffff"/><stop offset="0.8570" stop-color="#feffff"/><stop offset="0.8615" stop-color="#fcffff"/><stop offset="0.8660" stop-color="#f6ffff"/><stop offset="0.8705" stop-color="#feffff"/><stop offset="0.8750" stop-color="#ffffff"/><stop offset="0.8795" stop-color="#e7ffff"/><stop offset="0.8840" stop-color="#fdffff"/><stop offset="0.8885" stop-color="#f9ffff"/><stop offset="0.8930" stop-color="#f6ffff"/><stop offset="0.8998" stop-color="#fbffff"/><stop offset="0.9020" stop-color="#f6ffff"/><stop offset="0.9088" stop-color="#f4ffff"/><stop offset="0.9133" stop-color="#f8ffff"/><stop offset="0.9200" stop-color="#f7ffff"/><stop offset="0.9245" stop-color="#fdffff"/><stop offset="0.9313" stop-color="#fbffff"/><stop offset="0.9381" stop-color="#f4ffff"/><stop offset="0.9448" stop-color="#ffffff"/><stop offset="0.9516" stop-color="#f0ffff"/><stop offset="0.9561" stop-color="#faffff"/><stop offset="0.9628" stop-color="#f9ffff"/><stop offset="0.9696" stop-color="#faffff"/><stop offset="0.9764" stop-color="#faffff"/><stop offset="0.9809" stop-color="#fbffff"/><stop offset="0.9854" stop-color="#f0ffff"/><stop offset="0.9876" stop-color="#feffff"/><stop offset="0.9921" stop-color="#f4ffff"/><stop offset="0.9966" stop-color="#f3ffff"/></linearGradient>
<linearGradient id="re2" x1="0" y1="0" x2="1" y2="0"><stop offset="0" stop-color="#1c0000"/><stop offset="1" stop-color="#000000"/></linearGradient>
<linearGradient id="wa3" x1="0" y1="0" x2="1" y2="0"><stop offset="0" stop-color="#149e00"/><stop offset="1" stop-color="#2f8000"/></linearGradient>
<linearGradient id="wb3" x1="0" y1="0" x2="1" y2="0"><stop offset="0" stop-color="#149e00"/><stop offset="0.5" stop-color="#268c00"/><stop offset="1" stop-color="#476600"/></linearGradient>
<linearGradient id="wc3" x1="0" y1="0" x2="1" y2="0"><stop offset="0" stop-color="#149e00"/><stop offset="0.5" stop-color="#2f8000"/><stop offset="1" stop-color="#565700"/></linearGradient>
<linearGradient id="wd3" x1="0" y1="0" x2="1" y2="0"><stop offset="0" stop-color="#149e00"/><stop offset="0.3" stop-color="#2f8000"/><stop offset="0.65" stop-color="#545700"/><stop offset="1" stop-color="#684200"/></linearGradient>
<linearGradient id="se3" x1="0" y1="0" x2="1" y2="0"><stop offset="0" stop-color="#ccffff"/><stop offset="0.09" stop-color="#f5ffff"/><stop offset="0.18" stop-color="#ffffff"/><stop offset="0.82" stop-color="#ffffff"/><stop offset="0.91" stop-color="#f5ffff"/><stop offset="1" stop-color="#ccffff"/></linearGradient>
<linearGradient id="st3" x1="0" y1="0" x2="0" y2="1"><stop offset="0.0011" stop-color="#dbffff"/><stop offset="0.0079" stop-color="#faffff"/><stop offset="0.0146" stop-color="#d7ffff"/><stop offset="0.0191" stop-color="#eaffff"/><stop offset="0.0214" stop-color="#cdffff"/><stop offset="0.0236" stop-color="#f3ffff"/><stop offset="0.0259" stop-color="#aeffff"/><stop offset="0.0304" stop-color="#e8ffff"/><stop offset="0.0327" stop-color="#fdffff"/><stop offset="0.0394" stop-color="#bdffff"/><stop offset="0.0462" stop-color="#c7ffff"/><stop offset="0.0484" stop-color="#e4ffff"/><stop offset="0.0507" stop-color="#d4ffff"/><stop offset="0.0529" stop-color="#f0ffff"/><stop offset="0.0552" stop-color="#fdffff"/><stop offset="0.0597" stop-color="#d6ffff"/><stop offset="0.0664" stop-color="#f5ffff"/><stop offset="0.0687" stop-color="#feffff"/><stop offset="0.0709" stop-color="#deffff"/><stop offset="0.0777" stop-color="#edffff"/><stop offset="0.0800" stop-color="#eeffff"/><stop offset="0.0845" stop-color="#d1ffff"/><stop offset="0.0867" stop-color="#f8ffff"/><stop offset="0.0912" stop-color="#e4ffff"/><stop offset="0.0957" stop-color="#f0ffff"/><stop offset="0.0980" stop-color="#deffff"/><stop offset="0.1002" stop-color="#ccffff"/><stop offset="0.1025" stop-color="#e6ffff"/><stop offset="0.1070" stop-color="#f0ffff"/><stop offset="0.1092" stop-color="#b3ffff"/><stop offset="0.1137" stop-color="#b5ffff"/><stop offset="0.1160" stop-color="#f9ffff"/><stop offset="0.1182" stop-color="#f8ffff"/><stop offset="0.1205" stop-color="#d0ffff"/><stop offset="0.1227" stop-color="#eeffff"/><stop offset="0.1273" stop-color="#f2ffff"/><stop offset="0.1295" stop-color="#f0ffff"/><stop offset="0.1363" stop-color="#d2ffff"/><stop offset="0.1385" stop-color="#dfffff"/><stop offset="0.1408" stop-color="#dbffff"/><stop offset="0.1453" stop-color="#f1ffff"/><stop offset="0.1475" stop-color="#f1ffff"/><stop offset="0.1498" stop-color="#c2ffff"/><stop offset="0.1543" stop-color="#d5ffff"/><stop offset="0.1588" stop-color="#c4ffff"/><stop offset="0.1633" stop-color="#f2ffff"/><stop offset="0.1678" stop-color="#f4ffff"/><stop offset="0.1723" stop-color="#b9ffff"/><stop offset="0.1768" stop-color="#b2ffff"/><stop offset="0.1791" stop-color="#fdffff"/><stop offset="0.1836" stop-color="#cfffff"/><stop offset="0.1858" stop-color="#f3ffff"/><stop offset="0.1926" stop-color="#c5ffff"/><stop offset="0.1948" stop-color="#ffffff"/><stop offset="0.1971" stop-color="#daffff"/><stop offset="0.1993" stop-color="#efffff"/><stop offset="0.2038" stop-color="#feffff"/><stop offset="0.2061" stop-color="#e6ffff"/><stop offset="0.2106" stop-color="#deffff"/><stop offset="0.2173" stop-color="#edffff"/><stop offset="0.2218" stop-color="#caffff"/><stop offset="0.2241" stop-color="#d4ffff"/><stop offset="0.2264" stop-color="#caffff"/><stop offset="0.2286" stop-color="#9effff"/><stop offset="0.2331" stop-color="#d5ffff"/><stop offset="0.2376" stop-color="#baffff"/><stop offset="0.2399" stop-color="#aeffff"/><stop offset="0.2421" stop-color="#f4ffff"/><stop offset="0.2489" stop-color="#c9ffff"/><stop offset="0.2556" stop-color="#efffff"/><stop offset="0.2601" stop-color="#dcffff"/><stop offset="0.2624" stop-color="#bcffff"/><stop offset="0.2691" stop-color="#f7ffff"/><stop offset="0.2714" stop-color="#f2ffff"/><stop offset="0.2736" stop-color="#e1ffff"/><stop offset="0.2804" stop-color="#d2ffff"/><stop offset="0.2849" stop-color="#caffff"/><stop offset="0.2872" stop-color="#d2ffff"/><stop offset="0.2894" stop-color="#b2ffff"/><stop offset="0.2962" stop-color="#d0ffff"/><stop offset="0.3029" stop-color="#d4ffff"/><stop offset="0.3052" stop-color="#beffff"/><stop offset="0.3119" stop-color="#feffff"/><stop offset="0.3142" stop-color="#b9ffff"/><stop offset="0.3187" stop-color="#e9ffff"/><stop offset="0.3209" stop-color="#ffffff"/><stop offset="0.3232" stop-color="#f6ffff"/><stop offset="0.3300" stop-color="#c2ffff"/><stop offset="0.3345" stop-color="#e5ffff"/><stop offset="0.3367" stop-color="#b0ffff"/><stop offset="0.3435" stop-color="#f9ffff"/><stop offset="0.3457" stop-color="#c3ffff"/><stop offset="0.3480" stop-color="#f8ffff"/><stop offset="0.3525" stop-color="#e8ffff"/><stop offset="0.3592" stop-color="#ebffff"/><stop offset="0.3660" stop-color="#ebffff"/><stop offset="0.3727" stop-color="#f2ffff"/><stop offset="0.3795" stop-color="#e8ffff"/><stop offset="0.3840" stop-color="#f3ffff"/><stop offset="0.3863" stop-color="#a0ffff"/><stop offset="0.3885" stop-color="#fdffff"/><stop offset="0.3930" stop-color="#f8ffff"/><stop offset="0.3953" stop-color="#d4ffff"/><stop offset="0.4020" stop-color="#a6ffff"/><stop offset="0.4043" stop-color="#f6ffff"/><stop offset="0.4088" stop-color="#9effff"/><stop offset="0.4110" stop-color="#d6ffff"/><stop offset="0.4155" stop-color="#dfffff"/><stop offset="0.4178" stop-color="#aaffff"/><stop offset="0.4223" stop-color="#d2ffff"/><stop offset="0.4268" stop-color="#dfffff"/><stop offset="0.4291" stop-color="#edffff"/><stop offset="0.4336" stop-color="#f0ffff"/><stop offset="0.4403" stop-color="#b8ffff"/><stop offset="0.4426" stop-color="#f9ffff"/><stop offset="0.4448" stop-color="#f0ffff"/><stop offset="0.4516" stop-color="#f3ffff"/><stop offset="0.4561" stop-color="#f7ffff"/><stop offset="0.4583" stop-color="#dfffff"/><stop offset="0.4628" stop-color="#feffff"/><stop offset="0.4696" stop-color="#fcffff"/><stop offset="0.4741" stop-color="#f9ffff"/><stop offset="0.4764" stop-color="#ecffff"/><stop offset="0.4809" stop-color="#e4ffff"/><stop offset="0.4831" stop-color="#d1ffff"/><stop offset="0.4854" stop-color="#e1ffff"/><stop offset="0.4899" stop-color="#cdffff"/><stop offset="0.4921" stop-color="#f3ffff"/><stop offset="0.4989" stop-color="#f5ffff"/><stop offset="0.5056" stop-color="#efffff"/><stop offset="0.5124" stop-color="#f8ffff"/><stop offset="0.5191" stop-color="#cdffff"/><stop offset="0.5214" stop-color="#deffff"/><stop offset="0.5236" stop-color="#ebffff"/><stop offset="0.5282" stop-color="#b8ffff"/><stop offset="0.5327" stop-color="#ccffff"/><stop offset="0.5394" stop-color="#e3ffff"/><stop offset="0.5417" stop-color="#efffff"/><stop offset="0.5439" stop-color="#d7ffff"/><stop offset="0.5462" stop-color="#e3ffff"/><stop offset="0.5529" stop-color="#c1ffff"/><stop offset="0.5552" stop-color="#deffff"/><stop offset="0.5574" stop-color="#edffff"/><stop offset="0.5597" stop-color="#d4ffff"/><stop offset="0.5619" stop-color="#e6ffff"/><stop offset="0.5664" stop-color="#fdffff"/><stop offset="0.5709" stop-color="#c0ffff"/><stop offset="0.5732" stop-color="#c6ffff"/><stop offset="0.5755" stop-color="#f8ffff"/><stop offset="0.5800" stop-color="#d6ffff"/><stop offset="0.5822" stop-color="#f3ffff"/><stop offset="0.5845" stop-color="#f1ffff"/><stop offset="0.5867" stop-color="#deffff"/><stop offset="0.5890" stop-color="#e1ffff"/><stop offset="0.5935" stop-color="#e9ffff"/><stop offset="0.5957" stop-color="#f9ffff"/><stop offset="0.5980" stop-color="#f1ffff"/><stop offset="0.6002" stop-color="#fdffff"/><stop offset="0.6025" stop-color="#fdffff"/><stop offset="0.6092" stop-color="#f5ffff"/><stop offset="0.6137" stop-color="#feffff"/><stop offset="0.6205" stop-color="#fcffff"/><stop offset="0.6250" stop-color="#f8ffff"/><stop offset="0.6318" stop-color="#fdffff"/><stop offset="0.6385" stop-color="#eeffff"/><stop offset="0.6453" stop-color="#faffff"/><stop offset="0.6498" stop-color="#fcffff"/><stop offset="0.6543" stop-color="#fbffff"/><stop offset="0.6610" stop-color="#f9ffff"/><stop offset="0.6678" stop-color="#edffff"/><stop offset="0.6700" stop-color="#fbffff"/><stop offset="0.6745" stop-color="#fbffff"/><stop offset="0.6813" stop-color="#f9ffff"/><stop offset="0.6836" stop-color="#f8ffff"/><stop offset="0.6881" stop-color="#f8ffff"/><stop offset="0.6903" stop-color="#f8ffff"/><stop offset="0.6948" stop-color="#ecffff"/><stop offset="0.7016" stop-color="#fdffff"/><stop offset="0.7083" stop-color="#ecffff"/><stop offset="0.7106" stop-color="#feffff"/><stop offset="0.7151" stop-color="#f8ffff"/><stop offset="0.7196" stop-color="#f2ffff"/><stop offset="0.7264" stop-color="#f8ffff"/><stop offset="0.7286" stop-color="#ebffff"/><stop offset="0.7309" stop-color="#feffff"/><stop offset="0.7354" stop-color="#f7ffff"/><stop offset="0.7421" stop-color="#f7ffff"/><stop offset="0.7444" stop-color="#f3ffff"/><stop offset="0.7489" stop-color="#f9ffff"/><stop offset="0.7534" stop-color="#f6ffff"/><stop offset="0.7601" stop-color="#faffff"/><stop offset="0.7646" stop-color="#f6ffff"/><stop offset="0.7714" stop-color="#fcffff"/><stop offset="0.7759" stop-color="#f2ffff"/><stop offset="0.7804" stop-color="#fdffff"/><stop offset="0.7849" stop-color="#f9ffff"/><stop offset="0.7872" stop-color="#f1ffff"/><stop offset="0.7917" stop-color="#f8ffff"/><stop offset="0.7984" stop-color="#feffff"/><stop offset="0.8007" stop-color="#faffff"/><stop offset="0.8052" stop-color="#f2ffff"/><stop offset="0.8074" stop-color="#fdffff"/><stop offset="0.8119" stop-color="#fdffff"/><stop offset="0.8164" stop-color="#fcffff"/><stop offset="0.8209" stop-color="#f7ffff"/><stop offset="0.8255" stop-color="#f5ffff"/><stop offset="0.8277" stop-color="#faffff"/><stop offset="0.8345" stop-color="#faffff"/><stop offset="0.8390" stop-color="#feffff"/><stop offset="0.8412" stop-color="#feffff"/><stop offset="0.8457" stop-color="#f8ffff"/><stop offset="0.8502" stop-color="#fdffff"/><stop offset="0.8525" stop-color="#faffff"/><stop offset="0.8592" stop-color="#f7ffff"/><stop offset="0.8637" stop-color="#f7ffff"/><stop offset="0.8682" stop-color="#feffff"/><stop offset="0.8727" stop-color="#f2ffff"/><stop offset="0.8773" stop-color="#f9ffff"/><stop offset="0.8818" stop-color="#f6ffff"/><stop offset="0.8863" stop-color="#fbffff"/><stop offset="0.8908" stop-color="#faffff"/><stop offset="0.8953" stop-color="#fbffff"/><stop offset="0.8998" stop-color="#eaffff"/><stop offset="0.9065" stop-color="#f5ffff"/><stop offset="0.9110" stop-color="#fbffff"/><stop offset="0.9178" stop-color="#fcffff"/><stop offset="0.9200" stop-color="#faffff"/><stop offset="0.9223" stop-color="#fdffff"/><stop offset="0.9268" stop-color="#faffff"/><stop offset="0.9336" stop-color="#f8ffff"/><stop offset="0.9381" stop-color="#f4ffff"/><stop offset="0.9426" stop-color="#f8ffff"/><stop offset="0.9448" stop-color="#f8ffff"/><stop offset="0.9471" stop-color="#fdffff"/><stop offset="0.9538" stop-color="#faffff"/><stop offset="0.9583" stop-color="#f2ffff"/><stop offset="0.9606" stop-color="#faffff"/><stop offset="0.9628" stop-color="#edffff"/><stop offset="0.9696" stop-color="#faffff"/><stop offset="0.9718" stop-color="#fbffff"/><stop offset="0.9741" stop-color="#f6ffff"/><stop offset="0.9764" stop-color="#fdffff"/><stop offset="0.9786" stop-color="#f2ffff"/><stop offset="0.9831" stop-color="#fdffff"/><stop offset="0.9854" stop-color="#fcffff"/><stop offset="0.9899" stop-color="#eeffff"/><stop offset="0.9966" stop-color="#f2ffff"/></linearGradient>
<linearGradient id="re3" x1="0" y1="0" x2="1" y2="0"><stop offset="0" stop-color="#1c0000"/><stop offset="1" stop-color="#000000"/></linearGradient>
</defs>
<rect x="0" y="0" width="1050" height="800" fill="#fff"/>
<g id="panel0">
<g filter="url(#jet0)" shape-rendering="crispEdges">
<rect x="131" y="80" width="178" height="444" fill="#179900"/>
<rect x="131" y="80" width="112" height="27" fill="#149e00"/>
<rect x="131" y="107" width="112" height="3" fill="#252400"/>
<rect x="131" y="110" width="112" height="2" fill="#1d9e00"/>
<rect x="131" y="112" width="112" height="1" fill="#503800"/>
<rect x="131" y="113" width="112" height="9" fill="#662400"/>
<rect x="131" y="122" width="112" height="223" fill="#149e00"/>
<rect x="131" y="345" width="112" height="12" fill="#5c2400"/>
<rect x="131" y="357" width="112" height="18" fill="#169e00"/>
<rect x="131" y="375" width="112" height="14" fill="#562400"/>
<rect x="131" y="389" width="112" height="5" fill="#453800"/>
<rect x="131" y="394" width="112" height="23" fill="#5c2400"/>
<rect x="131" y="417" width="112" height="3" fill="#255700"/>
<rect x="131" y="420" width="112" height="11" fill="#582400"/>
<rect x="131" y="431" width="112" height="10" fill="#5a2400"/>
<rect x="131" y="441" width="112" height="11" fill="#5c2400"/>
<rect x="131" y="452" width="112" height="3" fill="#295700"/>
<rect x="131" y="455" width="112" height="9" fill="#5e2400"/>
<rect x="131" y="464" width="112" height="22" fill="#622400"/>
<rect x="131" y="486" width="112" height="3" fill="#255700"/>
<rect x="131" y="489" width="112" height="9" fill="#622400"/>
<rect x="131" y="498" width="112" height="11" fill="#642400"/>
<rect x="131" y="509" width="112" height="10" fill="#662400"/>
<rect x="131" y="519" width="112" height="5" fill="#295700"/>
<rect x="297" y="80" width="12" height="27" fill="#149e00"/>
<rect x="297" y="107" width="12" height="3" fill="#252400"/>
<rect x="297" y="110" width="12" height="2" fill="#189e00"/>
<rect x="297" y="112" width="12" height="1" fill="#493800"/>
<rect x="297" y="113" width="12" height="9" fill="#5e2400"/>
<rect x="297" y="122" width="12" height="223" fill="#149e00"/>
<rect x="297" y="345" width="12" height="12" fill="#582400"/>
<rect x="297" y="357" width="12" height="18" fill="#169e00"/>
<rect x="297" y="375" width="12" height="14" fill="#4e2400"/>
<rect x="297" y="389" width="12" height="5" fill="#3f3800"/>
<rect x="297" y="394" width="12" height="23" fill="#522400"/>
<rect x="297" y="417" width="12" height="3" fill="#255700"/>
<rect x="297" y="420" width="12" height="11" fill="#502400"/>
<rect x="297" y="431" width="12" height="3" fill="#562400"/>
<rect x="297" y="434" width="12" height="7" fill="#5a2400"/>
<rect x="297" y="441" width="12" height="4" fill="#662400"/>
<rect x="297" y="445" width="12" height="7" fill="#682400"/>
<rect x="297" y="452" width="12" height="3" fill="#295700"/>
<rect x="297" y="455" width="12" height="2" fill="#6a2400"/>
<rect x="297" y="457" width="12" height="7" fill="#6c2400"/>
<rect x="297" y="464" width="12" height="2" fill="#6e2400"/>
<rect x="297" y="466" width="12" height="8" fill="#762400"/>
<rect x="297" y="474" width="12" height="4" fill="#6e2400"/>
<rect x="297" y="478" width="12" height="8" fill="#5c2400"/>
<rect x="297" y="486" width="12" height="3" fill="#255700"/>
<rect x="297" y="489" width="12" height="9" fill="#582400"/>
<rect x="297" y="498" width="12" height="18" fill="#542400"/>
<rect x="297" y="516" width="12" height="3" fill="#562400"/>
<rect x="297" y="519" width="12" height="5" fill="#295700"/>
<rect x="243" y="80" width="54" height="27" fill="#2d7300"/>
<rect x="243" y="107" width="54" height="3" fill="#252400"/>
<rect x="243" y="110" width="54" height="2" fill="#2a7300"/>
<rect x="243" y="112" width="54" height="1" fill="#347300"/>
<rect x="243" y="113" width="54" height="9" fill="#327300"/>
<rect x="243" y="122" width="54" height="30" fill="#2c7300"/>
<rect x="243" y="152" width="54" height="16" fill="#2e7300"/>
<rect x="243" y="168" width="54" height="15" fill="#2f7300"/>
<rect x="243" y="183" width="54" height="9" fill="#307300"/>
<rect x="243" y="192" width="54" height="1" fill="#387300"/>
<rect x="243" y="193" width="54" height="10" fill="#2d7300"/>
<rect x="243" y="203" width="54" height="9" fill="#307300"/>
<rect x="243" y="212" width="54" height="12" fill="#2f7300"/>
<rect x="243" y="224" width="54" height="18" fill="#307300"/>
<rect x="243" y="242" width="54" height="1" fill="#357300"/>
<rect x="243" y="243" width="54" height="30" fill="#317300"/>
<rect x="243" y="273" width="54" height="17" fill="#327300"/>
<rect x="243" y="290" width="54" height="6" fill="#337300"/>
<rect x="243" y="296" width="54" height="3" fill="#347300"/>
<rect x="243" y="299" width="54" height="3" fill="#337300"/>
<rect x="243" y="302" width="54" height="21" fill="#317300"/>
<rect x="243" y="323" width="54" height="22" fill="#327300"/>
<rect x="243" y="345" width="54" height="12" fill="#4b5700"/>
<rect x="243" y="357" width="54" height="4" fill="#573800"/>
<rect x="243" y="361" width="54" height="3" fill="#4c3800"/>
<rect x="243" y="364" width="54" height="4" fill="#4e3800"/>
<rect x="243" y="368" width="54" height="3" fill="#533800"/>
<rect x="243" y="371" width="54" height="4" fill="#453800"/>
<rect x="243" y="375" width="54" height="6" fill="#523800"/>
<rect x="243" y="381" width="54" height="4" fill="#455700"/>
<rect x="243" y="385" width="54" height="4" fill="#523800"/>
<rect x="243" y="389" width="54" height="5" fill="#3d5700"/>
<rect x="243" y="394" width="54" height="15" fill="#583800"/>
<rect x="243" y="409" width="54" height="3" fill="#5b3800"/>
<rect x="243" y="412" width="54" height="5" fill="#603800"/>
<rect x="243" y="417" width="54" height="3" fill="#5f3800"/>
<rect x="243" y="420" width="54" height="3" fill="#543800"/>
<rect x="243" y="423" width="54" height="4" fill="#563800"/>
<rect x="243" y="427" width="54" height="4" fill="#543800"/>
<rect x="243" y="431" width="54" height="3" fill="#573800"/>
<rect x="243" y="434" width="54" height="7" fill="#5e3800"/>
<rect x="243" y="441" width="54" height="4" fill="#613800"/>
<rect x="243" y="445" width="54" height="4" fill="#643800"/>
<rect x="243" y="449" width="54" height="3" fill="#583800"/>
<rect x="243" y="452" width="54" height="3" fill="#593800"/>
<rect x="243" y="455" width="54" height="2" fill="#623800"/>
<rect x="243" y="457" width="54" height="5" fill="#6c3800"/>
<rect x="243" y="462" width="54" height="2" fill="#633800"/>
<rect x="243" y="464" width="54" height="2" fill="#5e3800"/>
<rect x="243" y="466" width="54" height="4" fill="#743800"/>
<rect x="243" y="470" width="54" height="4" fill="#6c3800"/>
<rect x="243" y="474" width="54" height="12" fill="#5e3800"/>
<rect x="243" y="486" width="54" height="3" fill="#533800"/>
<rect x="243" y="489" width="54" height="3" fill="#5e3800"/>
<rect x="243" y="492" width="54" height="6" fill="#633800"/>
<rect x="243" y="498" width="54" height="11" fill="#603800"/>
<rect x="243" y="509" width="54" height="10" fill="#623800"/>
<rect x="243" y="519" width="54" height="5" fill="#423800"/>
<rect x="243" y="80" width="12" height="444" fill="url(#b00)"/>
<rect x="257" y="80" width="12" height="444" fill="url(#b01)"/>
<rect x="271" y="80" width="12" height="444" fill="url(#b02)"/>
<rect x="285" y="80" width="12" height="444" fill="url(#b03)"/>
<rect class="s" x="131" y="394" width="112" height="125" fill="url(#ls0)"/>
<rect class="m" x="131" y="376" width="112" height="143" fill="url(#lm0)"/>
<rect class="m" x="225" y="394" width="18" height="22" fill="url(#ka0m)"/>
<rect class="s" x="225" y="394" width="18" height="22" fill="url(#ka0s)"/>
<rect class="m" x="225" y="420" width="18" height="18" fill="url(#ka0m)"/>
<rect class="s" x="225" y="420" width="18" height="18" fill="url(#ka0s)"/>
<rect class="m" x="225" y="479" width="18" height="7" fill="url(#ka0m)"/>
<rect class="s" x="225" y="479" width="18" height="7" fill="url(#ka0s)"/>
<rect class="m" x="225" y="489" width="18" height="9" fill="url(#ka0m)"/>
<rect class="s" x="225" y="489" width="18" height="9" fill="url(#ka0s)"/>
<rect class="m" x="225" y="500" width="18" height="19" fill="url(#ka0m)"/>
<rect class="s" x="225" y="500" width="18" height="19" fill="url(#ka0s)"/>
<rect class="s" x="225" y="441" width="18" height="10" fill="url(#wb0)"/>
<rect class="s" x="219" y="455" width="24" height="9" fill="url(#wc0)"/>
<rect class="s" x="219" y="465" width="24" height="13" fill="url(#wc0)"/>
<rect class="m" x="243" y="80" width="12" height="444" fill="url(#se0)"/>
<rect class="m" x="257" y="80" width="12" height="444" fill="url(#se0)"/>
<rect class="m" x="271" y="80" width="12" height="444" fill="url(#se0)"/>
<rect class="m" x="285" y="80" width="12" height="444" fill="url(#se0)"/>
<rect class="m" x="243" y="80" width="54" height="444" fill="url(#st0)"/>
<rect class="s" x="297" y="80" width="4" height="265" fill="url(#re0)"/>
<rect x="132" y="91" width="3" height="1" fill="#712600"/>
<rect x="135" y="91" width="2" height="1" fill="#a22600"/>
<rect x="137" y="91" width="8" height="1" fill="#752600"/>
<rect x="145" y="91" width="12" height="1" fill="#672600"/>
<rect x="157" y="91" width="4" height="1" fill="#552600"/>
<rect x="161" y="91" width="7" height="1" fill="#672600"/>
<rect x="168" y="91" width="2" height="1" fill="#d32600"/>
<rect x="170" y="91" width="11" height="1" fill="#692600"/>
<rect x="181" y="91" width="12" height="1" fill="#512600"/>
<rect x="193" y="91" width="4" height="1" fill="#612600"/>
<rect x="207" y="91" width="4" height="1" fill="#802600"/>
<rect x="211" y="91" width="2" height="1" fill="#612600"/>
<rect x="131" y="182" width="112" height="1" fill="#634000"/>
<rect x="177" y="182" width="1" height="1" fill="#b81a00"/>
<rect x="194" y="182" width="1" height="1" fill="#a71a00"/>
<rect x="205" y="182" width="1" height="1" fill="#af1a00"/>
<rect x="206" y="182" width="1" height="1" fill="#e01a00"/>
<rect x="231" y="182" width="1" height="1" fill="#a31a00"/>
</g>
<path d="M131 94h178v1h-178zM131 97h178v1h-178zM131 113h178v6h-178zM131 139h178v1h-178zM131 145h178v1h-178zM131 147h178v1h-178zM131 152h178v1h-178zM131 162h178v1h-178zM131 168h178v1h-178zM131 202h178v2h-178zM131 212h178v1h-178zM131 218h178v1h-178zM131 224h178v1h-178zM131 237h178v1h-178zM131 243h178v1h-178zM131 245h178v2h-178zM131 249h178v1h-178zM131 252h178v1h-178zM131 260h178v1h-178zM131 263h178v1h-178zM131 266h178v1h-178zM131 268h178v2h-178zM131 286h178v2h-178zM131 301h178v1h-178zM131 304h178v1h-178zM131 310h178v1h-178zM131 313h178v1h-178zM131 323h178v1h-178zM131 333h178v1h-178zM131 342h178v1h-178zM131 345h178v6h-178zM131 364h178v1h-178zM131 379h178v2h-178zM131 384h178v1h-178zM131 405h178v1h-178zM131 429h178v2h-178zM131 445h178v1h-178zM131 453h178v1h-178zM131 462h178v1h-178zM131 478h178v1h-178zM131 495h178v1h-178zM131 498h178v2h-178zM131 516h178v2h-178z" fill="#fff" shape-rendering="crispEdges"/>
<path d="M131 107h178v3h-178zM131 111h178v1h-178zM131 122h178v1h-178zM131 183h178v1h-178zM131 193h178v1h-178zM131 256h178v2h-178zM131 272h178v2h-178zM131 285h178v1h-178zM131 290h178v1h-178zM131 340h178v1h-178zM131 343h178v1h-178zM131 357h178v1h-178zM131 375h178v2h-178zM131 389h178v1h-178zM131 394h178v1h-178zM131 416h178v1h-178zM131 419h178v1h-178zM131 438h178v3h-178zM131 451h178v1h-178zM131 454h178v1h-178zM131 464h178v1h-178zM131 486h178v1h-178zM131 488h178v1h-178zM131 519h178v1h-178zM131 523h178v1h-178z" fill="#000" shape-rendering="crispEdges"/>
<rect x="131.5" y="80.5" width="177.0" height="640.0" fill="none" stroke="#000" stroke-width="1"/>
<path d="M131.5 720.5v-4M131.5 80.5v4M172.5 720.5v-4M172.5 80.5v4M214.5 720.5v-4M214.5 80.5v4M255.5 720.5v-4M255.5 80.5v4M296.5 720.5v-4M296.5 80.5v4M131.5 587.5h4M308.5 587.5h-4M131.5 453.5h4M308.5 453.5h-4M131.5 320.5h4M308.5 320.5h-4M131.5 187.5h4M308.5 187.5h-4" stroke="#000" stroke-width="1" fill="none" shape-rendering="crispEdges"/>
</g>
<g id="panel1">
<g filter="url(#jet1)" shape-rendering="crispEdges">
<rect x="344" y="80" width="177" height="444" fill="#179900"/>
<rect x="344" y="80" width="112" height="27" fill="#149e00"/>
<rect x="344" y="107" width="112" height="3" fill="#252400"/>
<rect x="344" y="110" width="112" height="2" fill="#1d9e00"/>
<rect x="344" y="112" width="112" height="1" fill="#503800"/>
<rect x="344" y="113" width="112" height="9" fill="#622400"/>
<rect x="344" y="122" width="112" height="223" fill="#149e00"/>
<rect x="344" y="345" width="112" height="12" fill="#5c2400"/>
<rect x="344" y="357" width="112" height="18" fill="#169e00"/>
<rect x="344" y="375" width="112" height="14" fill="#562400"/>
<rect x="344" y="389" width="112" height="5" fill="#493800"/>
<rect x="344" y="394" width="112" height="23" fill="#5c2400"/>
<rect x="344" y="417" width="112" height="3" fill="#255700"/>
<rect x="344" y="420" width="112" height="11" fill="#582400"/>
<rect x="344" y="431" width="112" height="2" fill="#5a2400"/>
<rect x="344" y="433" width="112" height="19" fill="#5e2400"/>
<rect x="344" y="452" width="112" height="3" fill="#295700"/>
<rect x="344" y="455" width="112" height="9" fill="#5e2400"/>
<rect x="344" y="464" width="112" height="21" fill="#622400"/>
<rect x="344" y="485" width="112" height="4" fill="#255700"/>
<rect x="344" y="489" width="112" height="9" fill="#622400"/>
<rect x="344" y="498" width="112" height="13" fill="#642400"/>
<rect x="344" y="511" width="112" height="8" fill="#662400"/>
<rect x="344" y="519" width="112" height="5" fill="#295700"/>
<rect x="509" y="80" width="12" height="27" fill="#149e00"/>
<rect x="509" y="107" width="12" height="3" fill="#252400"/>
<rect x="509" y="110" width="12" height="2" fill="#189e00"/>
<rect x="509" y="112" width="12" height="1" fill="#493800"/>
<rect x="509" y="113" width="12" height="9" fill="#5e2400"/>
<rect x="509" y="122" width="12" height="223" fill="#149e00"/>
<rect x="509" y="345" width="12" height="12" fill="#582400"/>
<rect x="509" y="357" width="12" height="18" fill="#169e00"/>
<rect x="509" y="375" width="12" height="14" fill="#4e2400"/>
<rect x="509" y="389" width="12" height="5" fill="#413800"/>
<rect x="509" y="394" width="12" height="23" fill="#522400"/>
<rect x="509" y="417" width="12" height="3" fill="#255700"/>
<rect x="509" y="420" width="12" height="11" fill="#502400"/>
<rect x="509" y="431" width="12" height="2" fill="#522400"/>
<rect x="509" y="433" width="12" height="8" fill="#5a2400"/>
<rect x="509" y="441" width="12" height="4" fill="#6a2400"/>
<rect x="509" y="445" width="12" height="7" fill="#6e2400"/>
<rect x="509" y="452" width="12" height="3" fill="#295700"/>
<rect x="509" y="455" width="12" height="9" fill="#682400"/>
<rect x="509" y="464" width="12" height="14" fill="#5e2400"/>
<rect x="509" y="478" width="12" height="7" fill="#582400"/>
<rect x="509" y="485" width="12" height="4" fill="#255700"/>
<rect x="509" y="489" width="12" height="9" fill="#582400"/>
<rect x="509" y="498" width="12" height="21" fill="#562400"/>
<rect x="509" y="519" width="12" height="5" fill="#295700"/>
<rect x="456" y="80" width="53" height="27" fill="#2d7300"/>
<rect x="456" y="107" width="53" height="3" fill="#252400"/>
<rect x="456" y="110" width="53" height="2" fill="#297300"/>
<rect x="456" y="112" width="53" height="1" fill="#377300"/>
<rect x="456" y="113" width="53" height="9" fill="#357300"/>
<rect x="456" y="122" width="53" height="23" fill="#2d7300"/>
<rect x="456" y="145" width="53" height="38" fill="#317300"/>
<rect x="456" y="183" width="53" height="9" fill="#327300"/>
<rect x="456" y="192" width="53" height="1" fill="#3a7300"/>
<rect x="456" y="193" width="53" height="10" fill="#2f7300"/>
<rect x="456" y="203" width="53" height="21" fill="#317300"/>
<rect x="456" y="224" width="53" height="13" fill="#307300"/>
<rect x="456" y="237" width="53" height="6" fill="#317300"/>
<rect x="456" y="243" width="53" height="14" fill="#327300"/>
<rect x="456" y="257" width="53" height="16" fill="#347300"/>
<rect x="456" y="273" width="53" height="17" fill="#337300"/>
<rect x="456" y="290" width="53" height="6" fill="#347300"/>
<rect x="456" y="296" width="53" height="6" fill="#327300"/>
<rect x="456" y="302" width="53" height="43" fill="#337300"/>
<rect x="456" y="345" width="53" height="12" fill="#4b5700"/>
<rect x="456" y="357" width="53" height="4" fill="#503800"/>
<rect x="456" y="361" width="53" height="3" fill="#523800"/>
<rect x="456" y="364" width="53" height="5" fill="#513800"/>
<rect x="456" y="369" width="53" height="3" fill="#4c3800"/>
<rect x="456" y="372" width="53" height="3" fill="#4a3800"/>
<rect x="456" y="375" width="53" height="10" fill="#523800"/>
<rect x="456" y="385" width="53" height="4" fill="#455700"/>
<rect x="456" y="389" width="53" height="5" fill="#415700"/>
<rect x="456" y="394" width="53" height="11" fill="#4b5700"/>
<rect x="456" y="405" width="53" height="12" fill="#583800"/>
<rect x="456" y="417" width="53" height="3" fill="#4f3800"/>
<rect x="456" y="420" width="53" height="4" fill="#543800"/>
<rect x="456" y="424" width="53" height="3" fill="#603800"/>
<rect x="456" y="427" width="53" height="4" fill="#663800"/>
<rect x="456" y="431" width="53" height="2" fill="#5b3800"/>
<rect x="456" y="433" width="53" height="8" fill="#733800"/>
<rect x="456" y="441" width="53" height="4" fill="#6b3800"/>
<rect x="456" y="445" width="53" height="7" fill="#753800"/>
<rect x="456" y="452" width="53" height="3" fill="#5e3800"/>
<rect x="456" y="455" width="53" height="5" fill="#773800"/>
<rect x="456" y="460" width="53" height="4" fill="#5b3800"/>
<rect x="456" y="464" width="53" height="4" fill="#663800"/>
<rect x="456" y="468" width="53" height="17" fill="#5e3800"/>
<rect x="456" y="485" width="53" height="4" fill="#4a3800"/>
<rect x="456" y="489" width="53" height="9" fill="#5e3800"/>
<rect x="456" y="498" width="53" height="13" fill="#603800"/>
<rect x="456" y="511" width="53" height="8" fill="#623800"/>
<rect x="456" y="519" width="53" height="5" fill="#453800"/>
<rect x="456" y="80" width="11" height="444" fill="url(#b10)"/>
<rect x="470" y="80" width="11" height="444" fill="url(#b11)"/>
<rect x="483" y="80" width="12" height="444" fill="url(#b12)"/>
<rect x="497" y="80" width="12" height="444" fill="url(#b13)"/>
<rect class="s" x="344" y="394" width="112" height="125" fill="url(#ls1)"/>
<rect class="m" x="344" y="376" width="112" height="143" fill="url(#lm1)"/>
<rect class="m" x="440" y="394" width="16" height="22" fill="url(#ka1m)"/>
<rect class="s" x="440" y="394" width="16" height="22" fill="url(#ka1s)"/>
<rect class="m" x="440" y="479" width="16" height="7" fill="url(#ka1m)"/>
<rect class="s" x="440" y="479" width="16" height="7" fill="url(#ka1s)"/>
<rect class="m" x="440" y="489" width="16" height="9" fill="url(#ka1m)"/>
<rect class="s" x="440" y="489" width="16" height="9" fill="url(#ka1s)"/>
<rect class="m" x="440" y="500" width="16" height="19" fill="url(#ka1m)"/>
<rect class="s" x="440" y="500" width="16" height="19" fill="url(#ka1s)"/>
<rect class="s" x="434" y="420" width="22" height="11" fill="url(#wb1)"/>
<rect class="s" x="428" y="431" width="28" height="7" fill="url(#wc1)"/>
<rect class="s" x="428" y="441" width="28" height="10" fill="url(#wc1)"/>
<rect class="s" x="428" y="455" width="28" height="9" fill="url(#wc1)"/>
<rect class="s" x="432" y="465" width="24" height="13" fill="url(#wd1)"/>
<rect class="m" x="456" y="80" width="11" height="444" fill="url(#se1)"/>
<rect class="m" x="470" y="80" width="11" height="444" fill="url(#se1)"/>
<rect class="m" x="483" y="80" width="12" height="444" fill="url(#se1)"/>
<rect class="m" x="497" y="80" width="12" height="444" fill="url(#se1)"/>
<rect class="m" x="456" y="80" width="53" height="444" fill="url(#st1)"/>
<rect class="s" x="509" y="80" width="4" height="265" fill="url(#re1)"/>
<rect x="345" y="91" width="3" height="1" fill="#712600"/>
<rect x="348" y="91" width="2" height="1" fill="#a22600"/>
<rect x="350" y="91" width="8" height="1" fill="#752600"/>
<rect x="358" y="91" width="12" height="1" fill="#672600"/>
<rect x="370" y="91" width="4" height="1" fill="#552600"/>
<rect x="374" y="91" width="7" height="1" fill="#672600"/>
<rect x="381" y="91" width="2" height="1" fill="#d32600"/>
<rect x="383" y="91" width="11" height="1" fill="#692600"/>
<rect x="394" y="91" width="12" height="1" fill="#512600"/>
<rect x="406" y="91" width="4" height="1" fill="#612600"/>
<rect x="420" y="91" width="4" height="1" fill="#802600"/>
<rect x="424" y="91" width="2" height="1" fill="#612600"/>
<rect x="436" y="182" width="1" height="1" fill="#a71a00"/>
<rect x="437" y="182" width="1" height="1" fill="#dc1a00"/>
<rect x="438" y="182" width="1" height="1" fill="#8f1a00"/>
</g>
<path d="M344 94h177v1h-177zM344 97h177v1h-177zM344 113h177v6h-177zM344 139h177v1h-177zM344 145h177v1h-177zM344 147h177v1h-177zM344 152h177v1h-177zM344 162h177v1h-177zM344 168h177v1h-177zM344 202h177v2h-177zM344 212h177v1h-177zM344 218h177v1h-177zM344 224h177v1h-177zM344 237h177v1h-177zM344 243h177v1h-177zM344 245h177v2h-177zM344 249h177v1h-177zM344 252h177v1h-177zM344 260h177v1h-177zM344 263h177v1h-177zM344 266h177v1h-177zM344 268h177v2h-177zM344 286h177v2h-177zM344 301h177v1h-177zM344 304h177v1h-177zM344 310h177v1h-177zM344 313h177v1h-177zM344 323h177v1h-177zM344 333h177v1h-177zM344 342h177v1h-177zM344 345h177v6h-177zM344 364h177v1h-177zM344 379h177v2h-177zM344 384h177v1h-177zM344 405h177v1h-177zM344 429h177v2h-177zM344 445h177v1h-177zM344 453h177v1h-177zM344 462h177v1h-177zM344 478h177v1h-177zM344 495h177v1h-177zM344 498h177v2h-177zM344 516h177v2h-177z" fill="#fff" shape-rendering="crispEdges"/>
<path d="M344 107h177v3h-177zM344 111h177v1h-177zM344 122h177v1h-177zM344 183h177v1h-177zM344 193h177v1h-177zM344 256h177v2h-177zM344 272h177v2h-177zM344 285h177v1h-177zM344 290h177v1h-177zM344 340h177v1h-177zM344 343h177v1h-177zM344 357h177v1h-177zM344 375h177v2h-177zM344 389h177v1h-177zM344 394h177v1h-177zM344 416h177v1h-177zM344 419h177v1h-177zM344 438h177v3h-177zM344 451h177v1h-177zM344 454h177v1h-177zM344 464h177v1h-177zM344 486h177v1h-177zM344 488h177v1h-177zM344 519h177v1h-177zM344 523h177v1h-177z" fill="#000" shape-rendering="crispEdges"/>
<rect x="344.5" y="80.5" width="176.0" height="640.0" fill="none" stroke="#000" stroke-width="1"/>
<path d="M344.5 720.5v-4M344.5 80.5v4M385.5 720.5v-4M385.5 80.5v4M427.5 720.5v-4M427.5 80.5v4M468.5 720.5v-4M468.5 80.5v4M509.5 720.5v-4M509.5 80.5v4M344.5 587.5h4M520.5 587.5h-4M344.5 453.5h4M520.5 453.5h-4M344.5 320.5h4M520.5 320.5h-4M344.5 187.5h4M520.5 187.5h-4" stroke="#000" stroke-width="1" fill="none" shape-rendering="crispEdges"/>
</g>
<g id="panel2">
<g filter="url(#jet2)" shape-rendering="crispEdges">
<rect x="556" y="80" width="178" height="444" fill="#179900"/>
<rect x="556" y="80" width="112" height="27" fill="#149e00"/>
<rect x="556" y="107" width="112" height="3" fill="#252400"/>
<rect x="556" y="110" width="112" height="247" fill="#149e00"/>
<rect x="556" y="357" width="112" height="18" fill="#259e00"/>
<rect x="556" y="375" width="112" height="42" fill="#149e00"/>
<rect x="556" y="417" width="112" height="3" fill="#0e9e00"/>
<rect x="556" y="420" width="112" height="32" fill="#149e00"/>
<rect x="556" y="452" width="112" height="3" fill="#0e9e00"/>
<rect x="556" y="455" width="112" height="31" fill="#149e00"/>
<rect x="556" y="486" width="112" height="3" fill="#0e9e00"/>
<rect x="556" y="489" width="112" height="30" fill="#149e00"/>
<rect x="556" y="519" width="112" height="5" fill="#129e00"/>
<rect x="722" y="80" width="12" height="27" fill="#149e00"/>
<rect x="722" y="107" width="12" height="3" fill="#252400"/>
<rect x="722" y="110" width="12" height="247" fill="#149e00"/>
<rect x="722" y="357" width="12" height="18" fill="#219e00"/>
<rect x="722" y="375" width="12" height="42" fill="#149e00"/>
<rect x="722" y="417" width="12" height="3" fill="#0e9e00"/>
<rect x="722" y="420" width="12" height="3" fill="#219e00"/>
<rect x="722" y="423" width="12" height="4" fill="#259e00"/>
<rect x="722" y="427" width="12" height="4" fill="#279e00"/>
<rect x="722" y="431" width="12" height="3" fill="#2b9e00"/>
<rect x="722" y="434" width="12" height="7" fill="#319e00"/>
<rect x="722" y="441" width="12" height="11" fill="#399e00"/>
<rect x="722" y="452" width="12" height="3" fill="#0e9e00"/>
<rect x="722" y="455" width="12" height="9" fill="#359e00"/>
<rect x="722" y="464" width="12" height="8" fill="#3d9e00"/>
<rect x="722" y="472" width="12" height="3" fill="#2d9e00"/>
<rect x="722" y="475" width="12" height="3" fill="#299e00"/>
<rect x="722" y="478" width="12" height="8" fill="#169e00"/>
<rect x="722" y="486" width="12" height="3" fill="#0e9e00"/>
<rect x="722" y="489" width="12" height="6" fill="#279e00"/>
<rect x="722" y="495" width="12" height="3" fill="#219e00"/>
<rect x="722" y="498" width="12" height="21" fill="#149e00"/>
<rect x="722" y="519" width="12" height="5" fill="#129e00"/>
<rect x="668" y="80" width="54" height="27" fill="#2d7300"/>
<rect x="668" y="107" width="54" height="3" fill="#252400"/>
<rect x="668" y="110" width="54" height="2" fill="#297300"/>
<rect x="668" y="112" width="54" height="1" fill="#357300"/>
<rect x="668" y="113" width="54" height="9" fill="#337300"/>
<rect x="668" y="122" width="54" height="23" fill="#2b7300"/>
<rect x="668" y="145" width="54" height="23" fill="#2e7300"/>
<rect x="668" y="168" width="54" height="15" fill="#2f7300"/>
<rect x="668" y="183" width="54" height="9" fill="#307300"/>
<rect x="668" y="192" width="54" height="1" fill="#397300"/>
<rect x="668" y="193" width="54" height="10" fill="#2e7300"/>
<rect x="668" y="203" width="54" height="9" fill="#2f7300"/>
<rect x="668" y="212" width="54" height="31" fill="#307300"/>
<rect x="668" y="243" width="54" height="30" fill="#317300"/>
<rect x="668" y="273" width="54" height="17" fill="#327300"/>
<rect x="668" y="290" width="54" height="12" fill="#337300"/>
<rect x="668" y="302" width="54" height="11" fill="#317300"/>
<rect x="668" y="313" width="54" height="32" fill="#327300"/>
<rect x="668" y="345" width="54" height="12" fill="#355700"/>
<rect x="668" y="357" width="54" height="18" fill="#523800"/>
<rect x="668" y="375" width="54" height="6" fill="#413800"/>
<rect x="668" y="381" width="54" height="4" fill="#355700"/>
<rect x="668" y="385" width="54" height="4" fill="#413800"/>
<rect x="668" y="389" width="54" height="5" fill="#355700"/>
<rect x="668" y="394" width="54" height="11" fill="#413800"/>
<rect x="668" y="405" width="54" height="5" fill="#4a3800"/>
<rect x="668" y="410" width="54" height="7" fill="#573800"/>
<rect x="668" y="417" width="54" height="3" fill="#5a3800"/>
<rect x="668" y="420" width="54" height="3" fill="#4b3800"/>
<rect x="668" y="423" width="54" height="4" fill="#5a3800"/>
<rect x="668" y="427" width="54" height="4" fill="#543800"/>
<rect x="668" y="431" width="54" height="3" fill="#573800"/>
<rect x="668" y="434" width="54" height="7" fill="#633800"/>
<rect x="668" y="441" width="54" height="4" fill="#623800"/>
<rect x="668" y="445" width="54" height="7" fill="#683800"/>
<rect x="668" y="452" width="54" height="3" fill="#5f3800"/>
<rect x="668" y="455" width="54" height="4" fill="#6d3800"/>
<rect x="668" y="459" width="54" height="5" fill="#603800"/>
<rect x="668" y="464" width="54" height="4" fill="#623800"/>
<rect x="668" y="468" width="54" height="4" fill="#693800"/>
<rect x="668" y="472" width="54" height="3" fill="#5b3800"/>
<rect x="668" y="475" width="54" height="3" fill="#583800"/>
<rect x="668" y="478" width="54" height="8" fill="#4f3800"/>
<rect x="668" y="486" width="54" height="3" fill="#4c3800"/>
<rect x="668" y="489" width="54" height="2" fill="#523800"/>
<rect x="668" y="491" width="54" height="4" fill="#5c3800"/>
<rect x="668" y="495" width="54" height="3" fill="#543800"/>
<rect x="668" y="498" width="54" height="6" fill="#443800"/>
<rect x="668" y="504" width="54" height="6" fill="#4b3800"/>
<rect x="668" y="510" width="54" height="6" fill="#4a3800"/>
<rect x="668" y="516" width="54" height="3" fill="#413800"/>
<rect x="668" y="519" width="54" height="5" fill="#433800"/>
<rect x="668" y="80" width="12" height="444" fill="url(#b20)"/>
<rect x="682" y="80" width="12" height="444" fill="url(#b21)"/>
<rect x="696" y="80" width="12" height="444" fill="url(#b22)"/>
<rect x="710" y="80" width="12" height="444" fill="url(#b23)"/>
<rect x="652" y="394" width="16" height="22" fill="url(#wa2)"/>
<rect x="652" y="489" width="16" height="9" fill="url(#wa2)"/>
<rect x="648" y="420" width="20" height="11" fill="url(#wb2)"/>
<rect x="648" y="472" width="20" height="6" fill="url(#wb2)"/>
<rect x="644" y="431" width="24" height="7" fill="url(#wc2)"/>
<rect x="640" y="441" width="28" height="10" fill="url(#wd2)"/>
<rect x="640" y="455" width="28" height="9" fill="url(#wd2)"/>
<rect x="640" y="465" width="28" height="7" fill="url(#wd2)"/>
<rect class="m" x="668" y="80" width="12" height="444" fill="url(#se2)"/>
<rect class="m" x="682" y="80" width="12" height="444" fill="url(#se2)"/>
<rect class="m" x="696" y="80" width="12" height="444" fill="url(#se2)"/>
<rect class="m" x="710" y="80" width="12" height="444" fill="url(#se2)"/>
<rect class="m" x="668" y="80" width="54" height="444" fill="url(#st2)"/>
<rect class="s" x="722" y="80" width="4" height="265" fill="url(#re2)"/>
<rect x="557" y="91" width="3" height="1" fill="#712600"/>
<rect x="560" y="91" width="2" height="1" fill="#a22600"/>
<rect x="562" y="91" width="8" height="1" fill="#752600"/>
<rect x="570" y="91" width="12" height="1" fill="#672600"/>
<rect x="582" y="91" width="4" height="1" fill="#552600"/>
<rect x="586" y="91" width="7" height="1" fill="#672600"/>
<rect x="593" y="91" width="2" height="1" fill="#d32600"/>
<rect x="595" y="91" width="11" height="1" fill="#692600"/>
<rect x="606" y="91" width="12" height="1" fill="#512600"/>
<rect x="618" y="91" width="4" height="1" fill="#612600"/>
<rect x="632" y="91" width="4" height="1" fill="#802600"/>
<rect x="636" y="91" width="2" height="1" fill="#612600"/>
<rect x="640" y="182" width="22" height="1" fill="#584c00"/>
<rect x="648" y="182" width="1" height="1" fill="#a71a00"/>
<rect x="649" y="182" width="1" height="1" fill="#e01a00"/>
<rect x="650" y="182" width="1" height="1" fill="#af1a00"/>
</g>
<path d="M556 94h178v1h-178zM556 97h178v1h-178zM556 113h178v6h-178zM556 139h178v1h-178zM556 145h178v1h-178zM556 147h178v1h-178zM556 152h178v1h-178zM556 162h178v1h-178zM556 168h178v1h-178zM556 202h178v2h-178zM556 212h178v1h-178zM556 218h178v1h-178zM556 224h178v1h-178zM556 237h178v1h-178zM556 243h178v1h-178zM556 245h178v2h-178zM556 249h178v1h-178zM556 252h178v1h-178zM556 260h178v1h-178zM556 263h178v1h-178zM556 266h178v1h-178zM556 268h178v2h-178zM556 286h178v2h-178zM556 301h178v1h-178zM556 304h178v1h-178zM556 310h178v1h-178zM556 313h178v1h-178zM556 323h178v1h-178zM556 333h178v1h-178zM556 342h178v1h-178zM556 345h178v6h-178zM556 364h178v1h-178zM556 379h178v2h-178zM556 384h178v1h-178zM556 405h178v1h-178zM556 429h178v2h-178zM556 445h178v1h-178zM556 453h178v1h-178zM556 462h178v1h-178zM556 478h178v1h-178zM556 495h178v1h-178zM556 498h178v2h-178zM556 516h178v2h-178z" fill="#fff" shape-rendering="crispEdges"/>
<path d="M556 107h178v3h-178zM556 111h178v1h-178zM556 122h178v1h-178zM556 183h178v1h-178zM556 193h178v1h-178zM556 256h178v2h-178zM556 272h178v2h-178zM556 285h178v1h-178zM556 290h178v1h-178zM556 340h178v1h-178zM556 343h178v1h-178zM556 357h178v1h-178zM556 375h178v2h-178zM556 389h178v1h-178zM556 394h178v1h-178zM556 416h178v1h-178zM556 419h178v1h-178zM556 438h178v3h-178zM556 451h178v1h-178zM556 454h178v1h-178zM556 464h178v1h-178zM556 486h178v1h-178zM556 488h178v1h-178zM556 519h178v1h-178zM556 523h178v1h-178z" fill="#000" shape-rendering="crispEdges"/>
<rect x="556.5" y="80.5" width="177.0" height="640.0" fill="none" stroke="#000" stroke-width="1"/>
<path d="M556.5 720.5v-4M556.5 80.5v4M597.5 720.5v-4M597.5 80.5v4M639.5 720.5v-4M639.5 80.5v4M680.5 720.5v-4M680.5 80.5v4M721.5 720.5v-4M721.5 80.5v4M556.5 587.5h4M733.5 587.5h-4M556.5 453.5h4M733.5 453.5h-4M556.5 320.5h4M733.5 320.5h-4M556.5 187.5h4M733.5 187.5h-4" stroke="#000" stroke-width="1" fill="none" shape-rendering="crispEdges"/>
</g>
<g id="panel3">
<g filter="url(#jet3)" shape-rendering="crispEdges">
<rect x="768" y="80" width="178" height="444" fill="#179900"/>
<rect x="768" y="80" width="112" height="27" fill="#149e00"/>
<rect x="768" y="107" width="112" height="3" fill="#252400"/>
<rect x="768" y="110" width="112" height="247" fill="#149e00"/>
<rect x="768" y="357" width="112" height="18" fill="#259e00"/>
<rect x="768" y="375" width="112" height="42" fill="#149e00"/>
<rect x="768" y="417" width="112" height="3" fill="#0e9e00"/>
<rect x="768" y="420" width="112" height="32" fill="#149e00"/>
<rect x="768" y="452" width="112" height="3" fill="#0e9e00"/>
<rect x="768" y="455" width="112" height="31" fill="#149e00"/>
<rect x="768" y="486" width="112" height="3" fill="#0e9e00"/>
<rect x="768" y="489" width="112" height="30" fill="#149e00"/>
<rect x="768" y="519" width="112" height="5" fill="#129e00"/>
<rect x="934" y="80" width="12" height="27" fill="#149e00"/>
<rect x="934" y="107" width="12" height="3" fill="#252400"/>
<rect x="934" y="110" width="12" height="247" fill="#149e00"/>
<rect x="934" y="357" width="12" height="18" fill="#219e00"/>
<rect x="934" y="375" width="12" height="42" fill="#149e00"/>
<rect x="934" y="417" width="12" height="3" fill="#0e9e00"/>
<rect x="934" y="420" width="12" height="3" fill="#219e00"/>
<rect x="934" y="423" width="12" height="4" fill="#259e00"/>
<rect x="934" y="427" width="12" height="4" fill="#279e00"/>
<rect x="934" y="431" width="12" height="3" fill="#2b9e00"/>
<rect x="934" y="434" width="12" height="7" fill="#319e00"/>
<rect x="934" y="441" width="12" height="11" fill="#399e00"/>
<rect x="934" y="452" width="12" height="3" fill="#0e9e00"/>
<rect x="934" y="455" width="12" height="9" fill="#359e00"/>
<rect x="934" y="464" width="12" height="8" fill="#3d9e00"/>
<rect x="934" y="472" width="12" height="3" fill="#2d9e00"/>
<rect x="934" y="475" width="12" height="3" fill="#299e00"/>
<rect x="934" y="478" width="12" height="8" fill="#169e00"/>
<rect x="934" y="486" width="12" height="3" fill="#0e9e00"/>
<rect x="934" y="489" width="12" height="6" fill="#279e00"/>
<rect x="934" y="495" width="12" height="3" fill="#219e00"/>
<rect x="934" y="498" width="12" height="21" fill="#149e00"/>
<rect x="934" y="519" width="12" height="5" fill="#129e00"/>
<rect x="880" y="80" width="54" height="27" fill="#2d7300"/>
<rect x="880" y="107" width="54" height="3" fill="#252400"/>
<rect x="880" y="110" width="54" height="2" fill="#297300"/>
<rect x="880" y="112" width="54" height="1" fill="#357300"/>
<rect x="880" y="113" width="54" height="9" fill="#337300"/>
<rect x="880" y="122" width="54" height="23" fill="#2b7300"/>
<rect x="880" y="145" width="54" height="23" fill="#2e7300"/>
<rect x="880" y="168" width="54" height="15" fill="#2f7300"/>
<rect x="880" y="183" width="54" height="9" fill="#307300"/>
<rect x="880" y="192" width="54" height="1" fill="#397300"/>
<rect x="880" y="193" width="54" height="10" fill="#2e7300"/>
<rect x="880" y="203" width="54" height="9" fill="#2f7300"/>
<rect x="880" y="212" width="54" height="31" fill="#307300"/>
<rect x="880" y="243" width="54" height="30" fill="#317300"/>
<rect x="880" y="273" width="54" height="17" fill="#327300"/>
<rect x="880" y="290" width="54" height="12" fill="#337300"/>
<rect x="880" y="302" width="54" height="11" fill="#317300"/>
<rect x="880" y="313" width="54" height="32" fill="#327300"/>
<rect x="880" y="345" width="54" height="12" fill="#355700"/>
<rect x="880" y="357" width="54" height="18" fill="#523800"/>
<rect x="880" y="375" width="54" height="6" fill="#413800"/>
<rect x="880" y="381" width="54" height="4" fill="#355700"/>
<rect x="880" y="385" width="54" height="4" fill="#413800"/>
<rect x="880" y="389" width="54" height="5" fill="#355700"/>
<rect x="880" y="394" width="54" height="11" fill="#413800"/>
<rect x="880" y="405" width="54" height="5" fill="#4a3800"/>
<rect x="880" y="410" width="54" height="7" fill="#573800"/>
<rect x="880" y="417" width="54" height="3" fill="#5a3800"/>
<rect x="880" y="420" width="54" height="3" fill="#4b3800"/>
<rect x="880" y="423" width="54" height="4" fill="#5a3800"/>
<rect x="880" y="427" width="54" height="4" fill="#543800"/>
<rect x="880" y="431" width="54" height="3" fill="#573800"/>
<rect x="880" y="434" width="54" height="7" fill="#633800"/>
<rect x="880" y="441" width="54" height="4" fill="#623800"/>
<rect x="880" y="445" width="54" height="7" fill="#683800"/>
<rect x="880" y="452" width="54" height="3" fill="#5f3800"/>
<rect x="880" y="455" width="54" height="4" fill="#6d3800"/>
<rect x="880" y="459" width="54" height="5" fill="#603800"/>
<rect x="880" y="464" width="54" height="4" fill="#623800"/>
<rect x="880" y="468" width="54" height="4" fill="#693800"/>
<rect x="880" y="472" width="54" height="3" fill="#5b3800"/>
<rect x="880" y="475" width="54" height="3" fill="#583800"/>
<rect x="880" y="478" width="54" height="8" fill="#4f3800"/>
<rect x="880" y="486" width="54" height="3" fill="#4c3800"/>
<rect x="880" y="489" width="54" height="2" fill="#523800"/>
<rect x="880" y="491" width="54" height="4" fill="#5c3800"/>
<rect x="880" y="495" width="54" height="3" fill="#543800"/>
<rect x="880" y="498" width="54" height="6" fill="#443800"/>
<rect x="880" y="504" width="54" height="6" fill="#4b3800"/>
<rect x="880" y="510" width="54" height="6" fill="#4a3800"/>
<rect x="880" y="516" width="54" height="3" fill="#413800"/>
<rect x="880" y="519" width="54" height="5" fill="#433800"/>
<rect x="880" y="80" width="12" height="444" fill="url(#b30)"/>
<rect x="894" y="80" width="12" height="444" fill="url(#b31)"/>
<rect x="908" y="80" width="12" height="444" fill="url(#b32)"/>
<rect x="922" y="80" width="12" height="444" fill="url(#b33)"/>
<rect x="864" y="394" width="16" height="22" fill="url(#wa3)"/>
<rect x="864" y="489" width="16" height="9" fill="url(#wa3)"/>
<rect x="860" y="420" width="20" height="11" fill="url(#wb3)"/>
<rect x="860" y="472" width="20" height="6" fill="url(#wb3)"/>
<rect x="856" y="431" width="24" height="7" fill="url(#wc3)"/>
<rect x="852" y="441" width="28" height="10" fill="url(#wd3)"/>
<rect x="852" y="455" width="28" height="9" fill="url(#wd3)"/>
<rect x="852" y="465" width="28" height="7" fill="url(#wd3)"/>
<rect class="m" x="880" y="80" width="12" height="444" fill="url(#se3)"/>
<rect class="m" x="894" y="80" width="12" height="444" fill="url(#se3)"/>
<rect class="m" x="908" y="80" width="12" height="444" fill="url(#se3)"/>
<rect class="m" x="922" y="80" width="12" height="444" fill="url(#se3)"/>
<rect class="m" x="880" y="80" width="54" height="444" fill="url(#st3)"/>
<rect class="s" x="934" y="80" width="4" height="265" fill="url(#re3)"/>
<rect x="769" y="91" width="3" height="1" fill="#712600"/>
<rect x="772" y="91" width="2" height="1" fill="#a22600"/>
<rect x="774" y="91" width="8" height="1" fill="#752600"/>
<rect x="782" y="91" width="12" height="1" fill="#672600"/>
<rect x="794" y="91" width="4" height="1" fill="#552600"/>
<rect x="798" y="91" width="7" height="1" fill="#672600"/>
<rect x="805" y="91" width="2" height="1" fill="#d32600"/>
<rect x="807" y="91" width="11" height="1" fill="#692600"/>
<rect x="818" y="91" width="12" height="1" fill="#512600"/>
<rect x="830" y="91" width="4" height="1" fill="#612600"/>
<rect x="844" y="91" width="4" height="1" fill="#802600"/>
<rect x="848" y="91" width="2" height="1" fill="#612600"/>
<rect x="852" y="182" width="22" height="1" fill="#584c00"/>
<rect x="860" y="182" width="1" height="1" fill="#a71a00"/>
<rect x="861" y="182" width="1" height="1" fill="#e01a00"/>
<rect x="862" y="182" width="1" height="1" fill="#af1a00"/>
</g>
<path d="M768 94h178v1h-178zM768 97h178v1h-178zM768 113h178v6h-178zM768 139h178v1h-178zM768 145h178v1h-178zM768 147h178v1h-178zM768 152h178v1h-178zM768 162h178v1h-178zM768 168h178v1h-178zM768 202h178v2h-178zM768 212h178v1h-178zM768 218h178v1h-178zM768 224h178v1h-178zM768 237h178v1h-178zM768 243h178v1h-178zM768 245h178v2h-178zM768 249h178v1h-178zM768 252h178v1h-178zM768 260h178v1h-178zM768 263h178v1h-178zM768 266h178v1h-178zM768 268h178v2h-178zM768 286h178v2h-178zM768 301h178v1h-178zM768 304h178v1h-178zM768 310h178v1h-178zM768 313h178v1h-178zM768 323h178v1h-178zM768 333h178v1h-178zM768 342h178v1h-178zM768 345h178v6h-178zM768 364h178v1h-178zM768 379h178v2h-178zM768 384h178v1h-178zM768 405h178v1h-178zM768 429h178v2h-178zM768 445h178v1h-178zM768 453h178v1h-178zM768 462h178v1h-178zM768 478h178v1h-178zM768 495h178v1h-178zM768 498h178v2h-178zM768 516h178v2h-178z" fill="#fff" shape-rendering="crispEdges"/>
<path d="M768 107h178v3h-178zM768 111h178v1h-178zM768 122h178v1h-178zM768 183h178v1h-178zM768 193h178v1h-178zM768 256h178v2h-178zM768 272h178v2h-178zM768 285h178v1h-178zM768 290h178v1h-178zM768 340h178v1h-178zM768 343h178v1h-178zM768 357h178v1h-178zM768 375h178v2h-178zM768 389h178v1h-178zM768 394h178v1h-178zM768 416h178v1h-178zM768 419h178v1h-178zM768 438h178v3h-178zM768 451h178v1h-178zM768 454h178v1h-178zM768 464h178v1h-178zM768 486h178v1h-178zM768 488h178v1h-178zM768 519h178v1h-178zM768 523h178v1h-178z" fill="#000" shape-rendering="crispEdges"/>
<rect x="768.5" y="80.5" width="177.0" height="640.0" fill="none" stroke="#000" stroke-width="1"/>
<path d="M768.5 720.5v-4M768.5 80.5v4M809.5 720.5v-4M809.5 80.5v4M851.5 720.5v-4M851.5 80.5v4M892.5 720.5v-4M892.5 80.5v4M933.5 720.5v-4M933.5 80.5v4M768.5 587.5h4M945.5 587.5h-4M768.5 453.5h4M945.5 453.5h-4M768.5 320.5h4M945.5 320.5h-4M768.5 187.5h4M945.5 187.5h-4" stroke="#000" stroke-width="1" fill="none" shape-rendering="crispEdges"/>
</g>
<rect x="1019.5" y="160.5" width="15" height="480" fill="url(#cb)" stroke="#000" stroke-width="1"/>
<path d="M1019.5 160.5h4M1034.5 160.5h-4M1019.5 256.5h4M1034.5 256.5h-4M1019.5 352.5h4M1034.5 352.5h-4M1019.5 448.5h4M1034.5 448.5h-4M1019.5 544.5h4M1034.5 544.5h-4M1019.5 640.5h4M1034.5 640.5h-4M1022.5 160.5v5.5M1022.5 640.5v-5.5M1025.5 160.5v5.5M1025.5 640.5v-5.5M1028.5 160.5v5.5M1028.5 640.5v-5.5M1031.5 160.5v5.5M1031.5 640.5v-5.5" stroke="#000" stroke-width="1" fill="none" shape-rendering="crispEdges"/>
<path d="M1017 646h1v1h-1zM1021 646h1v1h-1zM1024 646h1v1h-1z" fill="#777" shape-rendering="crispEdges"/>
<path d="M1027 646h1v1h-1zM1030 646h1v1h-1zM1033 646h1v1h-1z" fill="#bbb" shape-rendering="crispEdges"/>
<g style="opacity:0.999">
<text x="131.5" y="736.1" font-size="12.9" text-anchor="middle" textLength="21.5" lengthAdjust="spacingAndGlyphs">320</text>
<text x="172.8" y="736.1" font-size="12.9" text-anchor="middle" textLength="21.5" lengthAdjust="spacingAndGlyphs">335</text>
<text x="214.1" y="736.1" font-size="12.9" text-anchor="middle" textLength="21.5" lengthAdjust="spacingAndGlyphs">350</text>
<text x="255.4" y="736.1" font-size="12.9" text-anchor="middle" textLength="21.5" lengthAdjust="spacingAndGlyphs">365</text>
<text x="296.7" y="736.1" font-size="12.9" text-anchor="middle" textLength="21.5" lengthAdjust="spacingAndGlyphs">380</text>
<text x="126.1" y="723.9" font-size="12.9" text-anchor="end" textLength="6.4" lengthAdjust="spacingAndGlyphs">0</text>
<text x="126.1" y="589.9" font-size="12.9" text-anchor="end" textLength="6.4" lengthAdjust="spacingAndGlyphs">5</text>
<text x="126.1" y="456.9" font-size="12.9" text-anchor="end" textLength="14.2" lengthAdjust="spacingAndGlyphs">10</text>
<text x="126.1" y="323.8" font-size="12.9" text-anchor="end" textLength="14.2" lengthAdjust="spacingAndGlyphs">15</text>
<text x="126.1" y="189.9" font-size="12.9" text-anchor="end" textLength="14.2" lengthAdjust="spacingAndGlyphs">20</text>
<text x="220.0" y="72.9" font-size="16.4" text-anchor="middle" textLength="135.5" lengthAdjust="spacingAndGlyphs">XX, V4*V6=EA05*</text>
<text x="344.5" y="736.1" font-size="12.9" text-anchor="middle" textLength="21.5" lengthAdjust="spacingAndGlyphs">320</text>
<text x="385.8" y="736.1" font-size="12.9" text-anchor="middle" textLength="21.5" lengthAdjust="spacingAndGlyphs">335</text>
<text x="427.1" y="736.1" font-size="12.9" text-anchor="middle" textLength="21.5" lengthAdjust="spacingAndGlyphs">350</text>
<text x="468.4" y="736.1" font-size="12.9" text-anchor="middle" textLength="21.5" lengthAdjust="spacingAndGlyphs">365</text>
<text x="509.7" y="736.1" font-size="12.9" text-anchor="middle" textLength="21.5" lengthAdjust="spacingAndGlyphs">380</text>
<text x="339.1" y="723.9" font-size="12.9" text-anchor="end" textLength="6.4" lengthAdjust="spacingAndGlyphs">0</text>
<text x="339.1" y="589.9" font-size="12.9" text-anchor="end" textLength="6.4" lengthAdjust="spacingAndGlyphs">5</text>
<text x="339.1" y="456.9" font-size="12.9" text-anchor="end" textLength="14.2" lengthAdjust="spacingAndGlyphs">10</text>
<text x="339.1" y="323.8" font-size="12.9" text-anchor="end" textLength="14.2" lengthAdjust="spacingAndGlyphs">15</text>
<text x="339.1" y="189.9" font-size="12.9" text-anchor="end" textLength="14.2" lengthAdjust="spacingAndGlyphs">20</text>
<text x="432.5" y="72.9" font-size="16.4" text-anchor="middle" textLength="135.5" lengthAdjust="spacingAndGlyphs">YY, V4*V6=EA05*</text>
<text x="556.5" y="736.1" font-size="12.9" text-anchor="middle" textLength="21.5" lengthAdjust="spacingAndGlyphs">320</text>
<text x="597.8" y="736.1" font-size="12.9" text-anchor="middle" textLength="21.5" lengthAdjust="spacingAndGlyphs">335</text>
<text x="639.1" y="736.1" font-size="12.9" text-anchor="middle" textLength="21.5" lengthAdjust="spacingAndGlyphs">350</text>
<text x="680.4" y="736.1" font-size="12.9" text-anchor="middle" textLength="21.5" lengthAdjust="spacingAndGlyphs">365</text>
<text x="721.7" y="736.1" font-size="12.9" text-anchor="middle" textLength="21.5" lengthAdjust="spacingAndGlyphs">380</text>
<text x="551.1" y="723.9" font-size="12.9" text-anchor="end" textLength="6.4" lengthAdjust="spacingAndGlyphs">0</text>
<text x="551.1" y="589.9" font-size="12.9" text-anchor="end" textLength="6.4" lengthAdjust="spacingAndGlyphs">5</text>
<text x="551.1" y="456.9" font-size="12.9" text-anchor="end" textLength="14.2" lengthAdjust="spacingAndGlyphs">10</text>
<text x="551.1" y="323.8" font-size="12.9" text-anchor="end" textLength="14.2" lengthAdjust="spacingAndGlyphs">15</text>
<text x="551.1" y="189.9" font-size="12.9" text-anchor="end" textLength="14.2" lengthAdjust="spacingAndGlyphs">20</text>
<text x="645.0" y="72.9" font-size="16.4" text-anchor="middle" textLength="135.5" lengthAdjust="spacingAndGlyphs">XY, V4*V6=EA05*</text>
<text x="768.5" y="736.1" font-size="12.9" text-anchor="middle" textLength="21.5" lengthAdjust="spacingAndGlyphs">320</text>
<text x="809.8" y="736.1" font-size="12.9" text-anchor="middle" textLength="21.5" lengthAdjust="spacingAndGlyphs">335</text>
<text x="851.1" y="736.1" font-size="12.9" text-anchor="middle" textLength="21.5" lengthAdjust="spacingAndGlyphs">350</text>
<text x="892.4" y="736.1" font-size="12.9" text-anchor="middle" textLength="21.5" lengthAdjust="spacingAndGlyphs">365</text>
<text x="933.7" y="736.1" font-size="12.9" text-anchor="middle" textLength="21.5" lengthAdjust="spacingAndGlyphs">380</text>
<text x="763.1" y="723.9" font-size="12.9" text-anchor="end" textLength="6.4" lengthAdjust="spacingAndGlyphs">0</text>
<text x="763.1" y="589.9" font-size="12.9" text-anchor="end" textLength="6.4" lengthAdjust="spacingAndGlyphs">5</text>
<text x="763.1" y="456.9" font-size="12.9" text-anchor="end" textLength="14.2" lengthAdjust="spacingAndGlyphs">10</text>
<text x="763.1" y="323.8" font-size="12.9" text-anchor="end" textLength="14.2" lengthAdjust="spacingAndGlyphs">15</text>
<text x="763.1" y="189.9" font-size="12.9" text-anchor="end" textLength="14.2" lengthAdjust="spacingAndGlyphs">20</text>
<text x="857.0" y="72.9" font-size="16.4" text-anchor="middle" textLength="135.5" lengthAdjust="spacingAndGlyphs">YX, V4*V6=EA05*</text>
<text x="589.5" y="26" font-size="13" text-anchor="middle" textLength="127.6" lengthAdjust="spacingAndGlyphs">2018-02-04 0.0-24.0</text>
<text x="483.4" y="754.7" font-size="12.9" text-anchor="middle" textLength="102.1" lengthAdjust="spacingAndGlyphs">frequency (MHz)</text>
<text transform="translate(101 400.2) rotate(-90)" font-size="12.9" text-anchor="middle" textLength="64.5" lengthAdjust="spacingAndGlyphs">UT (hours)</text>
<text x="1013.5" y="162.8" font-size="10.7" text-anchor="end" textLength="6.0" lengthAdjust="spacingAndGlyphs">1</text>
<text x="1013.5" y="258.8" font-size="10.7" text-anchor="end" textLength="6.0" lengthAdjust="spacingAndGlyphs">0</text>
<text x="1013.5" y="354.8" font-size="10.7" text-anchor="end" textLength="14.4" lengthAdjust="spacingAndGlyphs">−1</text>
<text x="1013.5" y="450.8" font-size="10.7" text-anchor="end" textLength="14.4" lengthAdjust="spacingAndGlyphs">−2</text>
<text x="1013.5" y="546.8" font-size="10.7" text-anchor="end" textLength="14.4" lengthAdjust="spacingAndGlyphs">−3</text>
<text x="1013.5" y="642.8" font-size="10.7" text-anchor="end" textLength="14.4" lengthAdjust="spacingAndGlyphs">−4</text>
<g transform="translate(984.8 447.2) rotate(-90)"><text x="0" y="0" font-size="12.9" textLength="19" lengthAdjust="spacingAndGlyphs">log</text><text x="19.3" y="3.2" font-size="7.6" textLength="7.5" lengthAdjust="spacingAndGlyphs">10</text><text x="31.3" y="0" font-size="12.9" textLength="62.4" lengthAdjust="spacingAndGlyphs">amplitude</text></g>
</g>
</svg>
</body></html>
